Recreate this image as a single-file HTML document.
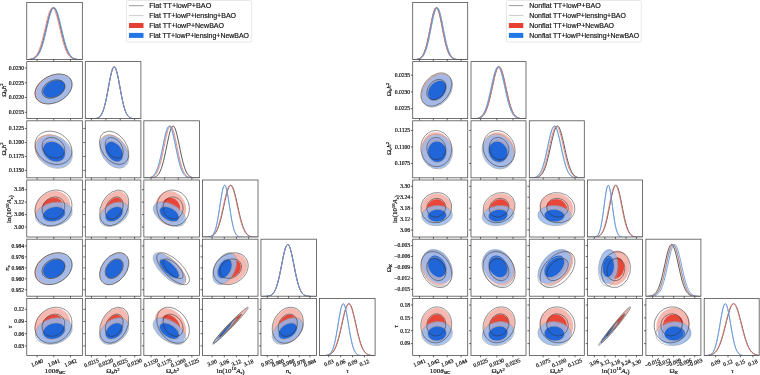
<!DOCTYPE html>
<html><head><meta charset="utf-8"><style>
html,body{margin:0;padding:0;background:#fff;width:760px;height:375px;overflow:hidden}
svg{display:block;will-change:transform}
.tk{font-family:"Liberation Serif",serif;font-size:5.6px;fill:#111;stroke:#111;stroke-width:0.2px}
.lb{font-family:"Liberation Serif",serif;font-size:7.0px;fill:#111;stroke:#111;stroke-width:0.18px}
.lg{font-family:"Liberation Sans",sans-serif;font-size:7.3px;fill:#111;stroke:#111;stroke-width:0.18px}
</style></head><body>
<svg width="760" height="375" viewBox="0 0 760 375">
<rect width="760" height="375" fill="#fff"/>
<clipPath id="cL00"><rect x="26.75" y="2.40" width="55.60" height="57.00"/></clipPath>
<clipPath id="cL10"><rect x="26.75" y="61.60" width="55.60" height="57.00"/></clipPath>
<clipPath id="cL11"><rect x="85.30" y="61.60" width="55.60" height="57.00"/></clipPath>
<clipPath id="cL20"><rect x="26.75" y="120.80" width="55.60" height="57.00"/></clipPath>
<clipPath id="cL21"><rect x="85.30" y="120.80" width="55.60" height="57.00"/></clipPath>
<clipPath id="cL22"><rect x="143.85" y="120.80" width="55.60" height="57.00"/></clipPath>
<clipPath id="cL30"><rect x="26.75" y="180.00" width="55.60" height="57.00"/></clipPath>
<clipPath id="cL31"><rect x="85.30" y="180.00" width="55.60" height="57.00"/></clipPath>
<clipPath id="cL32"><rect x="143.85" y="180.00" width="55.60" height="57.00"/></clipPath>
<clipPath id="cL33"><rect x="202.40" y="180.00" width="55.60" height="57.00"/></clipPath>
<clipPath id="cL40"><rect x="26.75" y="239.20" width="55.60" height="57.00"/></clipPath>
<clipPath id="cL41"><rect x="85.30" y="239.20" width="55.60" height="57.00"/></clipPath>
<clipPath id="cL42"><rect x="143.85" y="239.20" width="55.60" height="57.00"/></clipPath>
<clipPath id="cL43"><rect x="202.40" y="239.20" width="55.60" height="57.00"/></clipPath>
<clipPath id="cL44"><rect x="260.95" y="239.20" width="55.60" height="57.00"/></clipPath>
<clipPath id="cL50"><rect x="26.75" y="298.40" width="55.60" height="57.00"/></clipPath>
<clipPath id="cL51"><rect x="85.30" y="298.40" width="55.60" height="57.00"/></clipPath>
<clipPath id="cL52"><rect x="143.85" y="298.40" width="55.60" height="57.00"/></clipPath>
<clipPath id="cL53"><rect x="202.40" y="298.40" width="55.60" height="57.00"/></clipPath>
<clipPath id="cL54"><rect x="260.95" y="298.40" width="55.60" height="57.00"/></clipPath>
<clipPath id="cL55"><rect x="319.50" y="298.40" width="55.60" height="57.00"/></clipPath>
<g clip-path="url(#cL00)">
<polyline points="25.75,59.66 26.23,59.65 26.72,59.64 27.20,59.62 27.69,59.60 28.17,59.57 28.65,59.54 29.14,59.50 29.62,59.45 30.11,59.39 30.59,59.32 31.07,59.23 31.56,59.13 32.04,59.00 32.53,58.85 33.01,58.68 33.49,58.47 33.98,58.23 34.46,57.95 34.95,57.62 35.43,57.25 35.91,56.82 36.40,56.32 36.88,55.77 37.37,55.14 37.85,54.43 38.33,53.64 38.82,52.76 39.30,51.79 39.79,50.72 40.27,49.56 40.76,48.29 41.24,46.92 41.72,45.45 42.21,43.88 42.69,42.22 43.18,40.46 43.66,38.62 44.14,36.70 44.63,34.73 45.11,32.70 45.60,30.63 46.08,28.54 46.56,26.45 47.05,24.38 47.53,22.34 48.02,20.36 48.50,18.45 48.98,16.64 49.47,14.95 49.95,13.39 50.44,11.99 50.92,10.77 51.40,9.74 51.89,8.90 52.37,8.28 52.86,7.88 53.34,7.71 53.82,7.76 54.31,8.04 54.79,8.55 55.28,9.28 55.76,10.21 56.24,11.33 56.73,12.64 57.21,14.12 57.70,15.74 58.18,17.49 58.66,19.35 59.15,21.30 59.63,23.31 60.12,25.37 60.60,27.45 61.08,29.54 61.57,31.62 62.05,33.67 62.54,35.68 63.02,37.63 63.50,39.51 63.99,41.31 64.47,43.02 64.96,44.65 65.44,46.17 65.92,47.59 66.41,48.91 66.89,50.13 67.38,51.25 67.86,52.27 68.34,53.19 68.83,54.03 69.31,54.78 69.80,55.45 70.28,56.04 70.77,56.57 71.25,57.03 71.73,57.43 72.22,57.78 72.70,58.09 73.19,58.35 73.67,58.57 74.15,58.76 74.64,58.93 75.12,59.06 75.61,59.18 76.09,59.27 76.57,59.35 77.06,59.42 77.54,59.47 78.03,59.52 78.51,59.56 78.99,59.59 79.48,59.61 79.96,59.63 80.45,59.64 80.93,59.66 81.41,59.67 81.90,59.67 82.38,59.68 82.87,59.68 83.35,59.69" fill="none" stroke="#2a2a2a" stroke-width="0.80"/>
<polyline points="25.75,59.64 26.23,59.62 26.72,59.60 27.20,59.57 27.69,59.54 28.17,59.50 28.65,59.45 29.14,59.39 29.62,59.31 30.11,59.22 30.59,59.12 31.07,58.99 31.56,58.84 32.04,58.66 32.53,58.45 33.01,58.21 33.49,57.93 33.98,57.60 34.46,57.22 34.95,56.78 35.43,56.29 35.91,55.72 36.40,55.09 36.88,54.38 37.37,53.58 37.85,52.70 38.33,51.72 38.82,50.65 39.30,49.47 39.79,48.20 40.27,46.82 40.76,45.34 41.24,43.77 41.72,42.10 42.21,40.33 42.69,38.49 43.18,36.57 43.66,34.59 44.14,32.55 44.63,30.48 45.11,28.40 45.60,26.31 46.08,24.23 46.56,22.20 47.05,20.22 47.53,18.32 48.02,16.52 48.50,14.83 48.98,13.29 49.47,11.90 49.95,10.69 50.44,9.67 50.92,8.85 51.40,8.25 51.89,7.86 52.37,7.70 52.86,7.77 53.34,8.07 53.82,8.60 54.31,9.33 54.79,10.28 55.28,11.42 55.76,12.74 56.24,14.23 56.73,15.86 57.21,17.62 57.70,19.49 58.18,21.44 58.66,23.45 59.15,25.52 59.63,27.60 60.12,29.69 60.60,31.77 61.08,33.82 61.57,35.82 62.05,37.76 62.54,39.64 63.02,41.43 63.50,43.14 63.99,44.76 64.47,46.27 64.96,47.69 65.44,49.00 65.92,50.21 66.41,51.32 66.89,52.34 67.38,53.25 67.86,54.08 68.34,54.83 68.83,55.49 69.31,56.08 69.80,56.60 70.28,57.06 70.77,57.46 71.25,57.81 71.73,58.11 72.22,58.37 72.70,58.59 73.19,58.78 73.67,58.94 74.15,59.07 74.64,59.19 75.12,59.28 75.61,59.36 76.09,59.42 76.57,59.48 77.06,59.52 77.54,59.56 78.03,59.59 78.51,59.61 78.99,59.63 79.48,59.64 79.96,59.66 80.45,59.67 80.93,59.67 81.41,59.68 81.90,59.68 82.38,59.69 82.87,59.69 83.35,59.69" fill="none" stroke="#e87a70" stroke-width="0.90"/>
<polyline points="25.75,59.67 26.23,59.66 26.72,59.65 27.20,59.63 27.69,59.61 28.17,59.59 28.65,59.56 29.14,59.53 29.62,59.48 30.11,59.43 30.59,59.37 31.07,59.29 31.56,59.20 32.04,59.09 32.53,58.96 33.01,58.80 33.49,58.62 33.98,58.40 34.46,58.15 34.95,57.85 35.43,57.51 35.91,57.12 36.40,56.67 36.88,56.16 37.37,55.58 37.85,54.93 38.33,54.19 38.82,53.38 39.30,52.47 39.79,51.47 40.27,50.37 40.76,49.18 41.24,47.88 41.72,46.48 42.21,44.98 42.69,43.37 43.18,41.68 43.66,39.90 44.14,38.03 44.63,36.10 45.11,34.10 45.60,32.06 46.08,29.99 46.56,27.90 47.05,25.81 47.53,23.74 48.02,21.72 48.50,19.76 48.98,17.88 49.47,16.10 49.95,14.45 50.44,12.94 50.92,11.60 51.40,10.43 51.89,9.45 52.37,8.69 52.86,8.13 53.34,7.80 53.82,7.70 54.31,7.83 54.79,8.18 55.28,8.75 55.76,9.54 56.24,10.54 56.73,11.72 57.21,13.08 57.70,14.61 58.18,16.27 58.66,18.06 59.15,19.95 59.63,21.92 60.12,23.94 60.60,26.01 61.08,28.10 61.57,30.19 62.05,32.26 62.54,34.30 63.02,36.29 63.50,38.22 63.99,40.08 64.47,41.85 64.96,43.54 65.44,45.13 65.92,46.62 66.41,48.01 66.89,49.30 67.38,50.49 67.86,51.57 68.34,52.56 68.83,53.46 69.31,54.27 69.80,54.99 70.28,55.64 70.77,56.21 71.25,56.72 71.73,57.16 72.22,57.55 72.70,57.88 73.19,58.17 73.67,58.42 74.15,58.64 74.64,58.82 75.12,58.97 75.61,59.10 76.09,59.21 76.57,59.30 77.06,59.38 77.54,59.44 78.03,59.49 78.51,59.53 78.99,59.57 79.48,59.59 79.96,59.62 80.45,59.63 80.93,59.65 81.41,59.66 81.90,59.67 82.38,59.68 82.87,59.68 83.35,59.69" fill="none" stroke="#8a8a8a" stroke-width="0.60"/>
<polyline points="25.75,59.67 26.23,59.67 26.72,59.66 27.20,59.64 27.69,59.63 28.17,59.61 28.65,59.58 29.14,59.55 29.62,59.52 30.11,59.47 30.59,59.41 31.07,59.35 31.56,59.27 32.04,59.17 32.53,59.05 33.01,58.91 33.49,58.75 33.98,58.55 34.46,58.33 34.95,58.06 35.43,57.75 35.91,57.40 36.40,56.99 36.88,56.52 37.37,55.99 37.85,55.39 38.33,54.71 38.82,53.95 39.30,53.11 39.79,52.17 40.27,51.14 40.76,50.01 41.24,48.78 41.72,47.45 42.21,46.02 42.69,44.49 43.18,42.86 43.66,41.14 44.14,39.33 44.63,37.44 45.11,35.48 45.60,33.47 46.08,31.42 46.56,29.34 47.05,27.25 47.53,25.16 48.02,23.11 48.50,21.10 48.98,19.16 49.47,17.31 49.95,15.57 50.44,13.97 50.92,12.51 51.40,11.21 51.89,10.11 52.37,9.19 52.86,8.49 53.34,8.01 53.82,7.75 54.31,7.71 54.79,7.91 55.28,8.33 55.76,8.97 56.24,9.83 56.73,10.88 57.21,12.13 57.70,13.54 58.18,15.11 58.66,16.81 59.15,18.63 59.63,20.55 60.12,22.54 60.60,24.58 61.08,26.66 61.57,28.75 62.05,30.84 62.54,32.90 63.02,34.92 63.50,36.90 63.99,38.80 64.47,40.64 64.96,42.38 65.44,44.04 65.92,45.60 66.41,47.06 66.89,48.42 67.38,49.68 67.86,50.83 68.34,51.89 68.83,52.85 69.31,53.72 69.80,54.50 70.28,55.20 70.77,55.82 71.25,56.38 71.73,56.86 72.22,57.29 72.70,57.66 73.19,57.98 73.67,58.25 74.15,58.49 74.64,58.70 75.12,58.87 75.61,59.01 76.09,59.14 76.57,59.24 77.06,59.33 77.54,59.40 78.03,59.46 78.51,59.50 78.99,59.54 79.48,59.57 79.96,59.60 80.45,59.62 80.93,59.64 81.41,59.65 81.90,59.66 82.38,59.67 82.87,59.68 83.35,59.68" fill="none" stroke="#5a98ea" stroke-width="0.90"/>
</g>
<rect x="26.75" y="2.40" width="55.60" height="57.00" fill="none" stroke="#505050" stroke-width="0.8"/>
<path d="M37.10 59.40v1.9M53.80 59.40v1.9M70.50 59.40v1.9" stroke="#2a2a2a" stroke-width="0.7" fill="none"/>
<g clip-path="url(#cL10)">
<ellipse cx="52.46" cy="88.97" rx="18.95" ry="12.99" transform="rotate(152.78 52.46 88.97)" fill="#f3ada5" fill-opacity="0.85"/>
<ellipse cx="52.46" cy="88.97" rx="11.73" ry="8.04" transform="rotate(152.78 52.46 88.97)" fill="#e63f33" fill-opacity="0.95"/>
<ellipse cx="54.13" cy="88.97" rx="18.95" ry="12.99" transform="rotate(152.78 54.13 88.97)" fill="#98b8ee" fill-opacity="0.85"/>
<ellipse cx="54.13" cy="88.97" rx="11.73" ry="8.04" transform="rotate(152.78 54.13 88.97)" fill="#1a62d8" fill-opacity="0.95"/>
<ellipse cx="53.80" cy="88.97" rx="19.61" ry="13.44" transform="rotate(152.78 53.80 88.97)" fill="none" stroke="#9a9a9a" stroke-width="0.6"/>
<ellipse cx="53.80" cy="88.97" rx="12.14" ry="8.32" transform="rotate(152.78 53.80 88.97)" fill="none" stroke="#9a9a9a" stroke-width="0.6"/>
<ellipse cx="53.47" cy="88.97" rx="19.61" ry="13.44" transform="rotate(152.78 53.47 88.97)" fill="none" stroke="#333333" stroke-width="0.5"/>
<ellipse cx="53.47" cy="88.97" rx="12.14" ry="8.32" transform="rotate(152.78 53.47 88.97)" fill="none" stroke="#333333" stroke-width="0.5"/>
</g>
<rect x="26.75" y="61.60" width="55.60" height="57.00" fill="none" stroke="#505050" stroke-width="0.8"/>
<path d="M37.10 118.60v1.9M53.80 118.60v1.9M70.50 118.60v1.9M26.75 112.27h-1.9M26.75 97.52h-1.9M26.75 82.78h-1.9M26.75 68.03h-1.9" stroke="#2a2a2a" stroke-width="0.7" fill="none"/>
<g clip-path="url(#cL11)">
<polyline points="84.30,118.90 84.78,118.90 85.27,118.90 85.75,118.90 86.24,118.90 86.72,118.90 87.20,118.90 87.69,118.90 88.17,118.90 88.66,118.90 89.14,118.90 89.62,118.89 90.11,118.89 90.59,118.89 91.08,118.88 91.56,118.88 92.04,118.87 92.53,118.86 93.01,118.84 93.50,118.82 93.98,118.79 94.46,118.76 94.95,118.71 95.43,118.65 95.92,118.57 96.40,118.47 96.88,118.34 97.37,118.18 97.85,117.98 98.34,117.74 98.82,117.44 99.31,117.08 99.79,116.64 100.27,116.12 100.76,115.51 101.24,114.78 101.73,113.94 102.21,112.97 102.69,111.86 103.18,110.60 103.66,109.19 104.15,107.61 104.63,105.87 105.11,103.96 105.60,101.90 106.08,99.69 106.57,97.34 107.05,94.88 107.53,92.33 108.02,89.71 108.50,87.06 108.99,84.42 109.47,81.82 109.95,79.30 110.44,76.91 110.92,74.70 111.41,72.69 111.89,70.93 112.37,69.46 112.86,68.30 113.34,67.48 113.83,67.01 114.31,66.91 114.79,67.18 115.28,67.80 115.76,68.78 116.25,70.08 116.73,71.69 117.21,73.56 117.70,75.67 118.18,77.97 118.67,80.42 119.15,82.98 119.63,85.60 120.12,88.25 120.60,90.89 121.09,93.48 121.57,96.00 122.05,98.41 122.54,100.70 123.02,102.84 123.51,104.84 123.99,106.67 124.47,108.34 124.96,109.84 125.44,111.19 125.93,112.38 126.41,113.43 126.89,114.34 127.38,115.12 127.86,115.80 128.35,116.37 128.83,116.85 129.32,117.25 129.80,117.58 130.28,117.85 130.77,118.08 131.25,118.26 131.74,118.40 132.22,118.51 132.70,118.60 133.19,118.68 133.67,118.73 134.16,118.77 134.64,118.81 135.12,118.83 135.61,118.85 136.09,118.86 136.58,118.87 137.06,118.88 137.54,118.89 138.03,118.89 138.51,118.89 139.00,118.90 139.48,118.90 139.96,118.90 140.45,118.90 140.93,118.90 141.42,118.90 141.90,118.90" fill="none" stroke="#2a2a2a" stroke-width="0.80"/>
<polyline points="84.30,118.90 84.78,118.90 85.27,118.90 85.75,118.90 86.24,118.90 86.72,118.90 87.20,118.90 87.69,118.90 88.17,118.90 88.66,118.90 89.14,118.90 89.62,118.89 90.11,118.89 90.59,118.89 91.08,118.88 91.56,118.88 92.04,118.87 92.53,118.86 93.01,118.84 93.50,118.82 93.98,118.79 94.46,118.76 94.95,118.71 95.43,118.65 95.92,118.57 96.40,118.47 96.88,118.34 97.37,118.18 97.85,117.98 98.34,117.74 98.82,117.44 99.31,117.08 99.79,116.64 100.27,116.12 100.76,115.51 101.24,114.78 101.73,113.94 102.21,112.97 102.69,111.86 103.18,110.60 103.66,109.19 104.15,107.61 104.63,105.87 105.11,103.96 105.60,101.90 106.08,99.69 106.57,97.34 107.05,94.88 107.53,92.33 108.02,89.71 108.50,87.06 108.99,84.42 109.47,81.82 109.95,79.30 110.44,76.91 110.92,74.70 111.41,72.69 111.89,70.93 112.37,69.46 112.86,68.30 113.34,67.48 113.83,67.01 114.31,66.91 114.79,67.18 115.28,67.80 115.76,68.78 116.25,70.08 116.73,71.69 117.21,73.56 117.70,75.67 118.18,77.97 118.67,80.42 119.15,82.98 119.63,85.60 120.12,88.25 120.60,90.89 121.09,93.48 121.57,96.00 122.05,98.41 122.54,100.70 123.02,102.84 123.51,104.84 123.99,106.67 124.47,108.34 124.96,109.84 125.44,111.19 125.93,112.38 126.41,113.43 126.89,114.34 127.38,115.12 127.86,115.80 128.35,116.37 128.83,116.85 129.32,117.25 129.80,117.58 130.28,117.85 130.77,118.08 131.25,118.26 131.74,118.40 132.22,118.51 132.70,118.60 133.19,118.68 133.67,118.73 134.16,118.77 134.64,118.81 135.12,118.83 135.61,118.85 136.09,118.86 136.58,118.87 137.06,118.88 137.54,118.89 138.03,118.89 138.51,118.89 139.00,118.90 139.48,118.90 139.96,118.90 140.45,118.90 140.93,118.90 141.42,118.90 141.90,118.90" fill="none" stroke="#e87a70" stroke-width="0.90"/>
<polyline points="84.30,118.90 84.78,118.90 85.27,118.90 85.75,118.90 86.24,118.90 86.72,118.90 87.20,118.90 87.69,118.90 88.17,118.90 88.66,118.90 89.14,118.90 89.62,118.89 90.11,118.89 90.59,118.89 91.08,118.88 91.56,118.88 92.04,118.87 92.53,118.86 93.01,118.84 93.50,118.82 93.98,118.79 94.46,118.76 94.95,118.71 95.43,118.65 95.92,118.57 96.40,118.47 96.88,118.34 97.37,118.18 97.85,117.98 98.34,117.74 98.82,117.44 99.31,117.08 99.79,116.64 100.27,116.12 100.76,115.51 101.24,114.78 101.73,113.94 102.21,112.97 102.69,111.86 103.18,110.60 103.66,109.19 104.15,107.61 104.63,105.87 105.11,103.96 105.60,101.90 106.08,99.69 106.57,97.34 107.05,94.88 107.53,92.33 108.02,89.71 108.50,87.06 108.99,84.42 109.47,81.82 109.95,79.30 110.44,76.91 110.92,74.70 111.41,72.69 111.89,70.93 112.37,69.46 112.86,68.30 113.34,67.48 113.83,67.01 114.31,66.91 114.79,67.18 115.28,67.80 115.76,68.78 116.25,70.08 116.73,71.69 117.21,73.56 117.70,75.67 118.18,77.97 118.67,80.42 119.15,82.98 119.63,85.60 120.12,88.25 120.60,90.89 121.09,93.48 121.57,96.00 122.05,98.41 122.54,100.70 123.02,102.84 123.51,104.84 123.99,106.67 124.47,108.34 124.96,109.84 125.44,111.19 125.93,112.38 126.41,113.43 126.89,114.34 127.38,115.12 127.86,115.80 128.35,116.37 128.83,116.85 129.32,117.25 129.80,117.58 130.28,117.85 130.77,118.08 131.25,118.26 131.74,118.40 132.22,118.51 132.70,118.60 133.19,118.68 133.67,118.73 134.16,118.77 134.64,118.81 135.12,118.83 135.61,118.85 136.09,118.86 136.58,118.87 137.06,118.88 137.54,118.89 138.03,118.89 138.51,118.89 139.00,118.90 139.48,118.90 139.96,118.90 140.45,118.90 140.93,118.90 141.42,118.90 141.90,118.90" fill="none" stroke="#8a8a8a" stroke-width="0.60"/>
<polyline points="84.30,118.90 84.78,118.90 85.27,118.90 85.75,118.90 86.24,118.90 86.72,118.90 87.20,118.90 87.69,118.90 88.17,118.90 88.66,118.90 89.14,118.90 89.62,118.89 90.11,118.89 90.59,118.89 91.08,118.88 91.56,118.88 92.04,118.87 92.53,118.86 93.01,118.84 93.50,118.82 93.98,118.79 94.46,118.76 94.95,118.71 95.43,118.65 95.92,118.57 96.40,118.47 96.88,118.34 97.37,118.18 97.85,117.98 98.34,117.74 98.82,117.44 99.31,117.08 99.79,116.64 100.27,116.12 100.76,115.51 101.24,114.78 101.73,113.94 102.21,112.97 102.69,111.86 103.18,110.60 103.66,109.19 104.15,107.61 104.63,105.87 105.11,103.96 105.60,101.90 106.08,99.69 106.57,97.34 107.05,94.88 107.53,92.33 108.02,89.71 108.50,87.06 108.99,84.42 109.47,81.82 109.95,79.30 110.44,76.91 110.92,74.70 111.41,72.69 111.89,70.93 112.37,69.46 112.86,68.30 113.34,67.48 113.83,67.01 114.31,66.91 114.79,67.18 115.28,67.80 115.76,68.78 116.25,70.08 116.73,71.69 117.21,73.56 117.70,75.67 118.18,77.97 118.67,80.42 119.15,82.98 119.63,85.60 120.12,88.25 120.60,90.89 121.09,93.48 121.57,96.00 122.05,98.41 122.54,100.70 123.02,102.84 123.51,104.84 123.99,106.67 124.47,108.34 124.96,109.84 125.44,111.19 125.93,112.38 126.41,113.43 126.89,114.34 127.38,115.12 127.86,115.80 128.35,116.37 128.83,116.85 129.32,117.25 129.80,117.58 130.28,117.85 130.77,118.08 131.25,118.26 131.74,118.40 132.22,118.51 132.70,118.60 133.19,118.68 133.67,118.73 134.16,118.77 134.64,118.81 135.12,118.83 135.61,118.85 136.09,118.86 136.58,118.87 137.06,118.88 137.54,118.89 138.03,118.89 138.51,118.89 139.00,118.90 139.48,118.90 139.96,118.90 140.45,118.90 140.93,118.90 141.42,118.90 141.90,118.90" fill="none" stroke="#5a98ea" stroke-width="0.90"/>
</g>
<rect x="85.30" y="61.60" width="55.60" height="57.00" fill="none" stroke="#505050" stroke-width="0.8"/>
<path d="M91.47 118.60v1.9M105.86 118.60v1.9M120.24 118.60v1.9M134.63 118.60v1.9" stroke="#2a2a2a" stroke-width="0.7" fill="none"/>
<g clip-path="url(#cL20)">
<ellipse cx="52.46" cy="150.45" rx="18.82" ry="14.99" transform="rotate(-148.59 52.46 150.45)" fill="#f3ada5" fill-opacity="0.85"/>
<ellipse cx="52.46" cy="150.45" rx="11.65" ry="9.28" transform="rotate(-148.59 52.46 150.45)" fill="#e63f33" fill-opacity="0.95"/>
<ellipse cx="54.13" cy="151.79" rx="18.96" ry="14.82" transform="rotate(-147.51 54.13 151.79)" fill="#98b8ee" fill-opacity="0.85"/>
<ellipse cx="54.13" cy="151.79" rx="11.73" ry="9.17" transform="rotate(-147.51 54.13 151.79)" fill="#1a62d8" fill-opacity="0.95"/>
<ellipse cx="53.80" cy="151.57" rx="19.62" ry="15.34" transform="rotate(-147.51 53.80 151.57)" fill="none" stroke="#9a9a9a" stroke-width="0.6"/>
<ellipse cx="53.80" cy="151.57" rx="12.15" ry="9.49" transform="rotate(-147.51 53.80 151.57)" fill="none" stroke="#9a9a9a" stroke-width="0.6"/>
<ellipse cx="53.47" cy="147.83" rx="19.48" ry="15.52" transform="rotate(-148.59 53.47 147.83)" fill="none" stroke="#333333" stroke-width="0.5"/>
<ellipse cx="53.47" cy="147.83" rx="12.06" ry="9.60" transform="rotate(-148.59 53.47 147.83)" fill="none" stroke="#333333" stroke-width="0.5"/>
</g>
<rect x="26.75" y="120.80" width="55.60" height="57.00" fill="none" stroke="#505050" stroke-width="0.8"/>
<path d="M37.10 177.80v1.9M53.80 177.80v1.9M70.50 177.80v1.9M26.75 170.43h-1.9M26.75 156.48h-1.9M26.75 142.52h-1.9M26.75 128.57h-1.9" stroke="#2a2a2a" stroke-width="0.7" fill="none"/>
<g clip-path="url(#cL21)">
<ellipse cx="114.20" cy="150.45" rx="17.73" ry="12.00" transform="rotate(55.59 114.20 150.45)" fill="#f3ada5" fill-opacity="0.85"/>
<ellipse cx="114.20" cy="150.45" rx="10.97" ry="7.43" transform="rotate(55.59 114.20 150.45)" fill="#e63f33" fill-opacity="0.95"/>
<ellipse cx="114.20" cy="151.79" rx="17.73" ry="12.00" transform="rotate(55.59 114.20 151.79)" fill="#98b8ee" fill-opacity="0.85"/>
<ellipse cx="114.20" cy="151.79" rx="10.97" ry="7.43" transform="rotate(55.59 114.20 151.79)" fill="#1a62d8" fill-opacity="0.95"/>
<ellipse cx="114.20" cy="151.57" rx="18.35" ry="12.42" transform="rotate(55.59 114.20 151.57)" fill="none" stroke="#9a9a9a" stroke-width="0.6"/>
<ellipse cx="114.20" cy="151.57" rx="11.36" ry="7.69" transform="rotate(55.59 114.20 151.57)" fill="none" stroke="#9a9a9a" stroke-width="0.6"/>
<ellipse cx="114.20" cy="147.83" rx="18.35" ry="12.42" transform="rotate(55.59 114.20 147.83)" fill="none" stroke="#333333" stroke-width="0.5"/>
<ellipse cx="114.20" cy="147.83" rx="11.36" ry="7.69" transform="rotate(55.59 114.20 147.83)" fill="none" stroke="#333333" stroke-width="0.5"/>
</g>
<rect x="85.30" y="120.80" width="55.60" height="57.00" fill="none" stroke="#505050" stroke-width="0.8"/>
<path d="M91.47 177.80v1.9M105.86 177.80v1.9M120.24 177.80v1.9M134.63 177.80v1.9M85.30 170.43h-1.9M85.30 156.48h-1.9M85.30 142.52h-1.9M85.30 128.57h-1.9" stroke="#2a2a2a" stroke-width="0.7" fill="none"/>
<g clip-path="url(#cL22)">
<polyline points="142.85,178.10 143.33,178.10 143.82,178.10 144.30,178.10 144.79,178.10 145.27,178.10 145.75,178.09 146.24,178.09 146.72,178.09 147.21,178.08 147.69,178.08 148.17,178.07 148.66,178.06 149.14,178.05 149.63,178.03 150.11,178.01 150.59,177.99 151.08,177.95 151.56,177.91 152.05,177.86 152.53,177.79 153.01,177.70 153.50,177.60 153.98,177.47 154.47,177.32 154.95,177.13 155.43,176.91 155.92,176.64 156.40,176.31 156.89,175.93 157.37,175.49 157.86,174.97 158.34,174.37 158.82,173.68 159.31,172.89 159.79,171.99 160.28,170.98 160.76,169.85 161.24,168.59 161.73,167.21 162.21,165.69 162.70,164.04 163.18,162.26 163.66,160.36 164.15,158.35 164.63,156.23 165.12,154.02 165.60,151.73 166.08,149.39 166.57,147.02 167.05,144.65 167.54,142.30 168.02,140.00 168.50,137.78 168.99,135.68 169.47,133.71 169.96,131.92 170.44,130.33 170.92,128.97 171.41,127.85 171.89,126.99 172.38,126.42 172.86,126.13 173.34,126.14 173.83,126.44 174.31,127.04 174.80,127.91 175.28,129.04 175.76,130.42 176.25,132.03 176.73,133.83 177.22,135.80 177.70,137.92 178.18,140.14 178.67,142.44 179.15,144.80 179.64,147.17 180.12,149.54 180.60,151.87 181.09,154.15 181.57,156.36 182.06,158.47 182.54,160.48 183.02,162.38 183.51,164.15 183.99,165.79 184.48,167.29 184.96,168.67 185.44,169.92 185.93,171.04 186.41,172.05 186.90,172.94 187.38,173.72 187.87,174.41 188.35,175.00 188.83,175.52 189.32,175.96 189.80,176.34 190.29,176.65 190.77,176.92 191.25,177.14 191.74,177.33 192.22,177.48 192.71,177.61 193.19,177.71 193.67,177.79 194.16,177.86 194.64,177.91 195.13,177.96 195.61,177.99 196.09,178.01 196.58,178.03 197.06,178.05 197.55,178.06 198.03,178.07 198.51,178.08 199.00,178.08 199.48,178.09 199.97,178.09 200.45,178.09" fill="none" stroke="#2a2a2a" stroke-width="0.80"/>
<polyline points="142.85,178.10 143.33,178.09 143.82,178.09 144.30,178.09 144.79,178.08 145.27,178.08 145.75,178.07 146.24,178.06 146.72,178.05 147.21,178.03 147.69,178.01 148.17,177.98 148.66,177.94 149.14,177.90 149.63,177.84 150.11,177.77 150.59,177.68 151.08,177.57 151.56,177.43 152.05,177.27 152.53,177.07 153.01,176.83 153.50,176.55 153.98,176.21 154.47,175.81 154.95,175.35 155.43,174.81 155.92,174.18 156.40,173.46 156.89,172.64 157.37,171.71 157.86,170.67 158.34,169.50 158.82,168.21 159.31,166.78 159.79,165.23 160.28,163.54 160.76,161.73 161.24,159.80 161.73,157.75 162.21,155.60 162.70,153.37 163.18,151.06 163.66,148.71 164.15,146.34 164.63,143.97 165.12,141.63 165.60,139.35 166.08,137.16 166.57,135.10 167.05,133.18 167.54,131.44 168.02,129.92 168.50,128.62 168.99,127.57 169.47,126.80 169.96,126.31 170.44,126.10 170.92,126.20 171.41,126.59 171.89,127.26 172.38,128.21 172.86,129.41 173.34,130.86 173.83,132.53 174.31,134.38 174.80,136.40 175.28,138.54 175.76,140.79 176.25,143.11 176.73,145.48 177.22,147.85 177.70,150.21 178.18,152.53 178.67,154.80 179.15,156.98 179.64,159.06 180.12,161.04 180.60,162.90 181.09,164.63 181.57,166.23 182.06,167.70 182.54,169.04 183.02,170.26 183.51,171.34 183.99,172.31 184.48,173.17 184.96,173.93 185.44,174.59 185.93,175.16 186.41,175.65 186.90,176.07 187.38,176.43 187.87,176.74 188.35,176.99 188.83,177.20 189.32,177.38 189.80,177.52 190.29,177.64 190.77,177.74 191.25,177.81 191.74,177.88 192.22,177.93 192.71,177.97 193.19,178.00 193.67,178.02 194.16,178.04 194.64,178.05 195.13,178.07 195.61,178.07 196.09,178.08 196.58,178.09 197.06,178.09 197.55,178.09 198.03,178.09 198.51,178.10 199.00,178.10 199.48,178.10 199.97,178.10 200.45,178.10" fill="none" stroke="#e87a70" stroke-width="0.90"/>
<polyline points="142.85,178.09 143.33,178.09 143.82,178.08 144.30,178.08 144.79,178.07 145.27,178.06 145.75,178.04 146.24,178.02 146.72,178.00 147.21,177.97 147.69,177.93 148.17,177.88 148.66,177.82 149.14,177.75 149.63,177.65 150.11,177.54 150.59,177.40 151.08,177.22 151.56,177.02 152.05,176.77 152.53,176.47 153.01,176.12 153.50,175.70 153.98,175.22 154.47,174.66 154.95,174.01 155.43,173.26 155.92,172.42 156.40,171.46 156.89,170.39 157.37,169.19 157.86,167.86 158.34,166.41 158.82,164.82 159.31,163.10 159.79,161.26 160.28,159.29 160.76,157.22 161.24,155.05 161.73,152.80 162.21,150.48 162.70,148.12 163.18,145.75 163.66,143.38 164.15,141.06 164.63,138.80 165.12,136.64 165.60,134.60 166.08,132.73 166.57,131.04 167.05,129.57 167.54,128.33 168.02,127.35 168.50,126.65 168.99,126.23 169.47,126.10 169.96,126.27 170.44,126.73 170.92,127.47 171.41,128.49 171.89,129.75 172.38,131.26 172.86,132.97 173.34,134.87 173.83,136.92 174.31,139.10 174.80,141.37 175.28,143.70 175.76,146.07 176.25,148.44 176.73,150.80 177.22,153.11 177.70,155.35 178.18,157.51 178.67,159.57 179.15,161.52 179.64,163.34 180.12,165.04 180.60,166.61 181.09,168.05 181.57,169.36 182.06,170.54 182.54,171.60 183.02,172.54 183.51,173.37 183.99,174.10 184.48,174.74 184.96,175.29 185.44,175.76 185.93,176.17 186.41,176.51 186.90,176.80 187.38,177.05 187.87,177.25 188.35,177.42 188.83,177.55 189.32,177.67 189.80,177.76 190.29,177.83 190.77,177.89 191.25,177.94 191.74,177.97 192.22,178.00 192.71,178.03 193.19,178.04 193.67,178.06 194.16,178.07 194.64,178.08 195.13,178.08 195.61,178.09 196.09,178.09 196.58,178.09 197.06,178.09 197.55,178.10 198.03,178.10 198.51,178.10 199.00,178.10 199.48,178.10 199.97,178.10 200.45,178.10" fill="none" stroke="#8a8a8a" stroke-width="0.60"/>
<polyline points="142.85,178.09 143.33,178.08 143.82,178.08 144.30,178.07 144.79,178.06 145.27,178.05 145.75,178.03 146.24,178.01 146.72,177.99 147.21,177.95 147.69,177.91 148.17,177.86 148.66,177.79 149.14,177.71 149.63,177.60 150.11,177.48 150.59,177.32 151.08,177.13 151.56,176.91 152.05,176.64 152.53,176.32 153.01,175.94 153.50,175.50 153.98,174.98 154.47,174.38 154.95,173.69 155.43,172.90 155.92,172.00 156.40,170.99 156.89,169.86 157.37,168.61 157.86,167.22 158.34,165.71 158.82,164.06 159.31,162.29 159.79,160.39 160.28,158.37 160.76,156.25 161.24,154.04 161.73,151.76 162.21,149.42 162.70,147.05 163.18,144.68 163.66,142.33 164.15,140.03 164.63,137.81 165.12,135.70 165.60,133.74 166.08,131.94 166.57,130.35 167.05,128.98 167.54,127.86 168.02,127.00 168.50,126.42 168.99,126.13 169.47,126.14 169.96,126.44 170.44,127.03 170.92,127.89 171.41,129.03 171.89,130.40 172.38,132.01 172.86,133.81 173.34,135.78 173.83,137.89 174.31,140.11 174.80,142.41 175.28,144.77 175.76,147.14 176.25,149.51 176.73,151.84 177.22,154.12 177.70,156.33 178.18,158.45 178.67,160.46 179.15,162.35 179.64,164.12 180.12,165.77 180.60,167.28 181.09,168.66 181.57,169.91 182.06,171.03 182.54,172.04 183.02,172.93 183.51,173.71 183.99,174.40 184.48,175.00 184.96,175.51 185.44,175.95 185.93,176.33 186.41,176.65 186.90,176.92 187.38,177.14 187.87,177.33 188.35,177.48 188.83,177.61 189.32,177.71 189.80,177.79 190.29,177.86 190.77,177.91 191.25,177.95 191.74,177.99 192.22,178.01 192.71,178.03 193.19,178.05 193.67,178.06 194.16,178.07 194.64,178.08 195.13,178.08 195.61,178.09 196.09,178.09 196.58,178.09 197.06,178.10 197.55,178.10 198.03,178.10 198.51,178.10 199.00,178.10 199.48,178.10 199.97,178.10 200.45,178.10" fill="none" stroke="#5a98ea" stroke-width="0.90"/>
</g>
<rect x="143.85" y="120.80" width="55.60" height="57.00" fill="none" stroke="#505050" stroke-width="0.8"/>
<path d="M151.03 177.80v1.9M164.65 177.80v1.9M178.26 177.80v1.9M191.87 177.80v1.9" stroke="#2a2a2a" stroke-width="0.7" fill="none"/>
<g clip-path="url(#cL30)">
<ellipse cx="52.46" cy="208.38" rx="18.87" ry="16.16" transform="rotate(141.39 52.46 208.38)" fill="#f3ada5" fill-opacity="0.85"/>
<ellipse cx="52.46" cy="208.38" rx="11.68" ry="10.00" transform="rotate(141.39 52.46 208.38)" fill="#e63f33" fill-opacity="0.95"/>
<ellipse cx="54.13" cy="214.15" rx="18.14" ry="11.52" transform="rotate(167.12 54.13 214.15)" fill="#98b8ee" fill-opacity="0.85"/>
<ellipse cx="54.13" cy="214.15" rx="11.22" ry="7.13" transform="rotate(167.12 54.13 214.15)" fill="#1a62d8" fill-opacity="0.95"/>
<ellipse cx="53.80" cy="214.15" rx="18.77" ry="11.92" transform="rotate(167.12 53.80 214.15)" fill="none" stroke="#9a9a9a" stroke-width="0.6"/>
<ellipse cx="53.80" cy="214.15" rx="11.62" ry="7.38" transform="rotate(167.12 53.80 214.15)" fill="none" stroke="#9a9a9a" stroke-width="0.6"/>
<ellipse cx="53.47" cy="207.92" rx="19.53" ry="16.73" transform="rotate(141.39 53.47 207.92)" fill="none" stroke="#333333" stroke-width="0.5"/>
<ellipse cx="53.47" cy="207.92" rx="12.09" ry="10.35" transform="rotate(141.39 53.47 207.92)" fill="none" stroke="#333333" stroke-width="0.5"/>
</g>
<rect x="26.75" y="180.00" width="55.60" height="57.00" fill="none" stroke="#505050" stroke-width="0.8"/>
<path d="M37.10 237.00v1.9M53.80 237.00v1.9M70.50 237.00v1.9M26.75 227.01h-1.9M26.75 214.56h-1.9M26.75 202.12h-1.9M26.75 189.67h-1.9" stroke="#2a2a2a" stroke-width="0.7" fill="none"/>
<g clip-path="url(#cL31)">
<ellipse cx="114.20" cy="208.38" rx="18.35" ry="12.65" transform="rotate(117.82 114.20 208.38)" fill="#f3ada5" fill-opacity="0.85"/>
<ellipse cx="114.20" cy="208.38" rx="11.36" ry="7.83" transform="rotate(117.82 114.20 208.38)" fill="#e63f33" fill-opacity="0.95"/>
<ellipse cx="114.20" cy="214.15" rx="15.35" ry="10.26" transform="rotate(147.72 114.20 214.15)" fill="#98b8ee" fill-opacity="0.85"/>
<ellipse cx="114.20" cy="214.15" rx="9.50" ry="6.35" transform="rotate(147.72 114.20 214.15)" fill="#1a62d8" fill-opacity="0.95"/>
<ellipse cx="114.20" cy="214.15" rx="15.89" ry="10.62" transform="rotate(147.72 114.20 214.15)" fill="none" stroke="#9a9a9a" stroke-width="0.6"/>
<ellipse cx="114.20" cy="214.15" rx="9.83" ry="6.57" transform="rotate(147.72 114.20 214.15)" fill="none" stroke="#9a9a9a" stroke-width="0.6"/>
<ellipse cx="114.20" cy="207.92" rx="18.99" ry="13.09" transform="rotate(117.82 114.20 207.92)" fill="none" stroke="#333333" stroke-width="0.5"/>
<ellipse cx="114.20" cy="207.92" rx="11.75" ry="8.10" transform="rotate(117.82 114.20 207.92)" fill="none" stroke="#333333" stroke-width="0.5"/>
</g>
<rect x="85.30" y="180.00" width="55.60" height="57.00" fill="none" stroke="#505050" stroke-width="0.8"/>
<path d="M91.47 237.00v1.9M105.86 237.00v1.9M120.24 237.00v1.9M134.63 237.00v1.9M85.30 227.01h-1.9M85.30 214.56h-1.9M85.30 202.12h-1.9M85.30 189.67h-1.9" stroke="#2a2a2a" stroke-width="0.7" fill="none"/>
<g clip-path="url(#cL32)">
<ellipse cx="170.53" cy="208.38" rx="17.37" ry="15.62" transform="rotate(75.93 170.53 208.38)" fill="#f3ada5" fill-opacity="0.85"/>
<ellipse cx="170.53" cy="208.38" rx="10.75" ry="9.67" transform="rotate(75.93 170.53 208.38)" fill="#e63f33" fill-opacity="0.95"/>
<ellipse cx="169.22" cy="214.15" rx="17.16" ry="9.77" transform="rotate(-150.92 169.22 214.15)" fill="#98b8ee" fill-opacity="0.85"/>
<ellipse cx="169.22" cy="214.15" rx="10.62" ry="6.05" transform="rotate(-150.92 169.22 214.15)" fill="#1a62d8" fill-opacity="0.95"/>
<ellipse cx="169.44" cy="214.15" rx="17.76" ry="10.11" transform="rotate(-150.92 169.44 214.15)" fill="none" stroke="#9a9a9a" stroke-width="0.6"/>
<ellipse cx="169.44" cy="214.15" rx="10.99" ry="6.26" transform="rotate(-150.92 169.44 214.15)" fill="none" stroke="#9a9a9a" stroke-width="0.6"/>
<ellipse cx="173.09" cy="207.92" rx="17.97" ry="16.17" transform="rotate(75.93 173.09 207.92)" fill="none" stroke="#333333" stroke-width="0.5"/>
<ellipse cx="173.09" cy="207.92" rx="11.12" ry="10.01" transform="rotate(75.93 173.09 207.92)" fill="none" stroke="#333333" stroke-width="0.5"/>
</g>
<rect x="143.85" y="180.00" width="55.60" height="57.00" fill="none" stroke="#505050" stroke-width="0.8"/>
<path d="M151.03 237.00v1.9M164.65 237.00v1.9M178.26 237.00v1.9M191.87 237.00v1.9M143.85 227.01h-1.9M143.85 214.56h-1.9M143.85 202.12h-1.9M143.85 189.67h-1.9" stroke="#2a2a2a" stroke-width="0.7" fill="none"/>
<g clip-path="url(#cL33)">
<polyline points="201.40,237.29 201.88,237.29 202.37,237.29 202.85,237.29 203.34,237.28 203.82,237.28 204.30,237.27 204.79,237.26 205.27,237.25 205.76,237.23 206.24,237.21 206.72,237.18 207.21,237.15 207.69,237.11 208.18,237.06 208.66,237.00 209.14,236.93 209.63,236.83 210.11,236.72 210.60,236.59 211.08,236.43 211.56,236.24 212.05,236.01 212.53,235.74 213.02,235.43 213.50,235.06 213.98,234.64 214.47,234.15 214.95,233.59 215.44,232.95 215.92,232.22 216.41,231.40 216.89,230.49 217.37,229.47 217.86,228.34 218.34,227.10 218.83,225.75 219.31,224.28 219.79,222.70 220.28,221.01 220.76,219.21 221.25,217.32 221.73,215.33 222.21,213.26 222.70,211.13 223.18,208.95 223.67,206.74 224.15,204.53 224.63,202.32 225.12,200.15 225.60,198.04 226.09,196.02 226.57,194.11 227.05,192.33 227.54,190.70 228.02,189.26 228.51,188.02 228.99,186.99 229.47,186.20 229.96,185.65 230.44,185.36 230.93,185.31 231.41,185.53 231.89,186.00 232.38,186.72 232.86,187.67 233.35,188.84 233.83,190.22 234.31,191.79 234.80,193.52 235.28,195.40 235.77,197.39 236.25,199.47 236.73,201.63 237.22,203.82 237.70,206.04 238.19,208.25 238.67,210.44 239.15,212.59 239.64,214.68 240.12,216.69 240.61,218.62 241.09,220.45 241.57,222.18 242.06,223.79 242.54,225.30 243.03,226.69 243.51,227.96 243.99,229.12 244.48,230.17 244.96,231.12 245.45,231.97 245.93,232.72 246.42,233.39 246.90,233.98 247.38,234.49 247.87,234.94 248.35,235.32 248.84,235.65 249.32,235.93 249.80,236.17 250.29,236.37 250.77,236.54 251.26,236.68 251.74,236.80 252.22,236.90 252.71,236.98 253.19,237.04 253.68,237.10 254.16,237.14 254.64,237.17 255.13,237.20 255.61,237.22 256.10,237.24 256.58,237.25 257.06,237.27 257.55,237.27 258.03,237.28 258.52,237.28 259.00,237.29" fill="none" stroke="#2a2a2a" stroke-width="0.80"/>
<polyline points="201.40,237.29 201.88,237.29 202.37,237.29 202.85,237.28 203.34,237.28 203.82,237.27 204.30,237.26 204.79,237.25 205.27,237.23 205.76,237.21 206.24,237.19 206.72,237.15 207.21,237.12 207.69,237.07 208.18,237.01 208.66,236.93 209.14,236.84 209.63,236.73 210.11,236.60 210.60,236.44 211.08,236.26 211.56,236.03 212.05,235.77 212.53,235.46 213.02,235.09 213.50,234.67 213.98,234.19 214.47,233.63 214.95,233.00 215.44,232.28 215.92,231.47 216.41,230.56 216.89,229.55 217.37,228.44 217.86,227.21 218.34,225.86 218.83,224.41 219.31,222.83 219.79,221.15 220.28,219.36 220.76,217.47 221.25,215.49 221.73,213.43 222.21,211.30 222.70,209.13 223.18,206.92 223.67,204.70 224.15,202.50 224.63,200.32 225.12,198.21 225.60,196.18 226.09,194.25 226.57,192.46 227.05,190.83 227.54,189.37 228.02,188.11 228.51,187.07 228.99,186.26 229.47,185.69 229.96,185.37 230.44,185.31 230.93,185.50 231.41,185.95 231.89,186.65 232.38,187.58 232.86,188.74 233.35,190.11 233.83,191.66 234.31,193.38 234.80,195.24 235.28,197.23 235.77,199.30 236.25,201.45 236.73,203.65 237.22,205.86 237.70,208.08 238.19,210.27 238.67,212.42 239.15,214.51 239.64,216.53 240.12,218.47 240.61,220.31 241.09,222.04 241.57,223.67 242.06,225.18 242.54,226.58 243.03,227.86 243.51,229.03 243.99,230.09 244.48,231.05 244.96,231.91 245.45,232.67 245.93,233.34 246.42,233.93 246.90,234.45 247.38,234.90 247.87,235.29 248.35,235.62 248.84,235.91 249.32,236.15 249.80,236.36 250.29,236.53 250.77,236.67 251.26,236.79 251.74,236.89 252.22,236.97 252.71,237.04 253.19,237.09 253.68,237.14 254.16,237.17 254.64,237.20 255.13,237.22 255.61,237.24 256.10,237.25 256.58,237.26 257.06,237.27 257.55,237.28 258.03,237.28 258.52,237.29 259.00,237.29" fill="none" stroke="#e87a70" stroke-width="0.90"/>
<polyline points="201.40,237.30 201.88,237.30 202.37,237.30 202.85,237.30 203.34,237.30 203.82,237.30 204.30,237.29 204.79,237.29 205.27,237.29 205.76,237.28 206.24,237.27 206.72,237.26 207.21,237.24 207.69,237.21 208.18,237.17 208.66,237.12 209.14,237.05 209.63,236.95 210.11,236.83 210.60,236.66 211.08,236.43 211.56,236.15 212.05,235.78 212.53,235.32 213.02,234.74 213.50,234.03 213.98,233.17 214.47,232.14 214.95,230.91 215.44,229.47 215.92,227.80 216.41,225.90 216.89,223.76 217.37,221.38 217.86,218.77 218.34,215.97 218.83,212.99 219.31,209.88 219.79,206.69 220.28,203.49 220.76,200.33 221.25,197.30 221.73,194.46 222.21,191.89 222.70,189.67 223.18,187.85 223.67,186.49 224.15,185.63 224.63,185.30 225.12,185.51 225.60,186.25 226.09,187.49 226.57,189.21 227.05,191.34 227.54,193.84 228.02,196.62 228.51,199.61 228.99,202.75 229.47,205.95 229.96,209.15 230.44,212.28 230.93,215.29 231.41,218.14 231.89,220.79 232.38,223.22 232.86,225.42 233.35,227.38 233.83,229.10 234.31,230.59 234.80,231.87 235.28,232.95 235.77,233.85 236.25,234.59 236.73,235.20 237.22,235.68 237.70,236.07 238.19,236.37 238.67,236.61 239.15,236.79 239.64,236.93 240.12,237.03 240.61,237.11 241.09,237.16 241.57,237.20 242.06,237.23 242.54,237.25 243.03,237.27 243.51,237.28 243.99,237.29 244.48,237.29 244.96,237.29 245.45,237.30 245.93,237.30 246.42,237.30 246.90,237.30 247.38,237.30 247.87,237.30 248.35,237.30 248.84,237.30 249.32,237.30 249.80,237.30 250.29,237.30 250.77,237.30 251.26,237.30 251.74,237.30 252.22,237.30 252.71,237.30 253.19,237.30 253.68,237.30 254.16,237.30 254.64,237.30 255.13,237.30 255.61,237.30 256.10,237.30 256.58,237.30 257.06,237.30 257.55,237.30 258.03,237.30 258.52,237.30 259.00,237.30" fill="none" stroke="#8a8a8a" stroke-width="0.60"/>
<polyline points="201.40,237.30 201.88,237.30 202.37,237.30 202.85,237.30 203.34,237.30 203.82,237.30 204.30,237.29 204.79,237.29 205.27,237.29 205.76,237.28 206.24,237.27 206.72,237.26 207.21,237.24 207.69,237.21 208.18,237.17 208.66,237.12 209.14,237.05 209.63,236.95 210.11,236.83 210.60,236.66 211.08,236.43 211.56,236.15 212.05,235.78 212.53,235.32 213.02,234.74 213.50,234.03 213.98,233.17 214.47,232.14 214.95,230.91 215.44,229.47 215.92,227.80 216.41,225.90 216.89,223.76 217.37,221.38 217.86,218.77 218.34,215.97 218.83,212.99 219.31,209.88 219.79,206.69 220.28,203.49 220.76,200.33 221.25,197.30 221.73,194.46 222.21,191.89 222.70,189.67 223.18,187.85 223.67,186.49 224.15,185.63 224.63,185.30 225.12,185.51 225.60,186.25 226.09,187.49 226.57,189.21 227.05,191.34 227.54,193.84 228.02,196.62 228.51,199.61 228.99,202.75 229.47,205.95 229.96,209.15 230.44,212.28 230.93,215.29 231.41,218.14 231.89,220.79 232.38,223.22 232.86,225.42 233.35,227.38 233.83,229.10 234.31,230.59 234.80,231.87 235.28,232.95 235.77,233.85 236.25,234.59 236.73,235.20 237.22,235.68 237.70,236.07 238.19,236.37 238.67,236.61 239.15,236.79 239.64,236.93 240.12,237.03 240.61,237.11 241.09,237.16 241.57,237.20 242.06,237.23 242.54,237.25 243.03,237.27 243.51,237.28 243.99,237.29 244.48,237.29 244.96,237.29 245.45,237.30 245.93,237.30 246.42,237.30 246.90,237.30 247.38,237.30 247.87,237.30 248.35,237.30 248.84,237.30 249.32,237.30 249.80,237.30 250.29,237.30 250.77,237.30 251.26,237.30 251.74,237.30 252.22,237.30 252.71,237.30 253.19,237.30 253.68,237.30 254.16,237.30 254.64,237.30 255.13,237.30 255.61,237.30 256.10,237.30 256.58,237.30 257.06,237.30 257.55,237.30 258.03,237.30 258.52,237.30 259.00,237.30" fill="none" stroke="#5a98ea" stroke-width="0.90"/>
</g>
<rect x="202.40" y="180.00" width="55.60" height="57.00" fill="none" stroke="#505050" stroke-width="0.8"/>
<path d="M212.14 237.00v1.9M224.29 237.00v1.9M236.43 237.00v1.9M248.57 237.00v1.9" stroke="#2a2a2a" stroke-width="0.7" fill="none"/>
<g clip-path="url(#cL40)">
<ellipse cx="52.46" cy="268.71" rx="18.93" ry="14.08" transform="rotate(150.35 52.46 268.71)" fill="#f3ada5" fill-opacity="0.85"/>
<ellipse cx="52.46" cy="268.71" rx="11.72" ry="8.71" transform="rotate(150.35 52.46 268.71)" fill="#e63f33" fill-opacity="0.95"/>
<ellipse cx="54.13" cy="268.71" rx="18.93" ry="14.08" transform="rotate(150.35 54.13 268.71)" fill="#98b8ee" fill-opacity="0.85"/>
<ellipse cx="54.13" cy="268.71" rx="11.72" ry="8.71" transform="rotate(150.35 54.13 268.71)" fill="#1a62d8" fill-opacity="0.95"/>
<ellipse cx="53.80" cy="268.71" rx="19.59" ry="14.57" transform="rotate(150.35 53.80 268.71)" fill="none" stroke="#9a9a9a" stroke-width="0.6"/>
<ellipse cx="53.80" cy="268.71" rx="12.13" ry="9.02" transform="rotate(150.35 53.80 268.71)" fill="none" stroke="#9a9a9a" stroke-width="0.6"/>
<ellipse cx="53.47" cy="268.71" rx="19.59" ry="14.57" transform="rotate(150.35 53.47 268.71)" fill="none" stroke="#333333" stroke-width="0.5"/>
<ellipse cx="53.47" cy="268.71" rx="12.13" ry="9.02" transform="rotate(150.35 53.47 268.71)" fill="none" stroke="#333333" stroke-width="0.5"/>
</g>
<rect x="26.75" y="239.20" width="55.60" height="57.00" fill="none" stroke="#505050" stroke-width="0.8"/>
<path d="M37.10 296.20v1.9M53.80 296.20v1.9M70.50 296.20v1.9M26.75 289.75h-1.9M26.75 278.80h-1.9M26.75 267.85h-1.9M26.75 256.91h-1.9M26.75 245.96h-1.9" stroke="#2a2a2a" stroke-width="0.7" fill="none"/>
<g clip-path="url(#cL41)">
<ellipse cx="114.20" cy="268.71" rx="17.21" ry="11.81" transform="rotate(127.80 114.20 268.71)" fill="#f3ada5" fill-opacity="0.85"/>
<ellipse cx="114.20" cy="268.71" rx="10.65" ry="7.31" transform="rotate(127.80 114.20 268.71)" fill="#e63f33" fill-opacity="0.95"/>
<ellipse cx="114.20" cy="268.71" rx="17.21" ry="11.81" transform="rotate(127.80 114.20 268.71)" fill="#98b8ee" fill-opacity="0.85"/>
<ellipse cx="114.20" cy="268.71" rx="10.65" ry="7.31" transform="rotate(127.80 114.20 268.71)" fill="#1a62d8" fill-opacity="0.95"/>
<ellipse cx="114.20" cy="268.71" rx="17.82" ry="12.22" transform="rotate(127.80 114.20 268.71)" fill="none" stroke="#9a9a9a" stroke-width="0.6"/>
<ellipse cx="114.20" cy="268.71" rx="11.03" ry="7.57" transform="rotate(127.80 114.20 268.71)" fill="none" stroke="#9a9a9a" stroke-width="0.6"/>
<ellipse cx="114.20" cy="268.71" rx="17.82" ry="12.22" transform="rotate(127.80 114.20 268.71)" fill="none" stroke="#333333" stroke-width="0.5"/>
<ellipse cx="114.20" cy="268.71" rx="11.03" ry="7.57" transform="rotate(127.80 114.20 268.71)" fill="none" stroke="#333333" stroke-width="0.5"/>
</g>
<rect x="85.30" y="239.20" width="55.60" height="57.00" fill="none" stroke="#505050" stroke-width="0.8"/>
<path d="M91.47 296.20v1.9M105.86 296.20v1.9M120.24 296.20v1.9M134.63 296.20v1.9M85.30 289.75h-1.9M85.30 278.80h-1.9M85.30 267.85h-1.9M85.30 256.91h-1.9M85.30 245.96h-1.9" stroke="#2a2a2a" stroke-width="0.7" fill="none"/>
<g clip-path="url(#cL42)">
<ellipse cx="170.53" cy="268.71" rx="20.30" ry="8.53" transform="rotate(-135.84 170.53 268.71)" fill="#f3ada5" fill-opacity="0.85"/>
<ellipse cx="170.53" cy="268.71" rx="12.56" ry="5.28" transform="rotate(-135.84 170.53 268.71)" fill="#e63f33" fill-opacity="0.95"/>
<ellipse cx="169.22" cy="268.71" rx="20.30" ry="8.53" transform="rotate(-135.84 169.22 268.71)" fill="#98b8ee" fill-opacity="0.85"/>
<ellipse cx="169.22" cy="268.71" rx="12.56" ry="5.28" transform="rotate(-135.84 169.22 268.71)" fill="#1a62d8" fill-opacity="0.95"/>
<ellipse cx="169.44" cy="268.71" rx="21.01" ry="8.82" transform="rotate(-135.84 169.44 268.71)" fill="none" stroke="#9a9a9a" stroke-width="0.6"/>
<ellipse cx="169.44" cy="268.71" rx="13.00" ry="5.46" transform="rotate(-135.84 169.44 268.71)" fill="none" stroke="#9a9a9a" stroke-width="0.6"/>
<ellipse cx="173.09" cy="268.71" rx="21.01" ry="8.82" transform="rotate(-135.84 173.09 268.71)" fill="none" stroke="#333333" stroke-width="0.5"/>
<ellipse cx="173.09" cy="268.71" rx="13.00" ry="5.46" transform="rotate(-135.84 173.09 268.71)" fill="none" stroke="#333333" stroke-width="0.5"/>
</g>
<rect x="143.85" y="239.20" width="55.60" height="57.00" fill="none" stroke="#505050" stroke-width="0.8"/>
<path d="M151.03 296.20v1.9M164.65 296.20v1.9M178.26 296.20v1.9M191.87 296.20v1.9M143.85 289.75h-1.9M143.85 278.80h-1.9M143.85 267.85h-1.9M143.85 256.91h-1.9M143.85 245.96h-1.9" stroke="#2a2a2a" stroke-width="0.7" fill="none"/>
<g clip-path="url(#cL43)">
<ellipse cx="230.32" cy="268.71" rx="17.82" ry="14.27" transform="rotate(147.01 230.32 268.71)" fill="#f3ada5" fill-opacity="0.85"/>
<ellipse cx="230.32" cy="268.71" rx="11.03" ry="8.83" transform="rotate(147.01 230.32 268.71)" fill="#e63f33" fill-opacity="0.95"/>
<ellipse cx="224.69" cy="268.71" rx="16.57" ry="9.92" transform="rotate(117.31 224.69 268.71)" fill="#98b8ee" fill-opacity="0.85"/>
<ellipse cx="224.69" cy="268.71" rx="10.25" ry="6.14" transform="rotate(117.31 224.69 268.71)" fill="#1a62d8" fill-opacity="0.95"/>
<ellipse cx="224.69" cy="268.71" rx="17.15" ry="10.27" transform="rotate(117.31 224.69 268.71)" fill="none" stroke="#9a9a9a" stroke-width="0.6"/>
<ellipse cx="224.69" cy="268.71" rx="10.61" ry="6.36" transform="rotate(117.31 224.69 268.71)" fill="none" stroke="#9a9a9a" stroke-width="0.6"/>
<ellipse cx="230.76" cy="268.71" rx="18.44" ry="14.77" transform="rotate(147.01 230.76 268.71)" fill="none" stroke="#333333" stroke-width="0.5"/>
<ellipse cx="230.76" cy="268.71" rx="11.41" ry="9.14" transform="rotate(147.01 230.76 268.71)" fill="none" stroke="#333333" stroke-width="0.5"/>
</g>
<rect x="202.40" y="239.20" width="55.60" height="57.00" fill="none" stroke="#505050" stroke-width="0.8"/>
<path d="M212.14 296.20v1.9M224.29 296.20v1.9M236.43 296.20v1.9M248.57 296.20v1.9M202.40 289.75h-1.9M202.40 278.80h-1.9M202.40 267.85h-1.9M202.40 256.91h-1.9M202.40 245.96h-1.9" stroke="#2a2a2a" stroke-width="0.7" fill="none"/>
<g clip-path="url(#cL44)">
<polyline points="259.95,296.50 260.43,296.50 260.92,296.50 261.40,296.49 261.89,296.49 262.37,296.49 262.85,296.49 263.34,296.48 263.82,296.47 264.31,296.46 264.79,296.45 265.27,296.44 265.76,296.42 266.24,296.39 266.73,296.35 267.21,296.31 267.69,296.25 268.18,296.18 268.66,296.09 269.15,295.97 269.63,295.84 270.11,295.66 270.60,295.45 271.08,295.20 271.57,294.90 272.05,294.53 272.53,294.10 273.02,293.59 273.50,292.99 273.99,292.30 274.47,291.50 274.96,290.59 275.44,289.56 275.92,288.39 276.41,287.09 276.89,285.65 277.38,284.06 277.86,282.33 278.34,280.46 278.83,278.46 279.31,276.33 279.80,274.08 280.28,271.75 280.76,269.34 281.25,266.88 281.73,264.39 282.22,261.91 282.70,259.48 283.18,257.11 283.67,254.86 284.15,252.75 284.64,250.82 285.12,249.09 285.60,247.61 286.09,246.39 286.57,245.47 287.06,244.84 287.54,244.53 288.02,244.55 288.51,244.88 288.99,245.54 289.48,246.49 289.96,247.73 290.44,249.24 290.93,250.98 291.41,252.93 291.90,255.05 292.38,257.32 292.86,259.69 293.35,262.13 293.83,264.61 294.32,267.09 294.80,269.55 295.28,271.96 295.77,274.29 296.25,276.52 296.74,278.64 297.22,280.63 297.70,282.49 298.19,284.21 298.67,285.78 299.16,287.21 299.64,288.50 300.12,289.65 300.61,290.68 301.09,291.58 301.58,292.37 302.06,293.05 302.54,293.64 303.03,294.14 303.51,294.57 304.00,294.92 304.48,295.22 304.97,295.47 305.45,295.68 305.93,295.85 306.42,295.99 306.90,296.10 307.39,296.19 307.87,296.26 308.35,296.31 308.84,296.36 309.32,296.39 309.81,296.42 310.29,296.44 310.77,296.45 311.26,296.47 311.74,296.47 312.23,296.48 312.71,296.49 313.19,296.49 313.68,296.49 314.16,296.49 314.65,296.50 315.13,296.50 315.61,296.50 316.10,296.50 316.58,296.50 317.07,296.50 317.55,296.50" fill="none" stroke="#2a2a2a" stroke-width="0.80"/>
<polyline points="259.95,296.50 260.43,296.50 260.92,296.50 261.40,296.49 261.89,296.49 262.37,296.49 262.85,296.49 263.34,296.48 263.82,296.47 264.31,296.46 264.79,296.45 265.27,296.44 265.76,296.42 266.24,296.39 266.73,296.35 267.21,296.31 267.69,296.25 268.18,296.18 268.66,296.09 269.15,295.97 269.63,295.84 270.11,295.66 270.60,295.45 271.08,295.20 271.57,294.90 272.05,294.53 272.53,294.10 273.02,293.59 273.50,292.99 273.99,292.30 274.47,291.50 274.96,290.59 275.44,289.56 275.92,288.39 276.41,287.09 276.89,285.65 277.38,284.06 277.86,282.33 278.34,280.46 278.83,278.46 279.31,276.33 279.80,274.08 280.28,271.75 280.76,269.34 281.25,266.88 281.73,264.39 282.22,261.91 282.70,259.48 283.18,257.11 283.67,254.86 284.15,252.75 284.64,250.82 285.12,249.09 285.60,247.61 286.09,246.39 286.57,245.47 287.06,244.84 287.54,244.53 288.02,244.55 288.51,244.88 288.99,245.54 289.48,246.49 289.96,247.73 290.44,249.24 290.93,250.98 291.41,252.93 291.90,255.05 292.38,257.32 292.86,259.69 293.35,262.13 293.83,264.61 294.32,267.09 294.80,269.55 295.28,271.96 295.77,274.29 296.25,276.52 296.74,278.64 297.22,280.63 297.70,282.49 298.19,284.21 298.67,285.78 299.16,287.21 299.64,288.50 300.12,289.65 300.61,290.68 301.09,291.58 301.58,292.37 302.06,293.05 302.54,293.64 303.03,294.14 303.51,294.57 304.00,294.92 304.48,295.22 304.97,295.47 305.45,295.68 305.93,295.85 306.42,295.99 306.90,296.10 307.39,296.19 307.87,296.26 308.35,296.31 308.84,296.36 309.32,296.39 309.81,296.42 310.29,296.44 310.77,296.45 311.26,296.47 311.74,296.47 312.23,296.48 312.71,296.49 313.19,296.49 313.68,296.49 314.16,296.49 314.65,296.50 315.13,296.50 315.61,296.50 316.10,296.50 316.58,296.50 317.07,296.50 317.55,296.50" fill="none" stroke="#e87a70" stroke-width="0.90"/>
<polyline points="259.95,296.50 260.43,296.50 260.92,296.50 261.40,296.49 261.89,296.49 262.37,296.49 262.85,296.49 263.34,296.48 263.82,296.47 264.31,296.46 264.79,296.45 265.27,296.44 265.76,296.42 266.24,296.39 266.73,296.35 267.21,296.31 267.69,296.25 268.18,296.18 268.66,296.09 269.15,295.97 269.63,295.84 270.11,295.66 270.60,295.45 271.08,295.20 271.57,294.90 272.05,294.53 272.53,294.10 273.02,293.59 273.50,292.99 273.99,292.30 274.47,291.50 274.96,290.59 275.44,289.56 275.92,288.39 276.41,287.09 276.89,285.65 277.38,284.06 277.86,282.33 278.34,280.46 278.83,278.46 279.31,276.33 279.80,274.08 280.28,271.75 280.76,269.34 281.25,266.88 281.73,264.39 282.22,261.91 282.70,259.48 283.18,257.11 283.67,254.86 284.15,252.75 284.64,250.82 285.12,249.09 285.60,247.61 286.09,246.39 286.57,245.47 287.06,244.84 287.54,244.53 288.02,244.55 288.51,244.88 288.99,245.54 289.48,246.49 289.96,247.73 290.44,249.24 290.93,250.98 291.41,252.93 291.90,255.05 292.38,257.32 292.86,259.69 293.35,262.13 293.83,264.61 294.32,267.09 294.80,269.55 295.28,271.96 295.77,274.29 296.25,276.52 296.74,278.64 297.22,280.63 297.70,282.49 298.19,284.21 298.67,285.78 299.16,287.21 299.64,288.50 300.12,289.65 300.61,290.68 301.09,291.58 301.58,292.37 302.06,293.05 302.54,293.64 303.03,294.14 303.51,294.57 304.00,294.92 304.48,295.22 304.97,295.47 305.45,295.68 305.93,295.85 306.42,295.99 306.90,296.10 307.39,296.19 307.87,296.26 308.35,296.31 308.84,296.36 309.32,296.39 309.81,296.42 310.29,296.44 310.77,296.45 311.26,296.47 311.74,296.47 312.23,296.48 312.71,296.49 313.19,296.49 313.68,296.49 314.16,296.49 314.65,296.50 315.13,296.50 315.61,296.50 316.10,296.50 316.58,296.50 317.07,296.50 317.55,296.50" fill="none" stroke="#8a8a8a" stroke-width="0.60"/>
<polyline points="259.95,296.50 260.43,296.50 260.92,296.50 261.40,296.49 261.89,296.49 262.37,296.49 262.85,296.49 263.34,296.48 263.82,296.47 264.31,296.46 264.79,296.45 265.27,296.44 265.76,296.42 266.24,296.39 266.73,296.35 267.21,296.31 267.69,296.25 268.18,296.18 268.66,296.09 269.15,295.97 269.63,295.84 270.11,295.66 270.60,295.45 271.08,295.20 271.57,294.90 272.05,294.53 272.53,294.10 273.02,293.59 273.50,292.99 273.99,292.30 274.47,291.50 274.96,290.59 275.44,289.56 275.92,288.39 276.41,287.09 276.89,285.65 277.38,284.06 277.86,282.33 278.34,280.46 278.83,278.46 279.31,276.33 279.80,274.08 280.28,271.75 280.76,269.34 281.25,266.88 281.73,264.39 282.22,261.91 282.70,259.48 283.18,257.11 283.67,254.86 284.15,252.75 284.64,250.82 285.12,249.09 285.60,247.61 286.09,246.39 286.57,245.47 287.06,244.84 287.54,244.53 288.02,244.55 288.51,244.88 288.99,245.54 289.48,246.49 289.96,247.73 290.44,249.24 290.93,250.98 291.41,252.93 291.90,255.05 292.38,257.32 292.86,259.69 293.35,262.13 293.83,264.61 294.32,267.09 294.80,269.55 295.28,271.96 295.77,274.29 296.25,276.52 296.74,278.64 297.22,280.63 297.70,282.49 298.19,284.21 298.67,285.78 299.16,287.21 299.64,288.50 300.12,289.65 300.61,290.68 301.09,291.58 301.58,292.37 302.06,293.05 302.54,293.64 303.03,294.14 303.51,294.57 304.00,294.92 304.48,295.22 304.97,295.47 305.45,295.68 305.93,295.85 306.42,295.99 306.90,296.10 307.39,296.19 307.87,296.26 308.35,296.31 308.84,296.36 309.32,296.39 309.81,296.42 310.29,296.44 310.77,296.45 311.26,296.47 311.74,296.47 312.23,296.48 312.71,296.49 313.19,296.49 313.68,296.49 314.16,296.49 314.65,296.50 315.13,296.50 315.61,296.50 316.10,296.50 316.58,296.50 317.07,296.50 317.55,296.50" fill="none" stroke="#5a98ea" stroke-width="0.90"/>
</g>
<rect x="260.95" y="239.20" width="55.60" height="57.00" fill="none" stroke="#505050" stroke-width="0.8"/>
<path d="M267.25 296.20v1.9M277.92 296.20v1.9M288.60 296.20v1.9M299.28 296.20v1.9M309.96 296.20v1.9" stroke="#2a2a2a" stroke-width="0.7" fill="none"/>
<g clip-path="url(#cL50)">
<ellipse cx="52.46" cy="325.54" rx="18.93" ry="16.24" transform="rotate(140.01 52.46 325.54)" fill="#f3ada5" fill-opacity="0.85"/>
<ellipse cx="52.46" cy="325.54" rx="11.71" ry="10.05" transform="rotate(140.01 52.46 325.54)" fill="#e63f33" fill-opacity="0.95"/>
<ellipse cx="54.13" cy="331.02" rx="18.22" ry="12.41" transform="rotate(164.37 54.13 331.02)" fill="#98b8ee" fill-opacity="0.85"/>
<ellipse cx="54.13" cy="331.02" rx="11.28" ry="7.68" transform="rotate(164.37 54.13 331.02)" fill="#1a62d8" fill-opacity="0.95"/>
<ellipse cx="53.80" cy="331.02" rx="18.86" ry="12.85" transform="rotate(164.37 53.80 331.02)" fill="none" stroke="#9a9a9a" stroke-width="0.6"/>
<ellipse cx="53.80" cy="331.02" rx="11.67" ry="7.95" transform="rotate(164.37 53.80 331.02)" fill="none" stroke="#9a9a9a" stroke-width="0.6"/>
<ellipse cx="53.47" cy="325.25" rx="19.59" ry="16.80" transform="rotate(140.01 53.47 325.25)" fill="none" stroke="#333333" stroke-width="0.5"/>
<ellipse cx="53.47" cy="325.25" rx="12.12" ry="10.40" transform="rotate(140.01 53.47 325.25)" fill="none" stroke="#333333" stroke-width="0.5"/>
</g>
<rect x="26.75" y="298.40" width="55.60" height="57.00" fill="none" stroke="#505050" stroke-width="0.8"/>
<path d="M37.10 355.40v1.9M53.80 355.40v1.9M70.50 355.40v1.9M26.75 345.88h-1.9M26.75 333.70h-1.9M26.75 321.51h-1.9M26.75 309.33h-1.9" stroke="#2a2a2a" stroke-width="0.7" fill="none"/>
<g clip-path="url(#cL51)">
<ellipse cx="114.20" cy="325.54" rx="18.46" ry="12.67" transform="rotate(117.33 114.20 325.54)" fill="#f3ada5" fill-opacity="0.85"/>
<ellipse cx="114.20" cy="325.54" rx="11.42" ry="7.84" transform="rotate(117.33 114.20 325.54)" fill="#e63f33" fill-opacity="0.95"/>
<ellipse cx="114.20" cy="331.02" rx="15.76" ry="10.82" transform="rotate(141.92 114.20 331.02)" fill="#98b8ee" fill-opacity="0.85"/>
<ellipse cx="114.20" cy="331.02" rx="9.75" ry="6.70" transform="rotate(141.92 114.20 331.02)" fill="#1a62d8" fill-opacity="0.95"/>
<ellipse cx="114.20" cy="331.02" rx="16.31" ry="11.20" transform="rotate(141.92 114.20 331.02)" fill="none" stroke="#9a9a9a" stroke-width="0.6"/>
<ellipse cx="114.20" cy="331.02" rx="10.09" ry="6.93" transform="rotate(141.92 114.20 331.02)" fill="none" stroke="#9a9a9a" stroke-width="0.6"/>
<ellipse cx="114.20" cy="325.25" rx="19.10" ry="13.11" transform="rotate(117.33 114.20 325.25)" fill="none" stroke="#333333" stroke-width="0.5"/>
<ellipse cx="114.20" cy="325.25" rx="11.82" ry="8.11" transform="rotate(117.33 114.20 325.25)" fill="none" stroke="#333333" stroke-width="0.5"/>
</g>
<rect x="85.30" y="298.40" width="55.60" height="57.00" fill="none" stroke="#505050" stroke-width="0.8"/>
<path d="M91.47 355.40v1.9M105.86 355.40v1.9M120.24 355.40v1.9M134.63 355.40v1.9M85.30 345.88h-1.9M85.30 333.70h-1.9M85.30 321.51h-1.9M85.30 309.33h-1.9" stroke="#2a2a2a" stroke-width="0.7" fill="none"/>
<g clip-path="url(#cL52)">
<ellipse cx="170.53" cy="325.54" rx="19.02" ry="13.73" transform="rotate(54.31 170.53 325.54)" fill="#f3ada5" fill-opacity="0.85"/>
<ellipse cx="170.53" cy="325.54" rx="11.77" ry="8.49" transform="rotate(54.31 170.53 325.54)" fill="#e63f33" fill-opacity="0.95"/>
<ellipse cx="169.22" cy="331.02" rx="17.79" ry="9.90" transform="rotate(-145.78 169.22 331.02)" fill="#98b8ee" fill-opacity="0.85"/>
<ellipse cx="169.22" cy="331.02" rx="11.01" ry="6.12" transform="rotate(-145.78 169.22 331.02)" fill="#1a62d8" fill-opacity="0.95"/>
<ellipse cx="169.44" cy="331.02" rx="18.41" ry="10.24" transform="rotate(-145.78 169.44 331.02)" fill="none" stroke="#9a9a9a" stroke-width="0.6"/>
<ellipse cx="169.44" cy="331.02" rx="11.40" ry="6.34" transform="rotate(-145.78 169.44 331.02)" fill="none" stroke="#9a9a9a" stroke-width="0.6"/>
<ellipse cx="173.09" cy="325.25" rx="19.68" ry="14.21" transform="rotate(54.31 173.09 325.25)" fill="none" stroke="#333333" stroke-width="0.5"/>
<ellipse cx="173.09" cy="325.25" rx="12.18" ry="8.79" transform="rotate(54.31 173.09 325.25)" fill="none" stroke="#333333" stroke-width="0.5"/>
</g>
<rect x="143.85" y="298.40" width="55.60" height="57.00" fill="none" stroke="#505050" stroke-width="0.8"/>
<path d="M151.03 355.40v1.9M164.65 355.40v1.9M178.26 355.40v1.9M191.87 355.40v1.9M143.85 345.88h-1.9M143.85 333.70h-1.9M143.85 321.51h-1.9M143.85 309.33h-1.9" stroke="#2a2a2a" stroke-width="0.7" fill="none"/>
<g clip-path="url(#cL53)">
<ellipse cx="230.32" cy="325.54" rx="24.12" ry="2.16" transform="rotate(134.06 230.32 325.54)" fill="#f3ada5" fill-opacity="0.85"/>
<ellipse cx="230.32" cy="325.54" rx="14.93" ry="1.34" transform="rotate(134.06 230.32 325.54)" fill="#e63f33" fill-opacity="0.95"/>
<ellipse cx="224.69" cy="331.02" rx="17.33" ry="1.55" transform="rotate(131.96 224.69 331.02)" fill="#98b8ee" fill-opacity="0.85"/>
<ellipse cx="224.69" cy="331.02" rx="10.72" ry="0.96" transform="rotate(131.96 224.69 331.02)" fill="#1a62d8" fill-opacity="0.95"/>
<ellipse cx="224.69" cy="331.02" rx="17.93" ry="1.60" transform="rotate(131.96 224.69 331.02)" fill="none" stroke="#9a9a9a" stroke-width="0.6"/>
<ellipse cx="224.69" cy="331.02" rx="11.10" ry="0.99" transform="rotate(131.96 224.69 331.02)" fill="none" stroke="#9a9a9a" stroke-width="0.6"/>
<ellipse cx="230.76" cy="325.25" rx="24.96" ry="2.24" transform="rotate(134.06 230.76 325.25)" fill="none" stroke="#333333" stroke-width="0.5"/>
<ellipse cx="230.76" cy="325.25" rx="15.45" ry="1.39" transform="rotate(134.06 230.76 325.25)" fill="none" stroke="#333333" stroke-width="0.5"/>
</g>
<rect x="202.40" y="298.40" width="55.60" height="57.00" fill="none" stroke="#505050" stroke-width="0.8"/>
<path d="M212.14 355.40v1.9M224.29 355.40v1.9M236.43 355.40v1.9M248.57 355.40v1.9M202.40 345.88h-1.9M202.40 333.70h-1.9M202.40 321.51h-1.9M202.40 309.33h-1.9" stroke="#2a2a2a" stroke-width="0.7" fill="none"/>
<g clip-path="url(#cL54)">
<ellipse cx="287.76" cy="325.54" rx="18.14" ry="14.12" transform="rotate(116.86 287.76 325.54)" fill="#f3ada5" fill-opacity="0.85"/>
<ellipse cx="287.76" cy="325.54" rx="11.23" ry="8.74" transform="rotate(116.86 287.76 325.54)" fill="#e63f33" fill-opacity="0.95"/>
<ellipse cx="287.76" cy="331.02" rx="16.72" ry="10.65" transform="rotate(145.37 287.76 331.02)" fill="#98b8ee" fill-opacity="0.85"/>
<ellipse cx="287.76" cy="331.02" rx="10.35" ry="6.59" transform="rotate(145.37 287.76 331.02)" fill="#1a62d8" fill-opacity="0.95"/>
<ellipse cx="287.76" cy="331.02" rx="17.31" ry="11.02" transform="rotate(145.37 287.76 331.02)" fill="none" stroke="#9a9a9a" stroke-width="0.6"/>
<ellipse cx="287.76" cy="331.02" rx="10.71" ry="6.82" transform="rotate(145.37 287.76 331.02)" fill="none" stroke="#9a9a9a" stroke-width="0.6"/>
<ellipse cx="287.76" cy="325.25" rx="18.78" ry="14.62" transform="rotate(116.86 287.76 325.25)" fill="none" stroke="#333333" stroke-width="0.5"/>
<ellipse cx="287.76" cy="325.25" rx="11.62" ry="9.05" transform="rotate(116.86 287.76 325.25)" fill="none" stroke="#333333" stroke-width="0.5"/>
</g>
<rect x="260.95" y="298.40" width="55.60" height="57.00" fill="none" stroke="#505050" stroke-width="0.8"/>
<path d="M267.25 355.40v1.9M277.92 355.40v1.9M288.60 355.40v1.9M299.28 355.40v1.9M309.96 355.40v1.9M260.95 345.88h-1.9M260.95 333.70h-1.9M260.95 321.51h-1.9M260.95 309.33h-1.9" stroke="#2a2a2a" stroke-width="0.7" fill="none"/>
<g clip-path="url(#cL55)">
<polyline points="318.50,355.70 318.98,355.70 319.47,355.69 319.95,355.69 320.44,355.69 320.92,355.68 321.40,355.68 321.89,355.67 322.37,355.67 322.86,355.66 323.34,355.64 323.82,355.63 324.31,355.60 324.79,355.58 325.28,355.54 325.76,355.50 326.24,355.45 326.73,355.39 327.21,355.31 327.70,355.22 328.18,355.10 328.66,354.97 329.15,354.81 329.63,354.61 330.12,354.38 330.60,354.11 331.08,353.79 331.57,353.42 332.05,352.99 332.54,352.50 333.02,351.94 333.51,351.30 333.99,350.57 334.47,349.75 334.96,348.84 335.44,347.82 335.93,346.70 336.41,345.47 336.89,344.12 337.38,342.66 337.86,341.09 338.35,339.41 338.83,337.63 339.31,335.75 339.80,333.78 340.28,331.73 340.77,329.62 341.25,327.45 341.73,325.26 342.22,323.06 342.70,320.87 343.19,318.72 343.67,316.62 344.15,314.60 344.64,312.69 345.12,310.91 345.61,309.28 346.09,307.83 346.57,306.57 347.06,305.52 347.54,304.70 348.03,304.12 348.51,303.79 348.99,303.70 349.48,303.88 349.96,304.30 350.45,304.96 350.93,305.86 351.41,306.99 351.90,308.32 352.38,309.83 352.87,311.52 353.35,313.35 353.83,315.30 354.32,317.35 354.80,319.47 355.29,321.64 355.77,323.84 356.25,326.04 356.74,328.22 357.22,330.37 357.71,332.46 358.19,334.48 358.67,336.42 359.16,338.27 359.64,340.02 360.13,341.66 360.61,343.19 361.09,344.61 361.58,345.91 362.06,347.11 362.55,348.19 363.03,349.17 363.52,350.05 364.00,350.84 364.48,351.53 364.97,352.15 365.45,352.68 365.94,353.15 366.42,353.56 366.90,353.91 367.39,354.21 367.87,354.47 368.36,354.68 368.84,354.87 369.32,355.02 369.81,355.15 370.29,355.25 370.78,355.34 371.26,355.41 371.74,355.47 372.23,355.52 372.71,355.56 373.20,355.59 373.68,355.61 374.16,355.63 374.65,355.65 375.13,355.66 375.62,355.67 376.10,355.68" fill="none" stroke="#2a2a2a" stroke-width="0.80"/>
<polyline points="318.50,355.70 318.98,355.69 319.47,355.69 319.95,355.69 320.44,355.69 320.92,355.68 321.40,355.68 321.89,355.67 322.37,355.66 322.86,355.65 323.34,355.63 323.82,355.61 324.31,355.59 324.79,355.56 325.28,355.52 325.76,355.47 326.24,355.42 326.73,355.35 327.21,355.26 327.70,355.16 328.18,355.03 328.66,354.88 329.15,354.70 329.63,354.48 330.12,354.23 330.60,353.93 331.08,353.59 331.57,353.18 332.05,352.72 332.54,352.19 333.02,351.58 333.51,350.89 333.99,350.11 334.47,349.24 334.96,348.27 335.44,347.19 335.93,346.01 336.41,344.71 336.89,343.30 337.38,341.78 337.86,340.14 338.35,338.40 338.83,336.56 339.31,334.63 339.80,332.61 340.28,330.52 340.77,328.38 341.25,326.20 341.73,324.00 342.22,321.81 342.70,319.63 343.19,317.50 343.67,315.45 344.15,313.49 344.64,311.65 345.12,309.95 345.61,308.42 346.09,307.08 346.57,305.94 347.06,305.02 347.54,304.34 348.03,303.90 348.51,303.71 348.99,303.77 349.48,304.09 349.96,304.65 350.45,305.45 350.93,306.48 351.41,307.73 351.90,309.16 352.38,310.78 352.87,312.55 353.35,314.45 353.83,316.46 354.32,318.56 354.80,320.71 355.29,322.90 355.77,325.10 356.25,327.29 356.74,329.46 357.22,331.57 357.71,333.63 358.19,335.60 358.67,337.49 359.16,339.28 359.64,340.97 360.13,342.55 360.61,344.02 361.09,345.37 361.58,346.61 362.06,347.74 362.55,348.77 363.03,349.69 363.52,350.51 364.00,351.24 364.48,351.89 364.97,352.46 365.45,352.96 365.94,353.39 366.42,353.77 366.90,354.09 367.39,354.36 367.87,354.59 368.36,354.79 368.84,354.96 369.32,355.10 369.81,355.21 370.29,355.31 370.78,355.38 371.26,355.45 371.74,355.50 372.23,355.54 372.71,355.58 373.20,355.60 373.68,355.62 374.16,355.64 374.65,355.65 375.13,355.67 375.62,355.67 376.10,355.68" fill="none" stroke="#e87a70" stroke-width="0.90"/>
<polyline points="318.50,355.70 318.98,355.70 319.47,355.70 319.95,355.70 320.44,355.70 320.92,355.70 321.40,355.69 321.89,355.69 322.37,355.69 322.86,355.68 323.34,355.67 323.82,355.66 324.31,355.64 324.79,355.62 325.28,355.58 325.76,355.54 326.24,355.48 326.73,355.40 327.21,355.30 327.70,355.17 328.18,354.99 328.66,354.77 329.15,354.50 329.63,354.15 330.12,353.72 330.60,353.19 331.08,352.56 331.57,351.79 332.05,350.88 332.54,349.81 333.02,348.56 333.51,347.13 333.99,345.50 334.47,343.67 334.96,341.63 335.44,339.39 335.93,336.96 336.41,334.37 336.89,331.62 337.38,328.76 337.86,325.83 338.35,322.86 338.83,319.93 339.31,317.07 339.80,314.35 340.28,311.83 340.77,309.56 341.25,307.60 341.73,306.00 342.22,304.80 342.70,304.03 343.19,303.71 343.67,303.85 344.15,304.44 344.64,305.47 345.12,306.91 345.61,308.73 346.09,310.88 346.57,313.30 347.06,315.95 347.54,318.76 348.03,321.67 348.51,324.63 348.99,327.58 349.48,330.48 349.96,333.27 350.45,335.93 350.93,338.43 351.41,340.75 351.90,342.87 352.38,344.78 352.87,346.49 353.35,348.00 353.83,349.32 354.32,350.46 354.80,351.44 355.29,352.26 355.77,352.95 356.25,353.52 356.74,353.99 357.22,354.37 357.71,354.67 358.19,354.91 358.67,355.10 359.16,355.25 359.64,355.37 360.13,355.45 360.61,355.52 361.09,355.57 361.58,355.61 362.06,355.63 362.55,355.65 363.03,355.67 363.52,355.68 364.00,355.68 364.48,355.69 364.97,355.69 365.45,355.70 365.94,355.70 366.42,355.70 366.90,355.70 367.39,355.70 367.87,355.70 368.36,355.70 368.84,355.70 369.32,355.70 369.81,355.70 370.29,355.70 370.78,355.70 371.26,355.70 371.74,355.70 372.23,355.70 372.71,355.70 373.20,355.70 373.68,355.70 374.16,355.70 374.65,355.70 375.13,355.70 375.62,355.70 376.10,355.70" fill="none" stroke="#8a8a8a" stroke-width="0.60"/>
<polyline points="318.50,355.70 318.98,355.70 319.47,355.70 319.95,355.70 320.44,355.70 320.92,355.70 321.40,355.69 321.89,355.69 322.37,355.69 322.86,355.68 323.34,355.67 323.82,355.66 324.31,355.64 324.79,355.62 325.28,355.58 325.76,355.54 326.24,355.48 326.73,355.40 327.21,355.30 327.70,355.17 328.18,354.99 328.66,354.77 329.15,354.50 329.63,354.15 330.12,353.72 330.60,353.19 331.08,352.56 331.57,351.79 332.05,350.88 332.54,349.81 333.02,348.56 333.51,347.13 333.99,345.50 334.47,343.67 334.96,341.63 335.44,339.39 335.93,336.96 336.41,334.37 336.89,331.62 337.38,328.76 337.86,325.83 338.35,322.86 338.83,319.93 339.31,317.07 339.80,314.35 340.28,311.83 340.77,309.56 341.25,307.60 341.73,306.00 342.22,304.80 342.70,304.03 343.19,303.71 343.67,303.85 344.15,304.44 344.64,305.47 345.12,306.91 345.61,308.73 346.09,310.88 346.57,313.30 347.06,315.95 347.54,318.76 348.03,321.67 348.51,324.63 348.99,327.58 349.48,330.48 349.96,333.27 350.45,335.93 350.93,338.43 351.41,340.75 351.90,342.87 352.38,344.78 352.87,346.49 353.35,348.00 353.83,349.32 354.32,350.46 354.80,351.44 355.29,352.26 355.77,352.95 356.25,353.52 356.74,353.99 357.22,354.37 357.71,354.67 358.19,354.91 358.67,355.10 359.16,355.25 359.64,355.37 360.13,355.45 360.61,355.52 361.09,355.57 361.58,355.61 362.06,355.63 362.55,355.65 363.03,355.67 363.52,355.68 364.00,355.68 364.48,355.69 364.97,355.69 365.45,355.70 365.94,355.70 366.42,355.70 366.90,355.70 367.39,355.70 367.87,355.70 368.36,355.70 368.84,355.70 369.32,355.70 369.81,355.70 370.29,355.70 370.78,355.70 371.26,355.70 371.74,355.70 372.23,355.70 372.71,355.70 373.20,355.70 373.68,355.70 374.16,355.70 374.65,355.70 375.13,355.70 375.62,355.70 376.10,355.70" fill="none" stroke="#5a98ea" stroke-width="0.90"/>
</g>
<rect x="319.50" y="298.40" width="55.60" height="57.00" fill="none" stroke="#505050" stroke-width="0.8"/>
<path d="M328.78 355.40v1.9M340.67 355.40v1.9M352.55 355.40v1.9M364.44 355.40v1.9" stroke="#2a2a2a" stroke-width="0.7" fill="none"/>
<text x="37.10" y="364.70" transform="rotate(-22 37.10 362.90)" text-anchor="middle" class="tk">1.040</text>
<text x="53.80" y="364.70" transform="rotate(-22 53.80 362.90)" text-anchor="middle" class="tk">1.041</text>
<text x="70.50" y="364.70" transform="rotate(-22 70.50 362.90)" text-anchor="middle" class="tk">1.042</text>
<text x="55.00" y="373.00" text-anchor="middle" class="lb">100<tspan font-style="italic">θ</tspan><tspan font-style="italic" font-size="4.4" dy="1.0">MC</tspan></text>
<text x="91.47" y="364.70" transform="rotate(-22 91.47 362.90)" text-anchor="middle" class="tk">0.0215</text>
<text x="105.86" y="364.70" transform="rotate(-22 105.86 362.90)" text-anchor="middle" class="tk">0.0220</text>
<text x="120.24" y="364.70" transform="rotate(-22 120.24 362.90)" text-anchor="middle" class="tk">0.0225</text>
<text x="134.63" y="364.70" transform="rotate(-22 134.63 362.90)" text-anchor="middle" class="tk">0.0230</text>
<text x="113.00" y="373.00" text-anchor="middle" class="lb">Ω<tspan font-style="italic" font-size="4.6" dy="1.4">b</tspan><tspan font-style="italic" dy="-1.4">h</tspan><tspan font-size="4.6" dy="-2.4">2</tspan></text>
<text x="151.03" y="364.70" transform="rotate(-22 151.03 362.90)" text-anchor="middle" class="tk">0.1150</text>
<text x="164.65" y="364.70" transform="rotate(-22 164.65 362.90)" text-anchor="middle" class="tk">0.1175</text>
<text x="178.26" y="364.70" transform="rotate(-22 178.26 362.90)" text-anchor="middle" class="tk">0.1200</text>
<text x="191.87" y="364.70" transform="rotate(-22 191.87 362.90)" text-anchor="middle" class="tk">0.1225</text>
<text x="172.50" y="373.00" text-anchor="middle" class="lb">Ω<tspan font-style="italic" font-size="4.6" dy="1.4">c</tspan><tspan font-style="italic" dy="-1.4">h</tspan><tspan font-size="4.6" dy="-2.4">2</tspan></text>
<text x="212.14" y="364.70" transform="rotate(-22 212.14 362.90)" text-anchor="middle" class="tk">3.00</text>
<text x="224.29" y="364.70" transform="rotate(-22 224.29 362.90)" text-anchor="middle" class="tk">3.06</text>
<text x="236.43" y="364.70" transform="rotate(-22 236.43 362.90)" text-anchor="middle" class="tk">3.12</text>
<text x="248.57" y="364.70" transform="rotate(-22 248.57 362.90)" text-anchor="middle" class="tk">3.18</text>
<text x="230.70" y="373.00" text-anchor="middle" class="lb">ln(10<tspan font-size="4.6" dy="-2.6">10</tspan><tspan font-style="italic" dy="2.6">A</tspan><tspan font-style="italic" font-size="4.6" dy="1.4">s</tspan>)</text>
<text x="267.25" y="364.70" transform="rotate(-22 267.25 362.90)" text-anchor="middle" class="tk">0.952</text>
<text x="277.92" y="364.70" transform="rotate(-22 277.92 362.90)" text-anchor="middle" class="tk">0.960</text>
<text x="288.60" y="364.70" transform="rotate(-22 288.60 362.90)" text-anchor="middle" class="tk">0.968</text>
<text x="299.28" y="364.70" transform="rotate(-22 299.28 362.90)" text-anchor="middle" class="tk">0.976</text>
<text x="309.96" y="364.70" transform="rotate(-22 309.96 362.90)" text-anchor="middle" class="tk">0.984</text>
<text x="288.40" y="373.00" text-anchor="middle" class="lb"><tspan font-style="italic">n</tspan><tspan font-style="italic" font-size="4.6" dy="1.4">s</tspan></text>
<text x="328.78" y="364.70" transform="rotate(-22 328.78 362.90)" text-anchor="middle" class="tk">0.03</text>
<text x="340.67" y="364.70" transform="rotate(-22 340.67 362.90)" text-anchor="middle" class="tk">0.06</text>
<text x="352.55" y="364.70" transform="rotate(-22 352.55 362.90)" text-anchor="middle" class="tk">0.09</text>
<text x="364.44" y="364.70" transform="rotate(-22 364.44 362.90)" text-anchor="middle" class="tk">0.12</text>
<text x="347.40" y="373.00" text-anchor="middle" class="lb"><tspan font-style="italic">τ</tspan></text>
<text x="24.15" y="114.07" text-anchor="end" class="tk">0.0215</text>
<text x="24.15" y="99.32" text-anchor="end" class="tk">0.0220</text>
<text x="24.15" y="84.58" text-anchor="end" class="tk">0.0225</text>
<text x="24.15" y="69.83" text-anchor="end" class="tk">0.0230</text>
<text x="0" y="0" transform="translate(5.80 90.00) rotate(-90)" text-anchor="middle" class="lb">Ω<tspan font-style="italic" font-size="4.6" dy="1.4">b</tspan><tspan font-style="italic" dy="-1.4">h</tspan><tspan font-size="4.6" dy="-2.4">2</tspan></text>
<text x="24.15" y="172.23" text-anchor="end" class="tk">0.1150</text>
<text x="24.15" y="158.28" text-anchor="end" class="tk">0.1175</text>
<text x="24.15" y="144.32" text-anchor="end" class="tk">0.1200</text>
<text x="24.15" y="130.37" text-anchor="end" class="tk">0.1225</text>
<text x="0" y="0" transform="translate(5.80 149.00) rotate(-90)" text-anchor="middle" class="lb">Ω<tspan font-style="italic" font-size="4.6" dy="1.4">c</tspan><tspan font-style="italic" dy="-1.4">h</tspan><tspan font-size="4.6" dy="-2.4">2</tspan></text>
<text x="24.15" y="228.81" text-anchor="end" class="tk">3.00</text>
<text x="24.15" y="216.36" text-anchor="end" class="tk">3.06</text>
<text x="24.15" y="203.92" text-anchor="end" class="tk">3.12</text>
<text x="24.15" y="191.47" text-anchor="end" class="tk">3.18</text>
<text x="0" y="0" transform="translate(11.20 209.00) rotate(-90)" text-anchor="middle" class="lb">ln(10<tspan font-size="4.6" dy="-2.6">10</tspan><tspan font-style="italic" dy="2.6">A</tspan><tspan font-style="italic" font-size="4.6" dy="1.4">s</tspan>)</text>
<text x="24.15" y="291.55" text-anchor="end" class="tk">0.952</text>
<text x="24.15" y="280.60" text-anchor="end" class="tk">0.960</text>
<text x="24.15" y="269.65" text-anchor="end" class="tk">0.968</text>
<text x="24.15" y="258.71" text-anchor="end" class="tk">0.976</text>
<text x="24.15" y="247.76" text-anchor="end" class="tk">0.984</text>
<text x="0" y="0" transform="translate(8.60 268.00) rotate(-90)" text-anchor="middle" class="lb"><tspan font-style="italic">n</tspan><tspan font-style="italic" font-size="4.6" dy="1.4">s</tspan></text>
<text x="24.15" y="347.68" text-anchor="end" class="tk">0.03</text>
<text x="24.15" y="335.50" text-anchor="end" class="tk">0.06</text>
<text x="24.15" y="323.31" text-anchor="end" class="tk">0.09</text>
<text x="24.15" y="311.13" text-anchor="end" class="tk">0.12</text>
<text x="0" y="0" transform="translate(11.80 327.00) rotate(-90)" text-anchor="middle" class="lb"><tspan font-style="italic">τ</tspan></text>
<rect x="126.50" y="0.50" width="125.20" height="41.50" rx="1.2" fill="#fff" fill-opacity="0.9" stroke="#d8d8d8" stroke-width="0.6"/>
<path d="M129.00 5.70H143.50" stroke="#707070" stroke-width="0.70"/>
<text x="149.20" y="8.20" class="lg" textLength="62.10" lengthAdjust="spacingAndGlyphs">Flat TT+lowP+BAO</text>
<path d="M129.00 15.60H143.50" stroke="#b8b8b8" stroke-width="0.70"/>
<text x="149.20" y="18.10" class="lg" textLength="86.90" lengthAdjust="spacingAndGlyphs">Flat TT+lowP+lensing+BAO</text>
<rect x="129.00" y="23.00" width="14.50" height="5" fill="#e63f33"/>
<text x="149.20" y="28.00" class="lg" textLength="74.90" lengthAdjust="spacingAndGlyphs">Flat TT+lowP+NewBAO</text>
<rect x="129.00" y="32.90" width="14.50" height="5" fill="#2277e6"/>
<text x="149.20" y="37.90" class="lg" textLength="99.80" lengthAdjust="spacingAndGlyphs">Flat TT+lowP+lensing+NewBAO</text>
<clipPath id="cR00"><rect x="412.70" y="2.40" width="55.00" height="57.00"/></clipPath>
<clipPath id="cR10"><rect x="412.70" y="61.60" width="55.00" height="57.00"/></clipPath>
<clipPath id="cR11"><rect x="471.00" y="61.60" width="55.00" height="57.00"/></clipPath>
<clipPath id="cR20"><rect x="412.70" y="120.80" width="55.00" height="57.00"/></clipPath>
<clipPath id="cR21"><rect x="471.00" y="120.80" width="55.00" height="57.00"/></clipPath>
<clipPath id="cR22"><rect x="529.30" y="120.80" width="55.00" height="57.00"/></clipPath>
<clipPath id="cR30"><rect x="412.70" y="180.00" width="55.00" height="57.00"/></clipPath>
<clipPath id="cR31"><rect x="471.00" y="180.00" width="55.00" height="57.00"/></clipPath>
<clipPath id="cR32"><rect x="529.30" y="180.00" width="55.00" height="57.00"/></clipPath>
<clipPath id="cR33"><rect x="587.60" y="180.00" width="55.00" height="57.00"/></clipPath>
<clipPath id="cR40"><rect x="412.70" y="239.20" width="55.00" height="57.00"/></clipPath>
<clipPath id="cR41"><rect x="471.00" y="239.20" width="55.00" height="57.00"/></clipPath>
<clipPath id="cR42"><rect x="529.30" y="239.20" width="55.00" height="57.00"/></clipPath>
<clipPath id="cR43"><rect x="587.60" y="239.20" width="55.00" height="57.00"/></clipPath>
<clipPath id="cR44"><rect x="645.90" y="239.20" width="55.00" height="57.00"/></clipPath>
<clipPath id="cR50"><rect x="412.70" y="298.40" width="55.00" height="57.00"/></clipPath>
<clipPath id="cR51"><rect x="471.00" y="298.40" width="55.00" height="57.00"/></clipPath>
<clipPath id="cR52"><rect x="529.30" y="298.40" width="55.00" height="57.00"/></clipPath>
<clipPath id="cR53"><rect x="587.60" y="298.40" width="55.00" height="57.00"/></clipPath>
<clipPath id="cR54"><rect x="645.90" y="298.40" width="55.00" height="57.00"/></clipPath>
<clipPath id="cR55"><rect x="704.20" y="298.40" width="55.00" height="57.00"/></clipPath>
<g clip-path="url(#cR00)">
<polyline points="411.70,59.68 412.18,59.68 412.66,59.67 413.14,59.66 413.62,59.65 414.09,59.63 414.57,59.61 415.05,59.58 415.53,59.54 416.01,59.49 416.49,59.43 416.97,59.35 417.45,59.26 417.93,59.14 418.41,58.99 418.88,58.81 419.36,58.59 419.84,58.32 420.32,58.00 420.80,57.62 421.28,57.17 421.76,56.64 422.24,56.02 422.72,55.30 423.20,54.48 423.67,53.54 424.15,52.48 424.63,51.29 425.11,49.96 425.59,48.49 426.07,46.87 426.55,45.12 427.03,43.23 427.51,41.20 427.99,39.05 428.46,36.80 428.94,34.46 429.42,32.04 429.90,29.58 430.38,27.11 430.86,24.65 431.34,22.23 431.82,19.90 432.30,17.67 432.78,15.60 433.25,13.71 433.73,12.03 434.21,10.60 434.69,9.43 435.17,8.55 435.65,7.98 436.13,7.72 436.61,7.78 437.09,8.15 437.57,8.84 438.04,9.83 438.52,11.10 439.00,12.63 439.48,14.39 439.96,16.36 440.44,18.49 440.92,20.76 441.40,23.13 441.88,25.56 442.36,28.03 442.83,30.51 443.31,32.95 443.79,35.34 444.27,37.65 444.75,39.87 445.23,41.97 445.71,43.95 446.19,45.79 446.67,47.49 447.15,49.05 447.62,50.47 448.10,51.75 448.58,52.89 449.06,53.91 449.54,54.80 450.02,55.58 450.50,56.26 450.98,56.84 451.46,57.34 451.94,57.77 452.41,58.12 452.89,58.42 453.37,58.67 453.85,58.88 454.33,59.05 454.81,59.18 455.29,59.29 455.77,59.38 456.25,59.45 456.73,59.51 457.20,59.55 457.68,59.59 458.16,59.62 458.64,59.64 459.12,59.65 459.60,59.67 460.08,59.67 460.56,59.68 461.04,59.69 461.52,59.69 461.99,59.69 462.47,59.69 462.95,59.70 463.43,59.70 463.91,59.70 464.39,59.70 464.87,59.70 465.35,59.70 465.83,59.70 466.31,59.70 466.78,59.70 467.26,59.70 467.74,59.70 468.22,59.70 468.70,59.70" fill="none" stroke="#2a2a2a" stroke-width="0.80"/>
<polyline points="411.70,59.68 412.18,59.68 412.66,59.67 413.14,59.66 413.62,59.65 414.09,59.63 414.57,59.61 415.05,59.58 415.53,59.54 416.01,59.49 416.49,59.43 416.97,59.35 417.45,59.26 417.93,59.14 418.41,58.99 418.88,58.81 419.36,58.59 419.84,58.32 420.32,58.00 420.80,57.62 421.28,57.17 421.76,56.64 422.24,56.02 422.72,55.30 423.20,54.48 423.67,53.54 424.15,52.48 424.63,51.29 425.11,49.96 425.59,48.49 426.07,46.87 426.55,45.12 427.03,43.23 427.51,41.20 427.99,39.05 428.46,36.80 428.94,34.46 429.42,32.04 429.90,29.58 430.38,27.11 430.86,24.65 431.34,22.23 431.82,19.90 432.30,17.67 432.78,15.60 433.25,13.71 433.73,12.03 434.21,10.60 434.69,9.43 435.17,8.55 435.65,7.98 436.13,7.72 436.61,7.78 437.09,8.15 437.57,8.84 438.04,9.83 438.52,11.10 439.00,12.63 439.48,14.39 439.96,16.36 440.44,18.49 440.92,20.76 441.40,23.13 441.88,25.56 442.36,28.03 442.83,30.51 443.31,32.95 443.79,35.34 444.27,37.65 444.75,39.87 445.23,41.97 445.71,43.95 446.19,45.79 446.67,47.49 447.15,49.05 447.62,50.47 448.10,51.75 448.58,52.89 449.06,53.91 449.54,54.80 450.02,55.58 450.50,56.26 450.98,56.84 451.46,57.34 451.94,57.77 452.41,58.12 452.89,58.42 453.37,58.67 453.85,58.88 454.33,59.05 454.81,59.18 455.29,59.29 455.77,59.38 456.25,59.45 456.73,59.51 457.20,59.55 457.68,59.59 458.16,59.62 458.64,59.64 459.12,59.65 459.60,59.67 460.08,59.67 460.56,59.68 461.04,59.69 461.52,59.69 461.99,59.69 462.47,59.69 462.95,59.70 463.43,59.70 463.91,59.70 464.39,59.70 464.87,59.70 465.35,59.70 465.83,59.70 466.31,59.70 466.78,59.70 467.26,59.70 467.74,59.70 468.22,59.70 468.70,59.70" fill="none" stroke="#e87a70" stroke-width="0.90"/>
<polyline points="411.70,59.69 412.18,59.69 412.66,59.68 413.14,59.68 413.62,59.67 414.09,59.66 414.57,59.64 415.05,59.62 415.53,59.60 416.01,59.57 416.49,59.53 416.97,59.48 417.45,59.41 417.93,59.33 418.41,59.23 418.88,59.10 419.36,58.94 419.84,58.75 420.32,58.52 420.80,58.24 421.28,57.90 421.76,57.51 422.24,57.04 422.72,56.48 423.20,55.84 423.67,55.10 424.15,54.25 424.63,53.28 425.11,52.18 425.59,50.95 426.07,49.59 426.55,48.08 427.03,46.43 427.51,44.63 427.99,42.71 428.46,40.65 428.94,38.47 429.42,36.19 429.90,33.83 430.38,31.40 430.86,28.93 431.34,26.46 431.82,24.01 432.30,21.61 432.78,19.30 433.25,17.11 433.73,15.09 434.21,13.25 434.69,11.63 435.17,10.26 435.65,9.17 436.13,8.37 436.61,7.88 437.09,7.70 437.57,7.84 438.04,8.31 438.52,9.08 439.00,10.14 439.48,11.48 439.96,13.07 440.44,14.89 440.92,16.90 441.40,19.07 441.88,21.37 442.36,23.76 442.83,26.21 443.31,28.68 443.79,31.15 444.27,33.58 444.75,35.96 445.23,38.25 445.71,40.43 446.19,42.50 446.67,44.45 447.15,46.25 447.62,47.92 448.10,49.44 448.58,50.82 449.06,52.06 449.54,53.17 450.02,54.15 450.50,55.02 450.98,55.77 451.46,56.42 451.94,56.98 452.41,57.46 452.89,57.87 453.37,58.21 453.85,58.49 454.33,58.73 454.81,58.93 455.29,59.09 455.77,59.22 456.25,59.32 456.73,59.40 457.20,59.47 457.68,59.52 458.16,59.56 458.64,59.60 459.12,59.62 459.60,59.64 460.08,59.66 460.56,59.67 461.04,59.68 461.52,59.68 461.99,59.69 462.47,59.69 462.95,59.69 463.43,59.70 463.91,59.70 464.39,59.70 464.87,59.70 465.35,59.70 465.83,59.70 466.31,59.70 466.78,59.70 467.26,59.70 467.74,59.70 468.22,59.70 468.70,59.70" fill="none" stroke="#8a8a8a" stroke-width="0.60"/>
<polyline points="411.70,59.69 412.18,59.69 412.66,59.68 413.14,59.68 413.62,59.67 414.09,59.66 414.57,59.64 415.05,59.62 415.53,59.60 416.01,59.57 416.49,59.53 416.97,59.48 417.45,59.41 417.93,59.33 418.41,59.23 418.88,59.10 419.36,58.94 419.84,58.75 420.32,58.52 420.80,58.24 421.28,57.90 421.76,57.51 422.24,57.04 422.72,56.48 423.20,55.84 423.67,55.10 424.15,54.25 424.63,53.28 425.11,52.18 425.59,50.95 426.07,49.59 426.55,48.08 427.03,46.43 427.51,44.63 427.99,42.71 428.46,40.65 428.94,38.47 429.42,36.19 429.90,33.83 430.38,31.40 430.86,28.93 431.34,26.46 431.82,24.01 432.30,21.61 432.78,19.30 433.25,17.11 433.73,15.09 434.21,13.25 434.69,11.63 435.17,10.26 435.65,9.17 436.13,8.37 436.61,7.88 437.09,7.70 437.57,7.84 438.04,8.31 438.52,9.08 439.00,10.14 439.48,11.48 439.96,13.07 440.44,14.89 440.92,16.90 441.40,19.07 441.88,21.37 442.36,23.76 442.83,26.21 443.31,28.68 443.79,31.15 444.27,33.58 444.75,35.96 445.23,38.25 445.71,40.43 446.19,42.50 446.67,44.45 447.15,46.25 447.62,47.92 448.10,49.44 448.58,50.82 449.06,52.06 449.54,53.17 450.02,54.15 450.50,55.02 450.98,55.77 451.46,56.42 451.94,56.98 452.41,57.46 452.89,57.87 453.37,58.21 453.85,58.49 454.33,58.73 454.81,58.93 455.29,59.09 455.77,59.22 456.25,59.32 456.73,59.40 457.20,59.47 457.68,59.52 458.16,59.56 458.64,59.60 459.12,59.62 459.60,59.64 460.08,59.66 460.56,59.67 461.04,59.68 461.52,59.68 461.99,59.69 462.47,59.69 462.95,59.69 463.43,59.70 463.91,59.70 464.39,59.70 464.87,59.70 465.35,59.70 465.83,59.70 466.31,59.70 466.78,59.70 467.26,59.70 467.74,59.70 468.22,59.70 468.70,59.70" fill="none" stroke="#5a98ea" stroke-width="0.90"/>
</g>
<rect x="412.70" y="2.40" width="55.00" height="57.00" fill="none" stroke="#505050" stroke-width="0.8"/>
<path d="M419.50 59.40v1.9M433.37 59.40v1.9M447.23 59.40v1.9M461.10 59.40v1.9" stroke="#2a2a2a" stroke-width="0.7" fill="none"/>
<g clip-path="url(#cR10)">
<ellipse cx="436.28" cy="89.51" rx="17.85" ry="12.71" transform="rotate(128.74 436.28 89.51)" fill="#f3ada5" fill-opacity="0.85"/>
<ellipse cx="436.28" cy="89.51" rx="11.05" ry="7.87" transform="rotate(128.74 436.28 89.51)" fill="#e63f33" fill-opacity="0.95"/>
<ellipse cx="437.11" cy="90.51" rx="17.85" ry="12.71" transform="rotate(128.74 437.11 90.51)" fill="#98b8ee" fill-opacity="0.85"/>
<ellipse cx="437.11" cy="90.51" rx="11.05" ry="7.87" transform="rotate(128.74 437.11 90.51)" fill="#1a62d8" fill-opacity="0.95"/>
<ellipse cx="437.11" cy="90.51" rx="18.47" ry="13.16" transform="rotate(128.74 437.11 90.51)" fill="none" stroke="#9a9a9a" stroke-width="0.6"/>
<ellipse cx="437.11" cy="90.51" rx="11.43" ry="8.14" transform="rotate(128.74 437.11 90.51)" fill="none" stroke="#9a9a9a" stroke-width="0.6"/>
<ellipse cx="436.28" cy="89.51" rx="18.47" ry="13.16" transform="rotate(128.74 436.28 89.51)" fill="none" stroke="#333333" stroke-width="0.5"/>
<ellipse cx="436.28" cy="89.51" rx="11.43" ry="8.14" transform="rotate(128.74 436.28 89.51)" fill="none" stroke="#333333" stroke-width="0.5"/>
</g>
<rect x="412.70" y="61.60" width="55.00" height="57.00" fill="none" stroke="#505050" stroke-width="0.8"/>
<path d="M419.50 118.60v1.9M433.37 118.60v1.9M447.23 118.60v1.9M461.10 118.60v1.9M412.70 108.63h-1.9M412.70 91.86h-1.9M412.70 75.09h-1.9" stroke="#2a2a2a" stroke-width="0.7" fill="none"/>
<g clip-path="url(#cR11)">
<polyline points="470.00,118.89 470.48,118.89 470.96,118.89 471.44,118.89 471.92,118.88 472.39,118.88 472.87,118.87 473.35,118.86 473.83,118.85 474.31,118.83 474.79,118.81 475.27,118.79 475.75,118.76 476.23,118.72 476.71,118.67 477.18,118.61 477.66,118.54 478.14,118.45 478.62,118.34 479.10,118.21 479.58,118.05 480.06,117.86 480.54,117.64 481.02,117.37 481.50,117.06 481.97,116.70 482.45,116.28 482.93,115.80 483.41,115.24 483.89,114.61 484.37,113.89 484.85,113.08 485.33,112.17 485.81,111.16 486.29,110.04 486.76,108.81 487.24,107.46 487.72,106.00 488.20,104.42 488.68,102.74 489.16,100.94 489.64,99.05 490.12,97.06 490.60,95.00 491.08,92.87 491.55,90.69 492.03,88.48 492.51,86.26 492.99,84.04 493.47,81.87 493.95,79.75 494.43,77.72 494.91,75.80 495.39,74.01 495.87,72.37 496.34,70.92 496.82,69.67 497.30,68.63 497.78,67.83 498.26,67.27 498.74,66.96 499.22,66.91 499.70,67.12 500.18,67.58 500.66,68.29 501.13,69.24 501.61,70.41 502.09,71.79 502.57,73.36 503.05,75.09 503.53,76.97 504.01,78.96 504.49,81.05 504.97,83.21 505.45,85.41 505.92,87.63 506.40,89.84 506.88,92.04 507.36,94.19 507.84,96.28 508.32,98.30 508.80,100.23 509.28,102.06 509.76,103.79 510.24,105.41 510.71,106.91 511.19,108.30 511.67,109.58 512.15,110.74 512.63,111.79 513.11,112.74 513.59,113.59 514.07,114.34 514.55,115.01 515.03,115.59 515.50,116.10 515.98,116.55 516.46,116.93 516.94,117.26 517.42,117.54 517.90,117.78 518.38,117.98 518.86,118.15 519.34,118.29 519.82,118.41 520.29,118.50 520.77,118.58 521.25,118.65 521.73,118.70 522.21,118.74 522.69,118.78 523.17,118.80 523.65,118.82 524.13,118.84 524.61,118.86 525.08,118.87 525.56,118.87 526.04,118.88 526.52,118.89 527.00,118.89" fill="none" stroke="#2a2a2a" stroke-width="0.80"/>
<polyline points="470.00,118.89 470.48,118.89 470.96,118.89 471.44,118.89 471.92,118.88 472.39,118.88 472.87,118.87 473.35,118.86 473.83,118.85 474.31,118.83 474.79,118.81 475.27,118.79 475.75,118.76 476.23,118.72 476.71,118.67 477.18,118.61 477.66,118.54 478.14,118.45 478.62,118.34 479.10,118.21 479.58,118.05 480.06,117.86 480.54,117.64 481.02,117.37 481.50,117.06 481.97,116.70 482.45,116.28 482.93,115.80 483.41,115.24 483.89,114.61 484.37,113.89 484.85,113.08 485.33,112.17 485.81,111.16 486.29,110.04 486.76,108.81 487.24,107.46 487.72,106.00 488.20,104.42 488.68,102.74 489.16,100.94 489.64,99.05 490.12,97.06 490.60,95.00 491.08,92.87 491.55,90.69 492.03,88.48 492.51,86.26 492.99,84.04 493.47,81.87 493.95,79.75 494.43,77.72 494.91,75.80 495.39,74.01 495.87,72.37 496.34,70.92 496.82,69.67 497.30,68.63 497.78,67.83 498.26,67.27 498.74,66.96 499.22,66.91 499.70,67.12 500.18,67.58 500.66,68.29 501.13,69.24 501.61,70.41 502.09,71.79 502.57,73.36 503.05,75.09 503.53,76.97 504.01,78.96 504.49,81.05 504.97,83.21 505.45,85.41 505.92,87.63 506.40,89.84 506.88,92.04 507.36,94.19 507.84,96.28 508.32,98.30 508.80,100.23 509.28,102.06 509.76,103.79 510.24,105.41 510.71,106.91 511.19,108.30 511.67,109.58 512.15,110.74 512.63,111.79 513.11,112.74 513.59,113.59 514.07,114.34 514.55,115.01 515.03,115.59 515.50,116.10 515.98,116.55 516.46,116.93 516.94,117.26 517.42,117.54 517.90,117.78 518.38,117.98 518.86,118.15 519.34,118.29 519.82,118.41 520.29,118.50 520.77,118.58 521.25,118.65 521.73,118.70 522.21,118.74 522.69,118.78 523.17,118.80 523.65,118.82 524.13,118.84 524.61,118.86 525.08,118.87 525.56,118.87 526.04,118.88 526.52,118.89 527.00,118.89" fill="none" stroke="#e87a70" stroke-width="0.90"/>
<polyline points="470.00,118.89 470.48,118.89 470.96,118.88 471.44,118.88 471.92,118.87 472.39,118.86 472.87,118.85 473.35,118.83 473.83,118.81 474.31,118.79 474.79,118.75 475.27,118.72 475.75,118.67 476.23,118.61 476.71,118.53 477.18,118.44 477.66,118.33 478.14,118.20 478.62,118.04 479.10,117.86 479.58,117.63 480.06,117.37 480.54,117.05 481.02,116.69 481.50,116.27 481.97,115.78 482.45,115.23 482.93,114.59 483.41,113.87 483.89,113.05 484.37,112.14 484.85,111.13 485.33,110.01 485.81,108.77 486.29,107.42 486.76,105.96 487.24,104.38 487.72,102.69 488.20,100.89 488.68,99.00 489.16,97.01 489.64,94.94 490.12,92.81 490.60,90.63 491.08,88.42 491.55,86.20 492.03,83.99 492.51,81.81 492.99,79.70 493.47,77.67 493.95,75.75 494.43,73.96 494.91,72.33 495.39,70.88 495.87,69.64 496.34,68.61 496.82,67.81 497.30,67.26 497.78,66.96 498.26,66.91 498.74,67.13 499.22,67.60 499.70,68.32 500.18,69.27 500.66,70.45 501.13,71.83 501.61,73.40 502.09,75.14 502.57,77.02 503.05,79.02 503.53,81.11 504.01,83.26 504.49,85.47 504.97,87.69 505.45,89.90 505.92,92.10 506.40,94.25 506.88,96.34 507.36,98.35 507.84,100.28 508.32,102.11 508.80,103.84 509.28,105.45 509.76,106.95 510.24,108.34 510.71,109.61 511.19,110.77 511.67,111.82 512.15,112.77 512.63,113.61 513.11,114.36 513.59,115.03 514.07,115.61 514.55,116.12 515.03,116.56 515.50,116.94 515.98,117.27 516.46,117.55 516.94,117.79 517.42,117.99 517.90,118.15 518.38,118.29 518.86,118.41 519.34,118.51 519.82,118.58 520.29,118.65 520.77,118.70 521.25,118.74 521.73,118.78 522.21,118.80 522.69,118.83 523.17,118.84 523.65,118.86 524.13,118.87 524.61,118.87 525.08,118.88 525.56,118.89 526.04,118.89 526.52,118.89 527.00,118.89" fill="none" stroke="#8a8a8a" stroke-width="0.60"/>
<polyline points="470.00,118.89 470.48,118.89 470.96,118.88 471.44,118.88 471.92,118.87 472.39,118.86 472.87,118.85 473.35,118.83 473.83,118.81 474.31,118.79 474.79,118.75 475.27,118.72 475.75,118.67 476.23,118.61 476.71,118.53 477.18,118.44 477.66,118.33 478.14,118.20 478.62,118.04 479.10,117.86 479.58,117.63 480.06,117.37 480.54,117.05 481.02,116.69 481.50,116.27 481.97,115.78 482.45,115.23 482.93,114.59 483.41,113.87 483.89,113.05 484.37,112.14 484.85,111.13 485.33,110.01 485.81,108.77 486.29,107.42 486.76,105.96 487.24,104.38 487.72,102.69 488.20,100.89 488.68,99.00 489.16,97.01 489.64,94.94 490.12,92.81 490.60,90.63 491.08,88.42 491.55,86.20 492.03,83.99 492.51,81.81 492.99,79.70 493.47,77.67 493.95,75.75 494.43,73.96 494.91,72.33 495.39,70.88 495.87,69.64 496.34,68.61 496.82,67.81 497.30,67.26 497.78,66.96 498.26,66.91 498.74,67.13 499.22,67.60 499.70,68.32 500.18,69.27 500.66,70.45 501.13,71.83 501.61,73.40 502.09,75.14 502.57,77.02 503.05,79.02 503.53,81.11 504.01,83.26 504.49,85.47 504.97,87.69 505.45,89.90 505.92,92.10 506.40,94.25 506.88,96.34 507.36,98.35 507.84,100.28 508.32,102.11 508.80,103.84 509.28,105.45 509.76,106.95 510.24,108.34 510.71,109.61 511.19,110.77 511.67,111.82 512.15,112.77 512.63,113.61 513.11,114.36 513.59,115.03 514.07,115.61 514.55,116.12 515.03,116.56 515.50,116.94 515.98,117.27 516.46,117.55 516.94,117.79 517.42,117.99 517.90,118.15 518.38,118.29 518.86,118.41 519.34,118.51 519.82,118.58 520.29,118.65 520.77,118.70 521.25,118.74 521.73,118.78 522.21,118.80 522.69,118.83 523.17,118.84 523.65,118.86 524.13,118.87 524.61,118.87 525.08,118.88 525.56,118.89 526.04,118.89 526.52,118.89 527.00,118.89" fill="none" stroke="#5a98ea" stroke-width="0.90"/>
</g>
<rect x="471.00" y="61.60" width="55.00" height="57.00" fill="none" stroke="#505050" stroke-width="0.8"/>
<path d="M480.62 118.60v1.9M496.81 118.60v1.9M512.99 118.60v1.9" stroke="#2a2a2a" stroke-width="0.7" fill="none"/>
<g clip-path="url(#cR20)">
<ellipse cx="436.28" cy="149.64" rx="17.49" ry="14.91" transform="rotate(84.59 436.28 149.64)" fill="#f3ada5" fill-opacity="0.85"/>
<ellipse cx="436.28" cy="149.64" rx="10.82" ry="9.23" transform="rotate(84.59 436.28 149.64)" fill="#e63f33" fill-opacity="0.95"/>
<ellipse cx="437.11" cy="151.89" rx="16.85" ry="14.90" transform="rotate(82.92 437.11 151.89)" fill="#98b8ee" fill-opacity="0.85"/>
<ellipse cx="437.11" cy="151.89" rx="10.42" ry="9.22" transform="rotate(82.92 437.11 151.89)" fill="#1a62d8" fill-opacity="0.95"/>
<ellipse cx="437.11" cy="151.56" rx="17.43" ry="15.43" transform="rotate(82.92 437.11 151.56)" fill="none" stroke="#9a9a9a" stroke-width="0.6"/>
<ellipse cx="437.11" cy="151.56" rx="10.79" ry="9.55" transform="rotate(82.92 437.11 151.56)" fill="none" stroke="#9a9a9a" stroke-width="0.6"/>
<ellipse cx="436.28" cy="148.58" rx="18.10" ry="15.43" transform="rotate(84.59 436.28 148.58)" fill="none" stroke="#333333" stroke-width="0.5"/>
<ellipse cx="436.28" cy="148.58" rx="11.20" ry="9.55" transform="rotate(84.59 436.28 148.58)" fill="none" stroke="#333333" stroke-width="0.5"/>
</g>
<rect x="412.70" y="120.80" width="55.00" height="57.00" fill="none" stroke="#505050" stroke-width="0.8"/>
<path d="M419.50 177.80v1.9M433.37 177.80v1.9M447.23 177.80v1.9M461.10 177.80v1.9M412.70 163.45h-1.9M412.70 146.93h-1.9M412.70 130.42h-1.9" stroke="#2a2a2a" stroke-width="0.7" fill="none"/>
<g clip-path="url(#cR21)">
<ellipse cx="499.07" cy="149.64" rx="17.84" ry="15.04" transform="rotate(67.66 499.07 149.64)" fill="#f3ada5" fill-opacity="0.85"/>
<ellipse cx="499.07" cy="149.64" rx="11.04" ry="9.31" transform="rotate(67.66 499.07 149.64)" fill="#e63f33" fill-opacity="0.95"/>
<ellipse cx="498.10" cy="151.89" rx="17.30" ry="14.94" transform="rotate(62.40 498.10 151.89)" fill="#98b8ee" fill-opacity="0.85"/>
<ellipse cx="498.10" cy="151.89" rx="10.70" ry="9.24" transform="rotate(62.40 498.10 151.89)" fill="#1a62d8" fill-opacity="0.95"/>
<ellipse cx="498.10" cy="151.56" rx="17.90" ry="15.46" transform="rotate(62.40 498.10 151.56)" fill="none" stroke="#9a9a9a" stroke-width="0.6"/>
<ellipse cx="498.10" cy="151.56" rx="11.08" ry="9.57" transform="rotate(62.40 498.10 151.56)" fill="none" stroke="#9a9a9a" stroke-width="0.6"/>
<ellipse cx="499.07" cy="148.58" rx="18.47" ry="15.56" transform="rotate(67.66 499.07 148.58)" fill="none" stroke="#333333" stroke-width="0.5"/>
<ellipse cx="499.07" cy="148.58" rx="11.43" ry="9.63" transform="rotate(67.66 499.07 148.58)" fill="none" stroke="#333333" stroke-width="0.5"/>
</g>
<rect x="471.00" y="120.80" width="55.00" height="57.00" fill="none" stroke="#505050" stroke-width="0.8"/>
<path d="M480.62 177.80v1.9M496.81 177.80v1.9M512.99 177.80v1.9M471.00 163.45h-1.9M471.00 146.93h-1.9M471.00 130.42h-1.9" stroke="#2a2a2a" stroke-width="0.7" fill="none"/>
<g clip-path="url(#cR22)">
<polyline points="528.30,178.09 528.78,178.09 529.26,178.09 529.74,178.08 530.22,178.08 530.69,178.07 531.17,178.07 531.65,178.05 532.13,178.04 532.61,178.02 533.09,178.00 533.57,177.98 534.05,177.94 534.53,177.90 535.01,177.85 535.48,177.79 535.96,177.71 536.44,177.62 536.92,177.50 537.40,177.37 537.88,177.20 538.36,177.01 538.84,176.78 539.32,176.51 539.80,176.19 540.27,175.82 540.75,175.40 541.23,174.90 541.71,174.34 542.19,173.70 542.67,172.98 543.15,172.17 543.63,171.26 544.11,170.25 544.59,169.13 545.06,167.91 545.54,166.57 546.02,165.12 546.50,163.56 546.98,161.89 547.46,160.12 547.94,158.25 548.42,156.29 548.90,154.25 549.38,152.15 549.85,150.00 550.33,147.82 550.81,145.63 551.29,143.44 551.77,141.29 552.25,139.19 552.73,137.17 553.21,135.26 553.69,133.47 554.17,131.83 554.64,130.36 555.12,129.09 555.60,128.02 556.08,127.18 556.56,126.57 557.04,126.21 557.52,126.10 558.00,126.24 558.48,126.63 558.96,127.26 559.43,128.13 559.91,129.22 560.39,130.52 560.87,132.00 561.35,133.66 561.83,135.46 562.31,137.39 562.79,139.42 563.27,141.52 563.75,143.68 564.22,145.87 564.70,148.06 565.18,150.24 565.66,152.38 566.14,154.48 566.62,156.51 567.10,158.46 567.58,160.32 568.06,162.08 568.54,163.74 569.01,165.29 569.49,166.72 569.97,168.05 570.45,169.26 570.93,170.36 571.41,171.36 571.89,172.26 572.37,173.06 572.85,173.78 573.33,174.41 573.80,174.96 574.28,175.45 574.76,175.87 575.24,176.23 575.72,176.54 576.20,176.80 576.68,177.03 577.16,177.22 577.64,177.38 578.12,177.52 578.59,177.63 579.07,177.72 579.55,177.79 580.03,177.86 580.51,177.91 580.99,177.95 581.47,177.98 581.95,178.01 582.43,178.03 582.91,178.04 583.38,178.06 583.86,178.07 584.34,178.07 584.82,178.08 585.30,178.09" fill="none" stroke="#2a2a2a" stroke-width="0.80"/>
<polyline points="528.30,178.09 528.78,178.08 529.26,178.08 529.74,178.07 530.22,178.06 530.69,178.05 531.17,178.04 531.65,178.02 532.13,178.00 532.61,177.97 533.09,177.94 533.57,177.89 534.05,177.84 534.53,177.78 535.01,177.70 535.48,177.60 535.96,177.49 536.44,177.35 536.92,177.18 537.40,176.98 537.88,176.75 538.36,176.47 538.84,176.15 539.32,175.77 539.80,175.34 540.27,174.84 540.75,174.27 541.23,173.62 541.71,172.88 542.19,172.06 542.67,171.13 543.15,170.11 543.63,168.98 544.11,167.74 544.59,166.39 545.06,164.93 545.54,163.35 546.02,161.67 546.50,159.89 546.98,158.00 547.46,156.03 547.94,153.99 548.42,151.88 548.90,149.72 549.38,147.54 549.85,145.34 550.33,143.16 550.81,141.01 551.29,138.93 551.77,136.92 552.25,135.02 552.73,133.25 553.21,131.63 553.69,130.19 554.17,128.94 554.64,127.90 555.12,127.09 555.60,126.51 556.08,126.18 556.56,126.10 557.04,126.28 557.52,126.70 558.00,127.36 558.48,128.26 558.96,129.38 559.43,130.70 559.91,132.21 560.39,133.88 560.87,135.70 561.35,137.65 561.83,139.69 562.31,141.80 562.79,143.96 563.27,146.15 563.75,148.34 564.22,150.52 564.70,152.66 565.18,154.75 565.66,156.77 566.14,158.71 566.62,160.55 567.10,162.30 567.58,163.95 568.06,165.48 568.54,166.90 569.01,168.21 569.49,169.41 569.97,170.50 570.45,171.48 570.93,172.37 571.41,173.16 571.89,173.86 572.37,174.48 572.85,175.03 573.33,175.50 573.80,175.91 574.28,176.27 574.76,176.58 575.24,176.84 575.72,177.06 576.20,177.24 576.68,177.40 577.16,177.53 577.64,177.64 578.12,177.73 578.59,177.80 579.07,177.86 579.55,177.91 580.03,177.95 580.51,177.98 580.99,178.01 581.47,178.03 581.95,178.04 582.43,178.06 582.91,178.07 583.38,178.08 583.86,178.08 584.34,178.09 584.82,178.09 585.30,178.09" fill="none" stroke="#e87a70" stroke-width="0.90"/>
<polyline points="528.30,178.08 528.78,178.07 529.26,178.07 529.74,178.05 530.22,178.04 530.69,178.02 531.17,178.00 531.65,177.97 532.13,177.94 532.61,177.89 533.09,177.83 533.57,177.76 534.05,177.68 534.53,177.58 535.01,177.45 535.48,177.30 535.96,177.11 536.44,176.89 536.92,176.63 537.40,176.32 537.88,175.96 538.36,175.54 538.84,175.05 539.32,174.49 539.80,173.84 540.27,173.11 540.75,172.28 541.23,171.34 541.71,170.30 542.19,169.15 542.67,167.87 543.15,166.48 543.63,164.96 544.11,163.33 544.59,161.58 545.06,159.72 545.54,157.75 546.02,155.69 546.50,153.55 546.98,151.35 547.46,149.10 547.94,146.83 548.42,144.55 548.90,142.30 549.38,140.09 549.85,137.96 550.33,135.93 550.81,134.02 551.29,132.27 551.77,130.70 552.25,129.33 552.73,128.18 553.21,127.27 553.69,126.62 554.17,126.22 554.64,126.10 555.12,126.25 555.60,126.66 556.08,127.34 556.56,128.27 557.04,129.44 557.52,130.83 558.00,132.42 558.48,134.18 558.96,136.10 559.43,138.14 559.91,140.28 560.39,142.49 560.87,144.75 561.35,147.02 561.83,149.30 562.31,151.54 562.79,153.74 563.27,155.87 563.75,157.92 564.22,159.88 564.70,161.73 565.18,163.47 565.66,165.10 566.14,166.60 566.62,167.99 567.10,169.25 567.58,170.39 568.06,171.43 568.54,172.35 569.01,173.17 569.49,173.90 569.97,174.54 570.45,175.09 570.93,175.58 571.41,175.99 571.89,176.35 572.37,176.65 572.85,176.91 573.33,177.13 573.80,177.31 574.28,177.46 574.76,177.58 575.24,177.69 575.72,177.77 576.20,177.84 576.68,177.89 577.16,177.94 577.64,177.97 578.12,178.00 578.59,178.02 579.07,178.04 579.55,178.06 580.03,178.07 580.51,178.07 580.99,178.08 581.47,178.09 581.95,178.09 582.43,178.09 582.91,178.09 583.38,178.10 583.86,178.10 584.34,178.10 584.82,178.10 585.30,178.10" fill="none" stroke="#8a8a8a" stroke-width="0.60"/>
<polyline points="528.30,178.08 528.78,178.07 529.26,178.06 529.74,178.05 530.22,178.03 530.69,178.01 531.17,177.98 531.65,177.95 532.13,177.91 532.61,177.85 533.09,177.79 533.57,177.71 534.05,177.61 534.53,177.49 535.01,177.35 535.48,177.18 535.96,176.97 536.44,176.72 536.92,176.43 537.40,176.09 537.88,175.69 538.36,175.22 538.84,174.68 539.32,174.07 539.80,173.36 540.27,172.56 540.75,171.67 541.23,170.66 541.71,169.54 542.19,168.31 542.67,166.96 543.15,165.48 543.63,163.89 544.11,162.18 544.59,160.35 545.06,158.42 545.54,156.39 546.02,154.28 546.50,152.10 546.98,149.86 547.46,147.59 547.94,145.31 548.42,143.05 548.90,140.82 549.38,138.66 549.85,136.59 550.33,134.64 550.81,132.84 551.29,131.21 551.77,129.77 552.25,128.54 552.73,127.55 553.21,126.81 553.69,126.33 554.17,126.11 554.64,126.17 555.12,126.49 555.60,127.09 556.08,127.93 556.56,129.02 557.04,130.34 557.52,131.86 558.00,133.57 558.48,135.44 558.96,137.44 559.43,139.55 559.91,141.74 560.39,143.99 560.87,146.26 561.35,148.54 561.83,150.79 562.31,153.01 562.79,155.17 563.27,157.25 563.75,159.24 564.22,161.13 564.70,162.90 565.18,164.57 565.66,166.11 566.14,167.54 566.62,168.84 567.10,170.02 567.58,171.09 568.06,172.05 568.54,172.91 569.01,173.67 569.49,174.33 569.97,174.92 570.45,175.42 570.93,175.86 571.41,176.24 571.89,176.56 572.37,176.83 572.85,177.06 573.33,177.25 573.80,177.41 574.28,177.55 574.76,177.66 575.24,177.75 575.72,177.82 576.20,177.88 576.68,177.93 577.16,177.96 577.64,177.99 578.12,178.02 578.59,178.04 579.07,178.05 579.55,178.06 580.03,178.07 580.51,178.08 580.99,178.08 581.47,178.09 581.95,178.09 582.43,178.09 582.91,178.10 583.38,178.10 583.86,178.10 584.34,178.10 584.82,178.10 585.30,178.10" fill="none" stroke="#5a98ea" stroke-width="0.90"/>
</g>
<rect x="529.30" y="120.80" width="55.00" height="57.00" fill="none" stroke="#505050" stroke-width="0.8"/>
<path d="M543.15 177.80v1.9M559.09 177.80v1.9M575.02 177.80v1.9" stroke="#2a2a2a" stroke-width="0.7" fill="none"/>
<g clip-path="url(#cR30)">
<ellipse cx="436.28" cy="208.22" rx="15.19" ry="14.41" transform="rotate(144.83 436.28 208.22)" fill="#f3ada5" fill-opacity="0.85"/>
<ellipse cx="436.28" cy="208.22" rx="9.40" ry="8.92" transform="rotate(144.83 436.28 208.22)" fill="#e63f33" fill-opacity="0.95"/>
<ellipse cx="437.11" cy="215.58" rx="14.95" ry="9.83" transform="rotate(176.67 437.11 215.58)" fill="#98b8ee" fill-opacity="0.85"/>
<ellipse cx="437.11" cy="215.58" rx="9.25" ry="6.08" transform="rotate(176.67 437.11 215.58)" fill="#1a62d8" fill-opacity="0.95"/>
<ellipse cx="437.11" cy="215.58" rx="15.47" ry="10.17" transform="rotate(176.67 437.11 215.58)" fill="none" stroke="#9a9a9a" stroke-width="0.6"/>
<ellipse cx="437.11" cy="215.58" rx="9.58" ry="6.30" transform="rotate(176.67 437.11 215.58)" fill="none" stroke="#9a9a9a" stroke-width="0.6"/>
<ellipse cx="436.28" cy="207.71" rx="15.72" ry="14.91" transform="rotate(144.83 436.28 207.71)" fill="none" stroke="#333333" stroke-width="0.5"/>
<ellipse cx="436.28" cy="207.71" rx="9.73" ry="9.23" transform="rotate(144.83 436.28 207.71)" fill="none" stroke="#333333" stroke-width="0.5"/>
</g>
<rect x="412.70" y="180.00" width="55.00" height="57.00" fill="none" stroke="#505050" stroke-width="0.8"/>
<path d="M419.50 237.00v1.9M433.37 237.00v1.9M447.23 237.00v1.9M461.10 237.00v1.9M412.70 230.03h-1.9M412.70 219.10h-1.9M412.70 208.17h-1.9M412.70 197.24h-1.9M412.70 186.31h-1.9" stroke="#2a2a2a" stroke-width="0.7" fill="none"/>
<g clip-path="url(#cR31)">
<ellipse cx="499.07" cy="208.22" rx="16.23" ry="13.83" transform="rotate(144.76 499.07 208.22)" fill="#f3ada5" fill-opacity="0.85"/>
<ellipse cx="499.07" cy="208.22" rx="10.05" ry="8.56" transform="rotate(144.76 499.07 208.22)" fill="#e63f33" fill-opacity="0.95"/>
<ellipse cx="498.10" cy="215.58" rx="15.59" ry="9.67" transform="rotate(171.10 498.10 215.58)" fill="#98b8ee" fill-opacity="0.85"/>
<ellipse cx="498.10" cy="215.58" rx="9.65" ry="5.98" transform="rotate(171.10 498.10 215.58)" fill="#1a62d8" fill-opacity="0.95"/>
<ellipse cx="498.10" cy="215.58" rx="16.13" ry="10.01" transform="rotate(171.10 498.10 215.58)" fill="none" stroke="#9a9a9a" stroke-width="0.6"/>
<ellipse cx="498.10" cy="215.58" rx="9.98" ry="6.19" transform="rotate(171.10 498.10 215.58)" fill="none" stroke="#9a9a9a" stroke-width="0.6"/>
<ellipse cx="499.07" cy="207.71" rx="16.80" ry="14.31" transform="rotate(144.76 499.07 207.71)" fill="none" stroke="#333333" stroke-width="0.5"/>
<ellipse cx="499.07" cy="207.71" rx="10.40" ry="8.86" transform="rotate(144.76 499.07 207.71)" fill="none" stroke="#333333" stroke-width="0.5"/>
</g>
<rect x="471.00" y="180.00" width="55.00" height="57.00" fill="none" stroke="#505050" stroke-width="0.8"/>
<path d="M480.62 237.00v1.9M496.81 237.00v1.9M512.99 237.00v1.9M471.00 230.03h-1.9M471.00 219.10h-1.9M471.00 208.17h-1.9M471.00 197.24h-1.9M471.00 186.31h-1.9" stroke="#2a2a2a" stroke-width="0.7" fill="none"/>
<g clip-path="url(#cR32)">
<ellipse cx="556.47" cy="208.22" rx="16.92" ry="14.60" transform="rotate(-170.11 556.47 208.22)" fill="#f3ada5" fill-opacity="0.85"/>
<ellipse cx="556.47" cy="208.22" rx="10.47" ry="9.03" transform="rotate(-170.11 556.47 208.22)" fill="#e63f33" fill-opacity="0.95"/>
<ellipse cx="554.31" cy="215.58" rx="16.24" ry="9.83" transform="rotate(-177.25 554.31 215.58)" fill="#98b8ee" fill-opacity="0.85"/>
<ellipse cx="554.31" cy="215.58" rx="10.05" ry="6.08" transform="rotate(-177.25 554.31 215.58)" fill="#1a62d8" fill-opacity="0.95"/>
<ellipse cx="554.62" cy="215.58" rx="16.81" ry="10.18" transform="rotate(-177.25 554.62 215.58)" fill="none" stroke="#9a9a9a" stroke-width="0.6"/>
<ellipse cx="554.62" cy="215.58" rx="10.40" ry="6.30" transform="rotate(-177.25 554.62 215.58)" fill="none" stroke="#9a9a9a" stroke-width="0.6"/>
<ellipse cx="557.49" cy="207.71" rx="17.51" ry="15.11" transform="rotate(-170.11 557.49 207.71)" fill="none" stroke="#333333" stroke-width="0.5"/>
<ellipse cx="557.49" cy="207.71" rx="10.83" ry="9.35" transform="rotate(-170.11 557.49 207.71)" fill="none" stroke="#333333" stroke-width="0.5"/>
</g>
<rect x="529.30" y="180.00" width="55.00" height="57.00" fill="none" stroke="#505050" stroke-width="0.8"/>
<path d="M543.15 237.00v1.9M559.09 237.00v1.9M575.02 237.00v1.9M529.30 230.03h-1.9M529.30 219.10h-1.9M529.30 208.17h-1.9M529.30 197.24h-1.9M529.30 186.31h-1.9" stroke="#2a2a2a" stroke-width="0.7" fill="none"/>
<g clip-path="url(#cR33)">
<polyline points="586.60,237.30 587.08,237.30 587.56,237.30 588.04,237.30 588.52,237.30 588.99,237.30 589.47,237.29 589.95,237.29 590.43,237.29 590.91,237.29 591.39,237.28 591.87,237.27 592.35,237.26 592.83,237.25 593.31,237.24 593.78,237.22 594.26,237.19 594.74,237.16 595.22,237.11 595.70,237.06 596.18,236.99 596.66,236.90 597.14,236.79 597.62,236.66 598.10,236.50 598.57,236.30 599.05,236.05 599.53,235.76 600.01,235.42 600.49,235.00 600.97,234.52 601.45,233.95 601.93,233.30 602.41,232.54 602.89,231.67 603.36,230.69 603.84,229.58 604.32,228.34 604.80,226.96 605.28,225.45 605.76,223.79 606.24,221.99 606.72,220.06 607.20,218.01 607.68,215.84 608.15,213.57 608.63,211.21 609.11,208.80 609.59,206.36 610.07,203.90 610.55,201.47 611.03,199.10 611.51,196.81 611.99,194.65 612.47,192.64 612.94,190.82 613.42,189.22 613.90,187.87 614.38,186.78 614.86,185.98 615.34,185.49 615.82,185.30 616.30,185.43 616.78,185.87 617.26,186.62 617.73,187.66 618.21,188.97 618.69,190.53 619.17,192.31 619.65,194.29 620.13,196.43 620.61,198.70 621.09,201.06 621.57,203.48 622.05,205.93 622.52,208.38 623.00,210.80 623.48,213.16 623.96,215.45 624.44,217.64 624.92,219.72 625.40,221.67 625.88,223.49 626.36,225.17 626.84,226.71 627.31,228.11 627.79,229.38 628.27,230.51 628.75,231.51 629.23,232.40 629.71,233.17 630.19,233.85 630.67,234.43 631.15,234.93 631.63,235.35 632.10,235.71 632.58,236.01 633.06,236.26 633.54,236.46 634.02,236.63 634.50,236.77 634.98,236.88 635.46,236.97 635.94,237.05 636.42,237.10 636.89,237.15 637.37,237.18 637.85,237.21 638.33,237.23 638.81,237.25 639.29,237.26 639.77,237.27 640.25,237.28 640.73,237.29 641.21,237.29 641.68,237.29 642.16,237.29 642.64,237.30 643.12,237.30 643.60,237.30" fill="none" stroke="#2a2a2a" stroke-width="0.80"/>
<polyline points="586.60,237.30 587.08,237.30 587.56,237.30 588.04,237.30 588.52,237.30 588.99,237.29 589.47,237.29 589.95,237.29 590.43,237.29 590.91,237.28 591.39,237.27 591.87,237.26 592.35,237.25 592.83,237.24 593.31,237.22 593.78,237.19 594.26,237.16 594.74,237.11 595.22,237.06 595.70,236.99 596.18,236.90 596.66,236.79 597.14,236.66 597.62,236.49 598.10,236.29 598.57,236.05 599.05,235.75 599.53,235.41 600.01,234.99 600.49,234.51 600.97,233.94 601.45,233.28 601.93,232.52 602.41,231.65 602.89,230.66 603.36,229.55 603.84,228.30 604.32,226.92 604.80,225.40 605.28,223.74 605.76,221.94 606.24,220.01 606.72,217.95 607.20,215.78 607.68,213.50 608.15,211.15 608.63,208.74 609.11,206.29 609.59,203.84 610.07,201.41 610.55,199.03 611.03,196.75 611.51,194.59 611.99,192.59 612.47,190.78 612.94,189.18 613.42,187.83 613.90,186.75 614.38,185.96 614.86,185.48 615.34,185.30 615.82,185.44 616.30,185.89 616.78,186.65 617.26,187.69 617.73,189.01 618.21,190.58 618.69,192.36 619.17,194.35 619.65,196.49 620.13,198.76 620.61,201.12 621.09,203.55 621.57,206.00 622.05,208.45 622.52,210.87 623.00,213.23 623.48,215.51 623.96,217.70 624.44,219.77 624.92,221.72 625.40,223.54 625.88,225.21 626.36,226.75 626.84,228.15 627.31,229.41 627.79,230.54 628.27,231.54 628.75,232.42 629.23,233.19 629.71,233.86 630.19,234.44 630.67,234.94 631.15,235.36 631.63,235.72 632.10,236.01 632.58,236.26 633.06,236.47 633.54,236.64 634.02,236.78 634.50,236.89 634.98,236.98 635.46,237.05 635.94,237.11 636.42,237.15 636.89,237.19 637.37,237.21 637.85,237.23 638.33,237.25 638.81,237.26 639.29,237.27 639.77,237.28 640.25,237.29 640.73,237.29 641.21,237.29 641.68,237.29 642.16,237.30 642.64,237.30 643.12,237.30 643.60,237.30" fill="none" stroke="#e87a70" stroke-width="0.90"/>
<polyline points="586.60,237.30 587.08,237.30 587.56,237.30 588.04,237.30 588.52,237.30 588.99,237.30 589.47,237.30 589.95,237.30 590.43,237.30 590.91,237.29 591.39,237.29 591.87,237.28 592.35,237.27 592.83,237.25 593.31,237.23 593.78,237.19 594.26,237.13 594.74,237.06 595.22,236.94 595.70,236.79 596.18,236.58 596.66,236.30 597.14,235.92 597.62,235.43 598.10,234.79 598.57,233.98 599.05,232.98 599.53,231.74 600.01,230.24 600.49,228.46 600.97,226.37 601.45,223.98 601.93,221.28 602.41,218.29 602.89,215.04 603.36,211.58 603.84,207.99 604.32,204.33 604.80,200.72 605.28,197.26 605.76,194.05 606.24,191.20 606.72,188.83 607.20,187.02 607.68,185.83 608.15,185.32 608.63,185.50 609.11,186.38 609.59,187.91 610.07,190.03 610.55,192.67 611.03,195.72 611.51,199.08 611.99,202.64 612.47,206.28 612.94,209.92 613.42,213.45 613.90,216.80 614.38,219.92 614.86,222.76 615.34,225.30 615.82,227.52 616.30,229.44 616.78,231.07 617.26,232.43 617.73,233.54 618.21,234.44 618.69,235.15 619.17,235.71 619.65,236.13 620.13,236.46 620.61,236.70 621.09,236.88 621.57,237.01 622.05,237.10 622.52,237.17 623.00,237.21 623.48,237.24 623.96,237.26 624.44,237.28 624.92,237.28 625.40,237.29 625.88,237.29 626.36,237.30 626.84,237.30 627.31,237.30 627.79,237.30 628.27,237.30 628.75,237.30 629.23,237.30 629.71,237.30 630.19,237.30 630.67,237.30 631.15,237.30 631.63,237.30 632.10,237.30 632.58,237.30 633.06,237.30 633.54,237.30 634.02,237.30 634.50,237.30 634.98,237.30 635.46,237.30 635.94,237.30 636.42,237.30 636.89,237.30 637.37,237.30 637.85,237.30 638.33,237.30 638.81,237.30 639.29,237.30 639.77,237.30 640.25,237.30 640.73,237.30 641.21,237.30 641.68,237.30 642.16,237.30 642.64,237.30 643.12,237.30 643.60,237.30" fill="none" stroke="#8a8a8a" stroke-width="0.60"/>
<polyline points="586.60,237.30 587.08,237.30 587.56,237.30 588.04,237.30 588.52,237.30 588.99,237.30 589.47,237.30 589.95,237.30 590.43,237.30 590.91,237.29 591.39,237.29 591.87,237.28 592.35,237.27 592.83,237.25 593.31,237.23 593.78,237.19 594.26,237.13 594.74,237.06 595.22,236.94 595.70,236.79 596.18,236.58 596.66,236.30 597.14,235.92 597.62,235.43 598.10,234.79 598.57,233.98 599.05,232.98 599.53,231.74 600.01,230.24 600.49,228.46 600.97,226.37 601.45,223.98 601.93,221.28 602.41,218.29 602.89,215.04 603.36,211.58 603.84,207.99 604.32,204.33 604.80,200.72 605.28,197.26 605.76,194.05 606.24,191.20 606.72,188.83 607.20,187.02 607.68,185.83 608.15,185.32 608.63,185.50 609.11,186.38 609.59,187.91 610.07,190.03 610.55,192.67 611.03,195.72 611.51,199.08 611.99,202.64 612.47,206.28 612.94,209.92 613.42,213.45 613.90,216.80 614.38,219.92 614.86,222.76 615.34,225.30 615.82,227.52 616.30,229.44 616.78,231.07 617.26,232.43 617.73,233.54 618.21,234.44 618.69,235.15 619.17,235.71 619.65,236.13 620.13,236.46 620.61,236.70 621.09,236.88 621.57,237.01 622.05,237.10 622.52,237.17 623.00,237.21 623.48,237.24 623.96,237.26 624.44,237.28 624.92,237.28 625.40,237.29 625.88,237.29 626.36,237.30 626.84,237.30 627.31,237.30 627.79,237.30 628.27,237.30 628.75,237.30 629.23,237.30 629.71,237.30 630.19,237.30 630.67,237.30 631.15,237.30 631.63,237.30 632.10,237.30 632.58,237.30 633.06,237.30 633.54,237.30 634.02,237.30 634.50,237.30 634.98,237.30 635.46,237.30 635.94,237.30 636.42,237.30 636.89,237.30 637.37,237.30 637.85,237.30 638.33,237.30 638.81,237.30 639.29,237.30 639.77,237.30 640.25,237.30 640.73,237.30 641.21,237.30 641.68,237.30 642.16,237.30 642.64,237.30 643.12,237.30 643.60,237.30" fill="none" stroke="#5a98ea" stroke-width="0.90"/>
</g>
<rect x="587.60" y="180.00" width="55.00" height="57.00" fill="none" stroke="#505050" stroke-width="0.8"/>
<path d="M594.33 237.00v1.9M604.87 237.00v1.9M615.42 237.00v1.9M625.97 237.00v1.9M636.51 237.00v1.9" stroke="#2a2a2a" stroke-width="0.7" fill="none"/>
<g clip-path="url(#cR40)">
<ellipse cx="436.28" cy="267.96" rx="18.41" ry="13.66" transform="rotate(60.72 436.28 267.96)" fill="#f3ada5" fill-opacity="0.85"/>
<ellipse cx="436.28" cy="267.96" rx="11.39" ry="8.46" transform="rotate(60.72 436.28 267.96)" fill="#e63f33" fill-opacity="0.95"/>
<ellipse cx="437.11" cy="266.40" rx="18.41" ry="13.66" transform="rotate(60.72 437.11 266.40)" fill="#98b8ee" fill-opacity="0.85"/>
<ellipse cx="437.11" cy="266.40" rx="11.39" ry="8.46" transform="rotate(60.72 437.11 266.40)" fill="#1a62d8" fill-opacity="0.95"/>
<ellipse cx="437.11" cy="268.15" rx="19.05" ry="14.14" transform="rotate(60.72 437.11 268.15)" fill="none" stroke="#9a9a9a" stroke-width="0.6"/>
<ellipse cx="437.11" cy="268.15" rx="11.79" ry="8.75" transform="rotate(60.72 437.11 268.15)" fill="none" stroke="#9a9a9a" stroke-width="0.6"/>
<ellipse cx="436.28" cy="269.60" rx="19.05" ry="14.14" transform="rotate(60.72 436.28 269.60)" fill="none" stroke="#333333" stroke-width="0.5"/>
<ellipse cx="436.28" cy="269.60" rx="11.79" ry="8.75" transform="rotate(60.72 436.28 269.60)" fill="none" stroke="#333333" stroke-width="0.5"/>
</g>
<rect x="412.70" y="239.20" width="55.00" height="57.00" fill="none" stroke="#505050" stroke-width="0.8"/>
<path d="M419.50 296.20v1.9M433.37 296.20v1.9M447.23 296.20v1.9M461.10 296.20v1.9M412.70 289.28h-1.9M412.70 278.35h-1.9M412.70 267.42h-1.9M412.70 256.49h-1.9M412.70 245.56h-1.9" stroke="#2a2a2a" stroke-width="0.7" fill="none"/>
<g clip-path="url(#cR41)">
<ellipse cx="499.07" cy="267.96" rx="18.26" ry="14.44" transform="rotate(60.18 499.07 267.96)" fill="#f3ada5" fill-opacity="0.85"/>
<ellipse cx="499.07" cy="267.96" rx="11.30" ry="8.94" transform="rotate(60.18 499.07 267.96)" fill="#e63f33" fill-opacity="0.95"/>
<ellipse cx="498.10" cy="266.40" rx="18.26" ry="14.44" transform="rotate(60.18 498.10 266.40)" fill="#98b8ee" fill-opacity="0.85"/>
<ellipse cx="498.10" cy="266.40" rx="11.30" ry="8.94" transform="rotate(60.18 498.10 266.40)" fill="#1a62d8" fill-opacity="0.95"/>
<ellipse cx="498.10" cy="268.15" rx="18.90" ry="14.95" transform="rotate(60.18 498.10 268.15)" fill="none" stroke="#9a9a9a" stroke-width="0.6"/>
<ellipse cx="498.10" cy="268.15" rx="11.69" ry="9.25" transform="rotate(60.18 498.10 268.15)" fill="none" stroke="#9a9a9a" stroke-width="0.6"/>
<ellipse cx="499.07" cy="269.60" rx="18.90" ry="14.95" transform="rotate(60.18 499.07 269.60)" fill="none" stroke="#333333" stroke-width="0.5"/>
<ellipse cx="499.07" cy="269.60" rx="11.69" ry="9.25" transform="rotate(60.18 499.07 269.60)" fill="none" stroke="#333333" stroke-width="0.5"/>
</g>
<rect x="471.00" y="239.20" width="55.00" height="57.00" fill="none" stroke="#505050" stroke-width="0.8"/>
<path d="M480.62 296.20v1.9M496.81 296.20v1.9M512.99 296.20v1.9M471.00 289.28h-1.9M471.00 278.35h-1.9M471.00 267.42h-1.9M471.00 256.49h-1.9M471.00 245.56h-1.9" stroke="#2a2a2a" stroke-width="0.7" fill="none"/>
<g clip-path="url(#cR42)">
<ellipse cx="556.47" cy="267.96" rx="20.63" ry="12.69" transform="rotate(132.99 556.47 267.96)" fill="#f3ada5" fill-opacity="0.85"/>
<ellipse cx="556.47" cy="267.96" rx="12.76" ry="7.85" transform="rotate(132.99 556.47 267.96)" fill="#e63f33" fill-opacity="0.95"/>
<ellipse cx="554.31" cy="266.40" rx="20.28" ry="12.43" transform="rotate(130.62 554.31 266.40)" fill="#98b8ee" fill-opacity="0.85"/>
<ellipse cx="554.31" cy="266.40" rx="12.55" ry="7.69" transform="rotate(130.62 554.31 266.40)" fill="#1a62d8" fill-opacity="0.95"/>
<ellipse cx="554.62" cy="268.15" rx="20.99" ry="12.86" transform="rotate(130.62 554.62 268.15)" fill="none" stroke="#9a9a9a" stroke-width="0.6"/>
<ellipse cx="554.62" cy="268.15" rx="12.99" ry="7.96" transform="rotate(130.62 554.62 268.15)" fill="none" stroke="#9a9a9a" stroke-width="0.6"/>
<ellipse cx="557.49" cy="269.60" rx="21.35" ry="13.13" transform="rotate(132.99 557.49 269.60)" fill="none" stroke="#333333" stroke-width="0.5"/>
<ellipse cx="557.49" cy="269.60" rx="13.21" ry="8.13" transform="rotate(132.99 557.49 269.60)" fill="none" stroke="#333333" stroke-width="0.5"/>
</g>
<rect x="529.30" y="239.20" width="55.00" height="57.00" fill="none" stroke="#505050" stroke-width="0.8"/>
<path d="M543.15 296.20v1.9M559.09 296.20v1.9M575.02 296.20v1.9M529.30 289.28h-1.9M529.30 278.35h-1.9M529.30 267.42h-1.9M529.30 256.49h-1.9M529.30 245.56h-1.9" stroke="#2a2a2a" stroke-width="0.7" fill="none"/>
<g clip-path="url(#cR43)">
<ellipse cx="615.37" cy="267.96" rx="17.55" ry="13.96" transform="rotate(102.88 615.37 267.96)" fill="#f3ada5" fill-opacity="0.85"/>
<ellipse cx="615.37" cy="267.96" rx="10.86" ry="8.64" transform="rotate(102.88 615.37 267.96)" fill="#e63f33" fill-opacity="0.95"/>
<ellipse cx="608.27" cy="266.40" rx="17.43" ry="9.44" transform="rotate(94.43 608.27 266.40)" fill="#98b8ee" fill-opacity="0.85"/>
<ellipse cx="608.27" cy="266.40" rx="10.79" ry="5.84" transform="rotate(94.43 608.27 266.40)" fill="#1a62d8" fill-opacity="0.95"/>
<ellipse cx="608.27" cy="268.15" rx="18.04" ry="9.77" transform="rotate(94.43 608.27 268.15)" fill="none" stroke="#9a9a9a" stroke-width="0.6"/>
<ellipse cx="608.27" cy="268.15" rx="11.16" ry="6.05" transform="rotate(94.43 608.27 268.15)" fill="none" stroke="#9a9a9a" stroke-width="0.6"/>
<ellipse cx="615.86" cy="269.60" rx="18.17" ry="14.45" transform="rotate(102.88 615.86 269.60)" fill="none" stroke="#333333" stroke-width="0.5"/>
<ellipse cx="615.86" cy="269.60" rx="11.24" ry="8.94" transform="rotate(102.88 615.86 269.60)" fill="none" stroke="#333333" stroke-width="0.5"/>
</g>
<rect x="587.60" y="239.20" width="55.00" height="57.00" fill="none" stroke="#505050" stroke-width="0.8"/>
<path d="M594.33 296.20v1.9M604.87 296.20v1.9M615.42 296.20v1.9M625.97 296.20v1.9M636.51 296.20v1.9M587.60 289.28h-1.9M587.60 278.35h-1.9M587.60 267.42h-1.9M587.60 256.49h-1.9M587.60 245.56h-1.9" stroke="#2a2a2a" stroke-width="0.7" fill="none"/>
<g clip-path="url(#cR44)">
<polyline points="644.90,296.47 645.38,296.46 645.86,296.45 646.34,296.44 646.82,296.42 647.29,296.40 647.77,296.37 648.25,296.34 648.73,296.30 649.21,296.24 649.69,296.18 650.17,296.10 650.65,296.01 651.13,295.89 651.61,295.75 652.08,295.58 652.56,295.38 653.04,295.15 653.52,294.87 654.00,294.55 654.48,294.17 654.96,293.73 655.44,293.23 655.92,292.66 656.40,292.00 656.87,291.26 657.35,290.43 657.83,289.50 658.31,288.47 658.79,287.33 659.27,286.09 659.75,284.72 660.23,283.25 660.71,281.66 661.19,279.97 661.66,278.17 662.14,276.27 662.62,274.29 663.10,272.23 663.58,270.10 664.06,267.94 664.54,265.74 665.02,263.54 665.50,261.35 665.98,259.20 666.45,257.11 666.93,255.10 667.41,253.21 667.89,251.45 668.37,249.85 668.85,248.42 669.33,247.19 669.81,246.18 670.29,245.39 670.77,244.85 671.24,244.56 671.72,244.51 672.20,244.73 672.68,245.19 673.16,245.89 673.64,246.83 674.12,247.99 674.60,249.35 675.08,250.90 675.56,252.61 676.03,254.46 676.51,256.43 676.99,258.50 677.47,260.63 677.95,262.81 678.43,265.01 678.91,267.21 679.39,269.39 679.87,271.53 680.35,273.61 680.82,275.62 681.30,277.55 681.78,279.38 682.26,281.11 682.74,282.73 683.22,284.25 683.70,285.65 684.18,286.93 684.66,288.11 685.14,289.17 685.61,290.14 686.09,291.00 686.57,291.77 687.05,292.45 687.53,293.05 688.01,293.57 688.49,294.03 688.97,294.43 689.45,294.77 689.93,295.06 690.40,295.31 690.88,295.52 691.36,295.70 691.84,295.85 692.32,295.97 692.80,296.07 693.28,296.16 693.76,296.22 694.24,296.28 694.72,296.33 695.19,296.36 695.67,296.39 696.15,296.42 696.63,296.44 697.11,296.45 697.59,296.46 698.07,296.47 698.55,296.48 699.03,296.48 699.51,296.49 699.98,296.49 700.46,296.49 700.94,296.49 701.42,296.50 701.90,296.50" fill="none" stroke="#2a2a2a" stroke-width="0.80"/>
<polyline points="644.90,296.49 645.38,296.49 645.86,296.48 646.34,296.48 646.82,296.47 647.29,296.46 647.77,296.44 648.25,296.43 648.73,296.41 649.21,296.38 649.69,296.35 650.17,296.31 650.65,296.26 651.13,296.20 651.61,296.13 652.08,296.04 652.56,295.93 653.04,295.79 653.52,295.64 654.00,295.45 654.48,295.22 654.96,294.96 655.44,294.65 655.92,294.29 656.40,293.87 656.87,293.39 657.35,292.84 657.83,292.21 658.31,291.50 658.79,290.69 659.27,289.80 659.75,288.80 660.23,287.69 660.71,286.48 661.19,285.15 661.66,283.71 662.14,282.15 662.62,280.49 663.10,278.72 663.58,276.85 664.06,274.90 664.54,272.86 665.02,270.75 665.50,268.60 665.98,266.41 666.45,264.20 666.93,262.01 667.41,259.84 667.89,257.73 668.37,255.70 668.85,253.77 669.33,251.97 669.81,250.31 670.29,248.83 670.77,247.54 671.24,246.46 671.72,245.61 672.20,244.99 672.68,244.62 673.16,244.50 673.64,244.63 674.12,245.02 674.60,245.65 675.08,246.52 675.56,247.62 676.03,248.92 676.51,250.41 676.99,252.08 677.47,253.89 677.95,255.83 678.43,257.86 678.91,259.98 679.39,262.15 679.87,264.34 680.35,266.54 680.82,268.73 681.30,270.89 681.78,272.99 682.26,275.02 682.74,276.97 683.22,278.84 683.70,280.60 684.18,282.26 684.66,283.80 685.14,285.23 685.61,286.55 686.09,287.76 686.57,288.86 687.05,289.86 687.53,290.75 688.01,291.54 688.49,292.25 688.97,292.87 689.45,293.42 689.93,293.90 690.40,294.31 690.88,294.67 691.36,294.98 691.84,295.24 692.32,295.46 692.80,295.65 693.28,295.80 693.76,295.93 694.24,296.04 694.72,296.13 695.19,296.21 695.67,296.27 696.15,296.31 696.63,296.35 697.11,296.38 697.59,296.41 698.07,296.43 698.55,296.45 699.03,296.46 699.51,296.47 699.98,296.48 700.46,296.48 700.94,296.49 701.42,296.49 701.90,296.49" fill="none" stroke="#e87a70" stroke-width="0.90"/>
<polyline points="644.90,296.49 645.38,296.48 645.86,296.48 646.34,296.47 646.82,296.46 647.29,296.45 647.77,296.44 648.25,296.42 648.73,296.40 649.21,296.37 649.69,296.34 650.17,296.29 650.65,296.24 651.13,296.18 651.61,296.10 652.08,296.00 652.56,295.88 653.04,295.74 653.52,295.57 654.00,295.37 654.48,295.13 654.96,294.85 655.44,294.52 655.92,294.14 656.40,293.70 656.87,293.20 657.35,292.62 657.83,291.96 658.31,291.21 658.79,290.38 659.27,289.44 659.75,288.40 660.23,287.26 660.71,286.00 661.19,284.63 661.66,283.15 662.14,281.56 662.62,279.85 663.10,278.05 663.58,276.15 664.06,274.16 664.54,272.09 665.02,269.97 665.50,267.80 665.98,265.60 666.45,263.40 666.93,261.21 667.41,259.06 667.89,256.98 668.37,254.98 668.85,253.09 669.33,251.34 669.81,249.75 670.29,248.33 670.77,247.12 671.24,246.12 671.72,245.35 672.20,244.82 672.68,244.55 673.16,244.52 673.64,244.75 674.12,245.23 674.60,245.95 675.08,246.90 675.56,248.07 676.03,249.45 676.51,251.00 676.99,252.72 677.47,254.59 677.95,256.56 678.43,258.63 678.91,260.77 679.39,262.95 679.87,265.15 680.35,267.35 680.82,269.53 681.30,271.66 681.78,273.74 682.26,275.75 682.74,277.67 683.22,279.50 683.70,281.22 684.18,282.84 684.66,284.34 685.14,285.73 685.61,287.01 686.09,288.18 686.57,289.24 687.05,290.19 687.53,291.05 688.01,291.81 688.49,292.49 688.97,293.08 689.45,293.61 689.93,294.06 690.40,294.45 690.88,294.79 691.36,295.08 691.84,295.32 692.32,295.53 692.80,295.71 693.28,295.85 693.76,295.98 694.24,296.08 694.72,296.16 695.19,296.23 695.67,296.28 696.15,296.33 696.63,296.37 697.11,296.39 697.59,296.42 698.07,296.44 698.55,296.45 699.03,296.46 699.51,296.47 699.98,296.48 700.46,296.48 700.94,296.49 701.42,296.49 701.90,296.49" fill="none" stroke="#8a8a8a" stroke-width="0.60"/>
<polyline points="644.90,296.50 645.38,296.49 645.86,296.49 646.34,296.49 646.82,296.49 647.29,296.48 647.77,296.48 648.25,296.47 648.73,296.46 649.21,296.45 649.69,296.43 650.17,296.41 650.65,296.39 651.13,296.36 651.61,296.32 652.08,296.27 652.56,296.21 653.04,296.14 653.52,296.05 654.00,295.94 654.48,295.82 654.96,295.66 655.44,295.48 655.92,295.26 656.40,295.00 656.87,294.70 657.35,294.35 657.83,293.94 658.31,293.47 658.79,292.93 659.27,292.31 659.75,291.61 660.23,290.83 660.71,289.94 661.19,288.96 661.66,287.87 662.14,286.67 662.62,285.36 663.10,283.94 663.58,282.40 664.06,280.76 664.54,279.01 665.02,277.15 665.50,275.21 665.98,273.18 666.45,271.08 666.93,268.93 667.41,266.75 667.89,264.55 668.37,262.35 668.85,260.18 669.33,258.06 669.81,256.01 670.29,254.06 670.77,252.24 671.24,250.56 671.72,249.05 672.20,247.73 672.68,246.62 673.16,245.72 673.64,245.07 674.12,244.66 674.60,244.50 675.08,244.60 675.56,244.94 676.03,245.54 676.51,246.37 676.99,247.43 677.47,248.70 677.95,250.17 678.43,251.81 678.91,253.60 679.39,255.52 679.87,257.54 680.35,259.65 680.82,261.81 681.30,264.00 681.78,266.20 682.26,268.39 682.74,270.55 683.22,272.66 683.70,274.71 684.18,276.68 684.66,278.55 685.14,280.33 685.61,282.00 686.09,283.57 686.57,285.02 687.05,286.36 687.53,287.58 688.01,288.70 688.49,289.71 688.97,290.61 689.45,291.43 689.93,292.15 690.40,292.78 690.88,293.34 691.36,293.83 691.84,294.25 692.32,294.62 692.80,294.93 693.28,295.20 693.76,295.43 694.24,295.62 694.72,295.78 695.19,295.92 695.67,296.03 696.15,296.12 696.63,296.19 697.11,296.26 697.59,296.31 698.07,296.35 698.55,296.38 699.03,296.41 699.51,296.43 699.98,296.44 700.46,296.46 700.94,296.47 701.42,296.47 701.90,296.48" fill="none" stroke="#5a98ea" stroke-width="0.90"/>
</g>
<rect x="645.90" y="239.20" width="55.00" height="57.00" fill="none" stroke="#505050" stroke-width="0.8"/>
<path d="M652.58 296.20v1.9M663.13 296.20v1.9M673.67 296.20v1.9M684.22 296.20v1.9M694.77 296.20v1.9" stroke="#2a2a2a" stroke-width="0.7" fill="none"/>
<g clip-path="url(#cR50)">
<ellipse cx="436.28" cy="325.21" rx="17.43" ry="14.87" transform="rotate(99.14 436.28 325.21)" fill="#f3ada5" fill-opacity="0.85"/>
<ellipse cx="436.28" cy="325.21" rx="10.78" ry="9.20" transform="rotate(99.14 436.28 325.21)" fill="#e63f33" fill-opacity="0.95"/>
<ellipse cx="437.11" cy="333.53" rx="14.97" ry="11.66" transform="rotate(174.27 437.11 333.53)" fill="#98b8ee" fill-opacity="0.85"/>
<ellipse cx="437.11" cy="333.53" rx="9.26" ry="7.22" transform="rotate(174.27 437.11 333.53)" fill="#1a62d8" fill-opacity="0.95"/>
<ellipse cx="437.11" cy="333.53" rx="15.49" ry="12.07" transform="rotate(174.27 437.11 333.53)" fill="none" stroke="#9a9a9a" stroke-width="0.6"/>
<ellipse cx="437.11" cy="333.53" rx="9.59" ry="7.47" transform="rotate(174.27 437.11 333.53)" fill="none" stroke="#9a9a9a" stroke-width="0.6"/>
<ellipse cx="436.28" cy="324.87" rx="18.04" ry="15.39" transform="rotate(99.14 436.28 324.87)" fill="none" stroke="#333333" stroke-width="0.5"/>
<ellipse cx="436.28" cy="324.87" rx="11.16" ry="9.52" transform="rotate(99.14 436.28 324.87)" fill="none" stroke="#333333" stroke-width="0.5"/>
</g>
<rect x="412.70" y="298.40" width="55.00" height="57.00" fill="none" stroke="#505050" stroke-width="0.8"/>
<path d="M419.50 355.40v1.9M433.37 355.40v1.9M447.23 355.40v1.9M461.10 355.40v1.9M412.70 343.62h-1.9M412.70 330.75h-1.9M412.70 317.88h-1.9M412.70 305.00h-1.9" stroke="#2a2a2a" stroke-width="0.7" fill="none"/>
<g clip-path="url(#cR51)">
<ellipse cx="499.07" cy="325.21" rx="17.93" ry="14.82" transform="rotate(116.18 499.07 325.21)" fill="#f3ada5" fill-opacity="0.85"/>
<ellipse cx="499.07" cy="325.21" rx="11.09" ry="9.17" transform="rotate(116.18 499.07 325.21)" fill="#e63f33" fill-opacity="0.95"/>
<ellipse cx="498.10" cy="333.53" rx="15.69" ry="11.41" transform="rotate(166.05 498.10 333.53)" fill="#98b8ee" fill-opacity="0.85"/>
<ellipse cx="498.10" cy="333.53" rx="9.71" ry="7.06" transform="rotate(166.05 498.10 333.53)" fill="#1a62d8" fill-opacity="0.95"/>
<ellipse cx="498.10" cy="333.53" rx="16.24" ry="11.81" transform="rotate(166.05 498.10 333.53)" fill="none" stroke="#9a9a9a" stroke-width="0.6"/>
<ellipse cx="498.10" cy="333.53" rx="10.05" ry="7.31" transform="rotate(166.05 498.10 333.53)" fill="none" stroke="#9a9a9a" stroke-width="0.6"/>
<ellipse cx="499.07" cy="324.87" rx="18.55" ry="15.34" transform="rotate(116.18 499.07 324.87)" fill="none" stroke="#333333" stroke-width="0.5"/>
<ellipse cx="499.07" cy="324.87" rx="11.48" ry="9.49" transform="rotate(116.18 499.07 324.87)" fill="none" stroke="#333333" stroke-width="0.5"/>
</g>
<rect x="471.00" y="298.40" width="55.00" height="57.00" fill="none" stroke="#505050" stroke-width="0.8"/>
<path d="M480.62 355.40v1.9M496.81 355.40v1.9M512.99 355.40v1.9M471.00 343.62h-1.9M471.00 330.75h-1.9M471.00 317.88h-1.9M471.00 305.00h-1.9" stroke="#2a2a2a" stroke-width="0.7" fill="none"/>
<g clip-path="url(#cR52)">
<ellipse cx="556.47" cy="325.21" rx="17.60" ry="16.60" transform="rotate(60.51 556.47 325.21)" fill="#f3ada5" fill-opacity="0.85"/>
<ellipse cx="556.47" cy="325.21" rx="10.89" ry="10.28" transform="rotate(60.51 556.47 325.21)" fill="#e63f33" fill-opacity="0.95"/>
<ellipse cx="554.31" cy="333.53" rx="16.25" ry="11.67" transform="rotate(-175.73 554.31 333.53)" fill="#98b8ee" fill-opacity="0.85"/>
<ellipse cx="554.31" cy="333.53" rx="10.06" ry="7.22" transform="rotate(-175.73 554.31 333.53)" fill="#1a62d8" fill-opacity="0.95"/>
<ellipse cx="554.62" cy="333.53" rx="16.82" ry="12.08" transform="rotate(-175.73 554.62 333.53)" fill="none" stroke="#9a9a9a" stroke-width="0.6"/>
<ellipse cx="554.62" cy="333.53" rx="10.41" ry="7.47" transform="rotate(-175.73 554.62 333.53)" fill="none" stroke="#9a9a9a" stroke-width="0.6"/>
<ellipse cx="557.49" cy="324.87" rx="18.22" ry="17.19" transform="rotate(60.51 557.49 324.87)" fill="none" stroke="#333333" stroke-width="0.5"/>
<ellipse cx="557.49" cy="324.87" rx="11.27" ry="10.64" transform="rotate(60.51 557.49 324.87)" fill="none" stroke="#333333" stroke-width="0.5"/>
</g>
<rect x="529.30" y="298.40" width="55.00" height="57.00" fill="none" stroke="#505050" stroke-width="0.8"/>
<path d="M543.15 355.40v1.9M559.09 355.40v1.9M575.02 355.40v1.9M529.30 343.62h-1.9M529.30 330.75h-1.9M529.30 317.88h-1.9M529.30 305.00h-1.9" stroke="#2a2a2a" stroke-width="0.7" fill="none"/>
<g clip-path="url(#cR53)">
<ellipse cx="615.37" cy="325.21" rx="22.32" ry="1.96" transform="rotate(129.10 615.37 325.21)" fill="#f3ada5" fill-opacity="0.85"/>
<ellipse cx="615.37" cy="325.21" rx="13.81" ry="1.21" transform="rotate(129.10 615.37 325.21)" fill="#e63f33" fill-opacity="0.95"/>
<ellipse cx="608.27" cy="333.53" rx="15.02" ry="1.32" transform="rotate(129.00 608.27 333.53)" fill="#98b8ee" fill-opacity="0.85"/>
<ellipse cx="608.27" cy="333.53" rx="9.29" ry="0.82" transform="rotate(129.00 608.27 333.53)" fill="#1a62d8" fill-opacity="0.95"/>
<ellipse cx="608.27" cy="333.53" rx="15.54" ry="1.37" transform="rotate(129.00 608.27 333.53)" fill="none" stroke="#9a9a9a" stroke-width="0.6"/>
<ellipse cx="608.27" cy="333.53" rx="9.62" ry="0.85" transform="rotate(129.00 608.27 333.53)" fill="none" stroke="#9a9a9a" stroke-width="0.6"/>
<ellipse cx="615.86" cy="324.87" rx="23.10" ry="2.03" transform="rotate(129.10 615.86 324.87)" fill="none" stroke="#333333" stroke-width="0.5"/>
<ellipse cx="615.86" cy="324.87" rx="14.30" ry="1.26" transform="rotate(129.10 615.86 324.87)" fill="none" stroke="#333333" stroke-width="0.5"/>
</g>
<rect x="587.60" y="298.40" width="55.00" height="57.00" fill="none" stroke="#505050" stroke-width="0.8"/>
<path d="M594.33 355.40v1.9M604.87 355.40v1.9M615.42 355.40v1.9M625.97 355.40v1.9M636.51 355.40v1.9M587.60 343.62h-1.9M587.60 330.75h-1.9M587.60 317.88h-1.9M587.60 305.00h-1.9" stroke="#2a2a2a" stroke-width="0.7" fill="none"/>
<g clip-path="url(#cR54)">
<ellipse cx="673.15" cy="325.21" rx="17.59" ry="16.55" transform="rotate(117.80 673.15 325.21)" fill="#f3ada5" fill-opacity="0.85"/>
<ellipse cx="673.15" cy="325.21" rx="10.88" ry="10.24" transform="rotate(117.80 673.15 325.21)" fill="#e63f33" fill-opacity="0.95"/>
<ellipse cx="674.66" cy="333.53" rx="16.80" ry="11.67" transform="rotate(176.14 674.66 333.53)" fill="#98b8ee" fill-opacity="0.85"/>
<ellipse cx="674.66" cy="333.53" rx="10.40" ry="7.22" transform="rotate(176.14 674.66 333.53)" fill="#1a62d8" fill-opacity="0.95"/>
<ellipse cx="672.97" cy="333.53" rx="17.39" ry="12.08" transform="rotate(176.14 672.97 333.53)" fill="none" stroke="#9a9a9a" stroke-width="0.6"/>
<ellipse cx="672.97" cy="333.53" rx="10.76" ry="7.48" transform="rotate(176.14 672.97 333.53)" fill="none" stroke="#9a9a9a" stroke-width="0.6"/>
<ellipse cx="671.56" cy="324.87" rx="18.20" ry="17.13" transform="rotate(117.80 671.56 324.87)" fill="none" stroke="#333333" stroke-width="0.5"/>
<ellipse cx="671.56" cy="324.87" rx="11.26" ry="10.60" transform="rotate(117.80 671.56 324.87)" fill="none" stroke="#333333" stroke-width="0.5"/>
</g>
<rect x="645.90" y="298.40" width="55.00" height="57.00" fill="none" stroke="#505050" stroke-width="0.8"/>
<path d="M652.58 355.40v1.9M663.13 355.40v1.9M673.67 355.40v1.9M684.22 355.40v1.9M694.77 355.40v1.9M645.90 343.62h-1.9M645.90 330.75h-1.9M645.90 317.88h-1.9M645.90 305.00h-1.9" stroke="#2a2a2a" stroke-width="0.7" fill="none"/>
<g clip-path="url(#cR55)">
<polyline points="703.20,355.67 703.68,355.66 704.16,355.65 704.64,355.64 705.12,355.63 705.59,355.61 706.07,355.59 706.55,355.56 707.03,355.53 707.51,355.49 707.99,355.45 708.47,355.39 708.95,355.33 709.43,355.25 709.91,355.15 710.38,355.05 710.86,354.92 711.34,354.77 711.82,354.60 712.30,354.39 712.78,354.16 713.26,353.90 713.74,353.59 714.22,353.24 714.70,352.85 715.17,352.41 715.65,351.91 716.13,351.35 716.61,350.73 717.09,350.04 717.57,349.27 718.05,348.43 718.53,347.52 719.01,346.52 719.49,345.43 719.96,344.27 720.44,343.01 720.92,341.67 721.40,340.25 721.88,338.74 722.36,337.16 722.84,335.50 723.32,333.78 723.80,332.00 724.28,330.16 724.75,328.29 725.23,326.39 725.71,324.47 726.19,322.55 726.67,320.65 727.15,318.77 727.63,316.93 728.11,315.16 728.59,313.46 729.07,311.85 729.54,310.34 730.02,308.96 730.50,307.72 730.98,306.62 731.46,305.69 731.94,304.93 732.42,304.34 732.90,303.94 733.38,303.73 733.86,303.72 734.33,303.89 734.81,304.26 735.29,304.81 735.77,305.54 736.25,306.45 736.73,307.51 737.21,308.73 737.69,310.09 738.17,311.57 738.65,313.16 739.12,314.85 739.60,316.61 740.08,318.44 740.56,320.31 741.04,322.21 741.52,324.13 742.00,326.05 742.48,327.95 742.96,329.83 743.44,331.67 743.91,333.46 744.39,335.20 744.87,336.87 745.35,338.47 745.83,339.99 746.31,341.42 746.79,342.78 747.27,344.05 747.75,345.23 748.23,346.33 748.70,347.35 749.18,348.28 749.66,349.13 750.14,349.91 750.62,350.61 751.10,351.24 751.58,351.81 752.06,352.32 752.54,352.78 753.02,353.18 753.49,353.53 753.97,353.84 754.45,354.12 754.93,354.36 755.41,354.56 755.89,354.74 756.37,354.89 756.85,355.02 757.33,355.14 757.81,355.23 758.28,355.31 758.76,355.38 759.24,355.44 759.72,355.48 760.20,355.52" fill="none" stroke="#2a2a2a" stroke-width="0.80"/>
<polyline points="703.20,355.67 703.68,355.66 704.16,355.65 704.64,355.63 705.12,355.62 705.59,355.60 706.07,355.57 706.55,355.54 707.03,355.50 707.51,355.46 707.99,355.41 708.47,355.35 708.95,355.27 709.43,355.18 709.91,355.08 710.38,354.96 710.86,354.82 711.34,354.65 711.82,354.46 712.30,354.24 712.78,353.98 713.26,353.69 713.74,353.36 714.22,352.98 714.70,352.55 715.17,352.07 715.65,351.53 716.13,350.93 716.61,350.26 717.09,349.52 717.57,348.70 718.05,347.81 718.53,346.83 719.01,345.78 719.49,344.64 719.96,343.41 720.44,342.09 720.92,340.70 721.40,339.21 721.88,337.65 722.36,336.02 722.84,334.32 723.32,332.55 723.80,330.73 724.28,328.87 724.75,326.98 725.23,325.07 725.71,323.15 726.19,321.23 726.67,319.35 727.15,317.49 727.63,315.70 728.11,313.97 728.59,312.33 729.07,310.80 729.54,309.38 730.02,308.09 730.50,306.95 730.98,305.96 731.46,305.14 731.94,304.50 732.42,304.05 732.90,303.78 733.38,303.70 733.86,303.82 734.33,304.12 734.81,304.62 735.29,305.30 735.77,306.15 736.25,307.17 736.73,308.34 737.21,309.66 737.69,311.10 738.17,312.66 738.65,314.32 739.12,316.06 739.60,317.87 740.08,319.73 740.56,321.63 741.04,323.54 741.52,325.46 742.00,327.37 742.48,329.26 742.96,331.11 743.44,332.92 743.91,334.67 744.39,336.36 744.87,337.98 745.35,339.53 745.83,340.99 746.31,342.37 746.79,343.67 747.27,344.88 747.75,346.00 748.23,347.04 748.70,348.00 749.18,348.88 749.66,349.67 750.14,350.40 750.62,351.06 751.10,351.64 751.58,352.17 752.06,352.64 752.54,353.06 753.02,353.43 753.49,353.75 753.97,354.04 754.45,354.29 754.93,354.50 755.41,354.69 755.89,354.85 756.37,354.99 756.85,355.10 757.33,355.20 757.81,355.29 758.28,355.36 758.76,355.42 759.24,355.47 759.72,355.51 760.20,355.55" fill="none" stroke="#e87a70" stroke-width="0.90"/>
<polyline points="703.20,355.69 703.68,355.69 704.16,355.68 704.64,355.67 705.12,355.66 705.59,355.65 706.07,355.63 706.55,355.60 707.03,355.56 707.51,355.51 707.99,355.45 708.47,355.37 708.95,355.26 709.43,355.12 709.91,354.94 710.38,354.71 710.86,354.43 711.34,354.08 711.82,353.66 712.30,353.14 712.78,352.51 713.26,351.77 713.74,350.90 714.22,349.87 714.70,348.69 715.17,347.33 715.65,345.79 716.13,344.07 716.61,342.16 717.09,340.06 717.57,337.78 718.05,335.33 718.53,332.75 719.01,330.04 719.49,327.25 719.96,324.41 720.44,321.56 720.92,318.76 721.40,316.06 721.88,313.50 722.36,311.15 722.84,309.04 723.32,307.23 723.80,305.77 724.28,304.67 724.75,303.98 725.23,303.70 725.71,303.85 726.19,304.42 726.67,305.39 727.15,306.75 727.63,308.46 728.11,310.48 728.59,312.76 729.07,315.26 729.54,317.93 730.02,320.70 730.50,323.54 730.98,326.39 731.46,329.20 731.94,331.94 732.42,334.56 732.90,337.05 733.38,339.38 733.86,341.54 734.33,343.51 734.81,345.29 735.29,346.89 735.77,348.30 736.25,349.53 736.73,350.60 737.21,351.52 737.69,352.30 738.17,352.96 738.65,353.51 739.12,353.96 739.60,354.33 740.08,354.63 740.56,354.87 741.04,355.07 741.52,355.22 742.00,355.33 742.48,355.43 742.96,355.50 743.44,355.55 743.91,355.59 744.39,355.62 744.87,355.64 745.35,355.66 745.83,355.67 746.31,355.68 746.79,355.69 747.27,355.69 747.75,355.69 748.23,355.70 748.70,355.70 749.18,355.70 749.66,355.70 750.14,355.70 750.62,355.70 751.10,355.70 751.58,355.70 752.06,355.70 752.54,355.70 753.02,355.70 753.49,355.70 753.97,355.70 754.45,355.70 754.93,355.70 755.41,355.70 755.89,355.70 756.37,355.70 756.85,355.70 757.33,355.70 757.81,355.70 758.28,355.70 758.76,355.70 759.24,355.70 759.72,355.70 760.20,355.70" fill="none" stroke="#8a8a8a" stroke-width="0.60"/>
<polyline points="703.20,355.69 703.68,355.69 704.16,355.68 704.64,355.67 705.12,355.66 705.59,355.65 706.07,355.63 706.55,355.60 707.03,355.56 707.51,355.51 707.99,355.45 708.47,355.37 708.95,355.26 709.43,355.12 709.91,354.94 710.38,354.71 710.86,354.43 711.34,354.08 711.82,353.66 712.30,353.14 712.78,352.51 713.26,351.77 713.74,350.90 714.22,349.87 714.70,348.69 715.17,347.33 715.65,345.79 716.13,344.07 716.61,342.16 717.09,340.06 717.57,337.78 718.05,335.33 718.53,332.75 719.01,330.04 719.49,327.25 719.96,324.41 720.44,321.56 720.92,318.76 721.40,316.06 721.88,313.50 722.36,311.15 722.84,309.04 723.32,307.23 723.80,305.77 724.28,304.67 724.75,303.98 725.23,303.70 725.71,303.85 726.19,304.42 726.67,305.39 727.15,306.75 727.63,308.46 728.11,310.48 728.59,312.76 729.07,315.26 729.54,317.93 730.02,320.70 730.50,323.54 730.98,326.39 731.46,329.20 731.94,331.94 732.42,334.56 732.90,337.05 733.38,339.38 733.86,341.54 734.33,343.51 734.81,345.29 735.29,346.89 735.77,348.30 736.25,349.53 736.73,350.60 737.21,351.52 737.69,352.30 738.17,352.96 738.65,353.51 739.12,353.96 739.60,354.33 740.08,354.63 740.56,354.87 741.04,355.07 741.52,355.22 742.00,355.33 742.48,355.43 742.96,355.50 743.44,355.55 743.91,355.59 744.39,355.62 744.87,355.64 745.35,355.66 745.83,355.67 746.31,355.68 746.79,355.69 747.27,355.69 747.75,355.69 748.23,355.70 748.70,355.70 749.18,355.70 749.66,355.70 750.14,355.70 750.62,355.70 751.10,355.70 751.58,355.70 752.06,355.70 752.54,355.70 753.02,355.70 753.49,355.70 753.97,355.70 754.45,355.70 754.93,355.70 755.41,355.70 755.89,355.70 756.37,355.70 756.85,355.70 757.33,355.70 757.81,355.70 758.28,355.70 758.76,355.70 759.24,355.70 759.72,355.70 760.20,355.70" fill="none" stroke="#5a98ea" stroke-width="0.90"/>
</g>
<rect x="704.20" y="298.40" width="55.00" height="57.00" fill="none" stroke="#505050" stroke-width="0.8"/>
<path d="M715.56 355.40v1.9M727.99 355.40v1.9M740.41 355.40v1.9M752.83 355.40v1.9" stroke="#2a2a2a" stroke-width="0.7" fill="none"/>
<text x="419.50" y="364.70" transform="rotate(-22 419.50 362.90)" text-anchor="middle" class="tk">1.041</text>
<text x="433.37" y="364.70" transform="rotate(-22 433.37 362.90)" text-anchor="middle" class="tk">1.042</text>
<text x="447.23" y="364.70" transform="rotate(-22 447.23 362.90)" text-anchor="middle" class="tk">1.043</text>
<text x="461.10" y="364.70" transform="rotate(-22 461.10 362.90)" text-anchor="middle" class="tk">1.044</text>
<text x="440.00" y="373.00" text-anchor="middle" class="lb">100<tspan font-style="italic">θ</tspan><tspan font-style="italic" font-size="4.4" dy="1.0">MC</tspan></text>
<text x="480.62" y="364.70" transform="rotate(-22 480.62 362.90)" text-anchor="middle" class="tk">0.0225</text>
<text x="496.81" y="364.70" transform="rotate(-22 496.81 362.90)" text-anchor="middle" class="tk">0.0230</text>
<text x="512.99" y="364.70" transform="rotate(-22 512.99 362.90)" text-anchor="middle" class="tk">0.0235</text>
<text x="498.20" y="373.00" text-anchor="middle" class="lb">Ω<tspan font-style="italic" font-size="4.6" dy="1.4">b</tspan><tspan font-style="italic" dy="-1.4">h</tspan><tspan font-size="4.6" dy="-2.4">2</tspan></text>
<text x="543.15" y="364.70" transform="rotate(-22 543.15 362.90)" text-anchor="middle" class="tk">0.1075</text>
<text x="559.09" y="364.70" transform="rotate(-22 559.09 362.90)" text-anchor="middle" class="tk">0.1100</text>
<text x="575.02" y="364.70" transform="rotate(-22 575.02 362.90)" text-anchor="middle" class="tk">0.1125</text>
<text x="556.60" y="373.00" text-anchor="middle" class="lb">Ω<tspan font-style="italic" font-size="4.6" dy="1.4">c</tspan><tspan font-style="italic" dy="-1.4">h</tspan><tspan font-size="4.6" dy="-2.4">2</tspan></text>
<text x="594.33" y="364.70" transform="rotate(-22 594.33 362.90)" text-anchor="middle" class="tk">3.06</text>
<text x="604.87" y="364.70" transform="rotate(-22 604.87 362.90)" text-anchor="middle" class="tk">3.12</text>
<text x="615.42" y="364.70" transform="rotate(-22 615.42 362.90)" text-anchor="middle" class="tk">3.18</text>
<text x="625.97" y="364.70" transform="rotate(-22 625.97 362.90)" text-anchor="middle" class="tk">3.24</text>
<text x="636.51" y="364.70" transform="rotate(-22 636.51 362.90)" text-anchor="middle" class="tk">3.30</text>
<text x="615.70" y="373.00" text-anchor="middle" class="lb">ln(10<tspan font-size="4.6" dy="-2.6">10</tspan><tspan font-style="italic" dy="2.6">A</tspan><tspan font-style="italic" font-size="4.6" dy="1.4">s</tspan>)</text>
<text x="652.58" y="364.70" transform="rotate(-22 652.58 362.90)" text-anchor="middle" class="tk">−0.015</text>
<text x="663.13" y="364.70" transform="rotate(-22 663.13 362.90)" text-anchor="middle" class="tk">−0.012</text>
<text x="673.67" y="364.70" transform="rotate(-22 673.67 362.90)" text-anchor="middle" class="tk">−0.009</text>
<text x="684.22" y="364.70" transform="rotate(-22 684.22 362.90)" text-anchor="middle" class="tk">−0.006</text>
<text x="694.77" y="364.70" transform="rotate(-22 694.77 362.90)" text-anchor="middle" class="tk">−0.003</text>
<text x="673.60" y="373.00" text-anchor="middle" class="lb">Ω<tspan font-style="italic" font-size="4.6" dy="1.4">K</tspan></text>
<text x="715.56" y="364.70" transform="rotate(-22 715.56 362.90)" text-anchor="middle" class="tk">0.09</text>
<text x="727.99" y="364.70" transform="rotate(-22 727.99 362.90)" text-anchor="middle" class="tk">0.12</text>
<text x="740.41" y="364.70" transform="rotate(-22 740.41 362.90)" text-anchor="middle" class="tk">0.15</text>
<text x="752.83" y="364.70" transform="rotate(-22 752.83 362.90)" text-anchor="middle" class="tk">0.18</text>
<text x="732.60" y="373.00" text-anchor="middle" class="lb"><tspan font-style="italic">τ</tspan></text>
<text x="410.10" y="110.43" text-anchor="end" class="tk">0.0225</text>
<text x="410.10" y="93.66" text-anchor="end" class="tk">0.0230</text>
<text x="410.10" y="76.89" text-anchor="end" class="tk">0.0235</text>
<text x="0" y="0" transform="translate(391.00 89.60) rotate(-90)" text-anchor="middle" class="lb">Ω<tspan font-style="italic" font-size="4.6" dy="1.4">b</tspan><tspan font-style="italic" dy="-1.4">h</tspan><tspan font-size="4.6" dy="-2.4">2</tspan></text>
<text x="410.10" y="165.25" text-anchor="end" class="tk">0.1075</text>
<text x="410.10" y="148.73" text-anchor="end" class="tk">0.1100</text>
<text x="410.10" y="132.22" text-anchor="end" class="tk">0.1125</text>
<text x="0" y="0" transform="translate(391.00 148.40) rotate(-90)" text-anchor="middle" class="lb">Ω<tspan font-style="italic" font-size="4.6" dy="1.4">c</tspan><tspan font-style="italic" dy="-1.4">h</tspan><tspan font-size="4.6" dy="-2.4">2</tspan></text>
<text x="410.10" y="231.83" text-anchor="end" class="tk">3.06</text>
<text x="410.10" y="220.90" text-anchor="end" class="tk">3.12</text>
<text x="410.10" y="209.97" text-anchor="end" class="tk">3.18</text>
<text x="410.10" y="199.04" text-anchor="end" class="tk">3.24</text>
<text x="410.10" y="188.11" text-anchor="end" class="tk">3.30</text>
<text x="0" y="0" transform="translate(397.40 209.00) rotate(-90)" text-anchor="middle" class="lb">ln(10<tspan font-size="4.6" dy="-2.6">10</tspan><tspan font-style="italic" dy="2.6">A</tspan><tspan font-style="italic" font-size="4.6" dy="1.4">s</tspan>)</text>
<text x="410.10" y="291.08" text-anchor="end" class="tk">−0.015</text>
<text x="410.10" y="280.15" text-anchor="end" class="tk">−0.012</text>
<text x="410.10" y="269.22" text-anchor="end" class="tk">−0.009</text>
<text x="410.10" y="258.29" text-anchor="end" class="tk">−0.006</text>
<text x="410.10" y="247.36" text-anchor="end" class="tk">−0.003</text>
<text x="0" y="0" transform="translate(390.80 268.20) rotate(-90)" text-anchor="middle" class="lb">Ω<tspan font-style="italic" font-size="4.6" dy="1.4">K</tspan></text>
<text x="410.10" y="345.42" text-anchor="end" class="tk">0.09</text>
<text x="410.10" y="332.55" text-anchor="end" class="tk">0.12</text>
<text x="410.10" y="319.68" text-anchor="end" class="tk">0.15</text>
<text x="410.10" y="306.80" text-anchor="end" class="tk">0.18</text>
<text x="0" y="0" transform="translate(397.60 326.60) rotate(-90)" text-anchor="middle" class="lb"><tspan font-style="italic">τ</tspan></text>
<rect x="506.50" y="0.50" width="134.80" height="41.50" rx="1.2" fill="#fff" fill-opacity="0.9" stroke="#d8d8d8" stroke-width="0.6"/>
<path d="M508.90 5.60H523.30" stroke="#707070" stroke-width="0.70"/>
<text x="529.20" y="8.10" class="lg" textLength="71.50" lengthAdjust="spacingAndGlyphs">Nonflat TT+lowP+BAO</text>
<path d="M508.90 15.50H523.30" stroke="#b8b8b8" stroke-width="0.70"/>
<text x="529.20" y="18.00" class="lg" textLength="96.70" lengthAdjust="spacingAndGlyphs">Nonflat TT+lowP+lensing+BAO</text>
<rect x="508.90" y="23.00" width="14.40" height="5" fill="#e63f33"/>
<text x="529.20" y="28.00" class="lg" textLength="84.90" lengthAdjust="spacingAndGlyphs">Nonflat TT+lowP+NewBAO</text>
<rect x="508.90" y="32.90" width="14.40" height="5" fill="#2277e6"/>
<text x="529.20" y="37.90" class="lg" textLength="109.90" lengthAdjust="spacingAndGlyphs">Nonflat TT+lowP+lensing+NewBAO</text>
</svg></body></html>
